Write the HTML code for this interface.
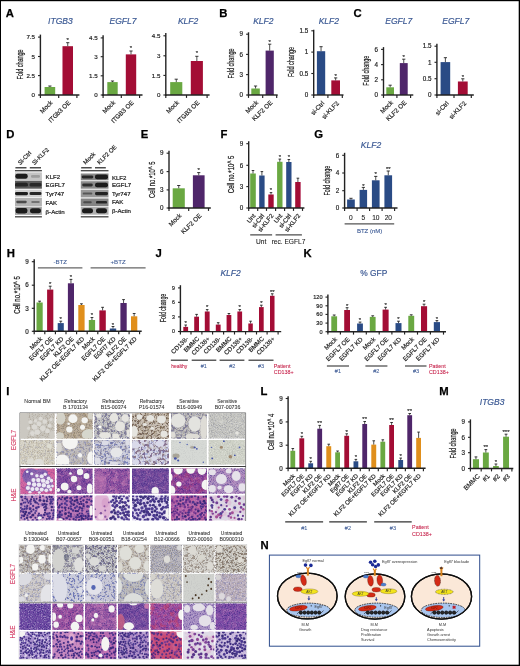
<!DOCTYPE html>
<html lang="en"><head><meta charset="utf-8"><title>Figure</title>
<style>html,body{margin:0;padding:0;background:#fff;}body{width:520px;height:666px;overflow:hidden;}svg{display:block;}svg text{font-family:"Liberation Sans",Arial,Helvetica,sans-serif;}</style>
</head><body>
<svg width="520" height="666" viewBox="0 0 520 666">
<defs>
<filter id="blur1" x="-20%" y="-40%" width="140%" height="180%"><feGaussianBlur stdDeviation="0.55"/></filter>
<filter id="pf" x="0" y="0" width="100%" height="100%" color-interpolation-filters="sRGB"><feTurbulence type="fractalNoise" baseFrequency="0.95" numOctaves="2" seed="3"/><feColorMatrix type="matrix" values="0 0 0 0 0.247  0 0 0 0 0.165  0 0 0 0 0.525  5.0 0 0 0 -2.5"/><feGaussianBlur stdDeviation="0.35"/></filter>
<filter id="pc" x="0" y="0" width="100%" height="100%" color-interpolation-filters="sRGB"><feTurbulence type="fractalNoise" baseFrequency="0.42" numOctaves="2" seed="8"/><feColorMatrix type="matrix" values="0 0 0 0 0.235  0 0 0 0 0.157  0 0 0 0 0.502  10.0 0 0 0 -5.5"/><feGaussianBlur stdDeviation="0.35"/></filter>
<filter id="pd" x="0" y="0" width="100%" height="100%" color-interpolation-filters="sRGB"><feTurbulence type="fractalNoise" baseFrequency="0.42" numOctaves="2" seed="58"/><feColorMatrix type="matrix" values="0 0 0 0 0.235  0 0 0 0 0.157  0 0 0 0 0.502  10.0 0 0 0 -5.5"/><feGaussianBlur stdDeviation="0.35"/></filter>
<filter id="pm" x="0" y="0" width="100%" height="100%" color-interpolation-filters="sRGB"><feTurbulence type="fractalNoise" baseFrequency="0.62" numOctaves="2" seed="5"/><feColorMatrix type="matrix" values="0 0 0 0 0.227  0 0 0 0 0.133  0 0 0 0 0.510  6.0 0 0 0 -3.05"/><feGaussianBlur stdDeviation="0.35"/></filter>
<filter id="kf" x="0" y="0" width="100%" height="100%" color-interpolation-filters="sRGB"><feTurbulence type="fractalNoise" baseFrequency="0.22" numOctaves="2" seed="11"/><feColorMatrix type="matrix" values="0 0 0 0 0.863  0 0 0 0 0.549  0 0 0 0 0.737  5.0 0 0 0 -2.3"/><feGaussianBlur stdDeviation="0.35"/></filter>
<filter id="rf" x="0" y="0" width="100%" height="100%" color-interpolation-filters="sRGB"><feTurbulence type="fractalNoise" baseFrequency="0.2" numOctaves="2" seed="21"/><feColorMatrix type="matrix" values="0 0 0 0 0.831  0 0 0 0 0.251  0 0 0 0 0.369  6.0 0 0 0 -2.9"/><feGaussianBlur stdDeviation="0.35"/></filter>
<filter id="wf" x="0" y="0" width="100%" height="100%" color-interpolation-filters="sRGB"><feTurbulence type="fractalNoise" baseFrequency="0.85" numOctaves="2" seed="14"/><feColorMatrix type="matrix" values="0 0 0 0 1.000  0 0 0 0 1.000  0 0 0 0 1.000  6.0 0 0 0 -3.15"/><feGaussianBlur stdDeviation="0.35"/></filter>
<filter id="wc" x="0" y="0" width="100%" height="100%" color-interpolation-filters="sRGB"><feTurbulence type="fractalNoise" baseFrequency="0.4" numOctaves="2" seed="17"/><feColorMatrix type="matrix" values="0 0 0 0 1.000  0 0 0 0 1.000  0 0 0 0 1.000  8.0 0 0 0 -4.05"/><feGaussianBlur stdDeviation="0.35"/></filter>
<filter id="bf" x="0" y="0" width="100%" height="100%" color-interpolation-filters="sRGB"><feTurbulence type="fractalNoise" baseFrequency="0.95" numOctaves="2" seed="23"/><feColorMatrix type="matrix" values="0 0 0 0 0.502  0 0 0 0 0.455  0 0 0 0 0.400  5.0 0 0 0 -2.5"/><feGaussianBlur stdDeviation="0.35"/></filter>
<filter id="bd" x="0" y="0" width="100%" height="100%" color-interpolation-filters="sRGB"><feTurbulence type="fractalNoise" baseFrequency="0.8" numOctaves="2" seed="29"/><feColorMatrix type="matrix" values="0 0 0 0 0.298  0 0 0 0 0.251  0 0 0 0 0.212  6.0 0 0 0 -3.1"/><feGaussianBlur stdDeviation="0.35"/></filter>
<filter id="bm" x="0" y="0" width="100%" height="100%" color-interpolation-filters="sRGB"><feTurbulence type="fractalNoise" baseFrequency="0.3" numOctaves="2" seed="31"/><feColorMatrix type="matrix" values="0 0 0 0 0.588  0 0 0 0 0.518  0 0 0 0 0.408  5.0 0 0 0 -2.45"/><feGaussianBlur stdDeviation="0.35"/></filter>
<filter id="uf" x="0" y="0" width="100%" height="100%" color-interpolation-filters="sRGB"><feTurbulence type="fractalNoise" baseFrequency="0.9" numOctaves="2" seed="37"/><feColorMatrix type="matrix" values="0 0 0 0 0.373  0 0 0 0 0.412  0 0 0 0 0.667  6.0 0 0 0 -3.2"/><feGaussianBlur stdDeviation="0.35"/></filter>
<filter id="uc" x="0" y="0" width="100%" height="100%" color-interpolation-filters="sRGB"><feTurbulence type="fractalNoise" baseFrequency="0.45" numOctaves="2" seed="41"/><feColorMatrix type="matrix" values="0 0 0 0 0.290  0 0 0 0 0.337  0 0 0 0 0.659  8.0 0 0 0 -4.25"/><feGaussianBlur stdDeviation="0.35"/></filter>
<filter id="gf" x="0" y="0" width="100%" height="100%" color-interpolation-filters="sRGB"><feTurbulence type="fractalNoise" baseFrequency="0.95" numOctaves="2" seed="43"/><feColorMatrix type="matrix" values="0 0 0 0 0.439  0 0 0 0 0.439  0 0 0 0 0.478  5.0 0 0 0 -2.5"/><feGaussianBlur stdDeviation="0.35"/></filter>
<filter id="bc" x="0" y="0" width="100%" height="100%" color-interpolation-filters="sRGB"><feTurbulence type="fractalNoise" baseFrequency="0.45" numOctaves="2" seed="47"/><feColorMatrix type="matrix" values="0 0 0 0 0.361  0 0 0 0 0.275  0 0 0 0 0.212  9.0 0 0 0 -4.7"/><feGaussianBlur stdDeviation="0.35"/></filter>
<filter id="vc" x="0" y="0" width="100%" height="100%" color-interpolation-filters="sRGB"><feTurbulence type="fractalNoise" baseFrequency="0.4" numOctaves="2" seed="53"/><feColorMatrix type="matrix" values="0 0 0 0 0.431  0 0 0 0 0.416  0 0 0 0 0.549  9.0 0 0 0 -4.6"/><feGaussianBlur stdDeviation="0.35"/></filter>
<filter id="mc" x="0" y="0" width="100%" height="100%" color-interpolation-filters="sRGB"><feTurbulence type="fractalNoise" baseFrequency="0.34" numOctaves="2" seed="61"/><feColorMatrix type="matrix" values="0 0 0 0 0.525  0 0 0 0 0.439  0 0 0 0 0.557  10.0 0 0 0 -5.2"/><feGaussianBlur stdDeviation="0.35"/></filter>
<filter id="bb" x="-5%" y="-5%" width="110%" height="110%"><feGaussianBlur stdDeviation="0.45"/></filter>
<filter id="soft" x="0" y="0" width="520" height="666" filterUnits="userSpaceOnUse"><feGaussianBlur stdDeviation="0.3"/></filter>
</defs>
<rect x="0.00" y="0.00" width="520.00" height="666.00" fill="#fff"/>
<g filter="url(#soft)">
<text x="5.80" y="17.20" font-size="11.3" fill="#000" font-weight="bold" stroke="#000" stroke-width="0.25">A</text>
<text x="60.40" y="24.20" font-size="8.5" fill="#3a5893" text-anchor="middle" font-style="italic" stroke="#3a5893" stroke-width="0.18">ITGB3</text>
<text x="19.80" y="64.40" font-size="8.8" fill="#222" text-anchor="middle" transform="rotate(-90 19.80 64.40)" textLength="30.00" lengthAdjust="spacingAndGlyphs" dy="2.8" stroke="#222" stroke-width="0.22">Fold change</text>
<rect x="44.60" y="87.00" width="10.60" height="8.00" fill="#6aa842"/>
<line x1="49.90" y1="87.00" x2="49.90" y2="86.00" stroke="#222" stroke-width="0.8"/>
<line x1="48.30" y1="86.00" x2="51.50" y2="86.00" stroke="#222" stroke-width="0.9"/>
<rect x="62.50" y="46.20" width="10.50" height="48.80" fill="#a30a34"/>
<line x1="67.75" y1="46.20" x2="67.75" y2="42.70" stroke="#222" stroke-width="0.8"/>
<line x1="66.15" y1="42.70" x2="69.35" y2="42.70" stroke="#222" stroke-width="0.9"/>
<text x="67.75" y="42.10" font-size="6.0" fill="#111" text-anchor="middle" stroke="#111" stroke-width="0.1">*</text>
<line x1="40.40" y1="34.60" x2="40.40" y2="95.70" stroke="#222" stroke-width="1.4"/>
<line x1="39.70" y1="95.00" x2="79.40" y2="95.00" stroke="#222" stroke-width="1.4"/>
<line x1="38.00" y1="37.10" x2="40.40" y2="37.10" stroke="#222" stroke-width="1.1"/>
<text x="35.00" y="39.33" font-size="6.2" fill="#222" text-anchor="end" stroke="#222" stroke-width="0.18">7.5</text>
<line x1="38.00" y1="56.50" x2="40.40" y2="56.50" stroke="#222" stroke-width="1.1"/>
<text x="35.00" y="58.73" font-size="6.2" fill="#222" text-anchor="end" stroke="#222" stroke-width="0.18">5</text>
<line x1="38.00" y1="75.60" x2="40.40" y2="75.60" stroke="#222" stroke-width="1.1"/>
<text x="35.00" y="77.83" font-size="6.2" fill="#222" text-anchor="end" stroke="#222" stroke-width="0.18">2.5</text>
<line x1="38.00" y1="95.00" x2="40.40" y2="95.00" stroke="#222" stroke-width="1.1"/>
<text x="35.00" y="97.23" font-size="6.2" fill="#222" text-anchor="end" stroke="#222" stroke-width="0.18">0</text>
<line x1="40.40" y1="95.00" x2="40.40" y2="97.90" stroke="#222" stroke-width="1.15"/>
<line x1="58.70" y1="95.00" x2="58.70" y2="97.90" stroke="#222" stroke-width="1.15"/>
<line x1="76.90" y1="95.00" x2="76.90" y2="97.90" stroke="#222" stroke-width="1.15"/>
<text x="53.10" y="103.00" font-size="6.3" fill="#222" text-anchor="end" transform="rotate(-45 53.10 103.00)" stroke="#222" stroke-width="0.18">Mock</text>
<text x="71.00" y="103.00" font-size="6.3" fill="#222" text-anchor="end" transform="rotate(-45 71.00 103.00)" stroke="#222" stroke-width="0.18">ITGb3 OE</text>
<text x="123.00" y="24.20" font-size="8.5" fill="#3a5893" text-anchor="middle" font-style="italic" stroke="#3a5893" stroke-width="0.18">EGFL7</text>
<rect x="107.30" y="82.10" width="10.40" height="12.90" fill="#6aa842"/>
<line x1="112.50" y1="82.10" x2="112.50" y2="81.00" stroke="#222" stroke-width="0.8"/>
<line x1="110.90" y1="81.00" x2="114.10" y2="81.00" stroke="#222" stroke-width="0.9"/>
<rect x="125.80" y="54.40" width="10.40" height="40.60" fill="#a30a34"/>
<line x1="131.00" y1="54.40" x2="131.00" y2="51.00" stroke="#222" stroke-width="0.8"/>
<line x1="129.40" y1="51.00" x2="132.60" y2="51.00" stroke="#222" stroke-width="0.9"/>
<text x="131.00" y="50.40" font-size="6.0" fill="#111" text-anchor="middle" stroke="#111" stroke-width="0.1">*</text>
<line x1="103.10" y1="35.20" x2="103.10" y2="95.70" stroke="#222" stroke-width="1.4"/>
<line x1="102.40" y1="95.00" x2="142.50" y2="95.00" stroke="#222" stroke-width="1.4"/>
<line x1="100.70" y1="37.90" x2="103.10" y2="37.90" stroke="#222" stroke-width="1.1"/>
<text x="97.70" y="40.13" font-size="6.2" fill="#222" text-anchor="end" stroke="#222" stroke-width="0.18">4.5</text>
<line x1="100.70" y1="56.70" x2="103.10" y2="56.70" stroke="#222" stroke-width="1.1"/>
<text x="97.70" y="58.93" font-size="6.2" fill="#222" text-anchor="end" stroke="#222" stroke-width="0.18">3</text>
<line x1="100.70" y1="75.80" x2="103.10" y2="75.80" stroke="#222" stroke-width="1.1"/>
<text x="97.70" y="78.03" font-size="6.2" fill="#222" text-anchor="end" stroke="#222" stroke-width="0.18">1.5</text>
<line x1="100.70" y1="95.00" x2="103.10" y2="95.00" stroke="#222" stroke-width="1.1"/>
<text x="97.70" y="97.23" font-size="6.2" fill="#222" text-anchor="end" stroke="#222" stroke-width="0.18">0</text>
<line x1="103.10" y1="95.00" x2="103.10" y2="97.90" stroke="#222" stroke-width="1.15"/>
<line x1="121.30" y1="95.00" x2="121.30" y2="97.90" stroke="#222" stroke-width="1.15"/>
<line x1="139.60" y1="95.00" x2="139.60" y2="97.90" stroke="#222" stroke-width="1.15"/>
<text x="115.70" y="103.00" font-size="6.3" fill="#222" text-anchor="end" transform="rotate(-45 115.70 103.00)" stroke="#222" stroke-width="0.18">Mock</text>
<text x="134.20" y="103.00" font-size="6.3" fill="#222" text-anchor="end" transform="rotate(-45 134.20 103.00)" stroke="#222" stroke-width="0.18">ITGB3 OE</text>
<text x="188.10" y="24.20" font-size="8.5" fill="#3a5893" text-anchor="middle" font-style="italic" stroke="#3a5893" stroke-width="0.18">KLF2</text>
<rect x="170.20" y="82.10" width="12.10" height="12.90" fill="#6aa842"/>
<line x1="176.25" y1="82.10" x2="176.25" y2="79.20" stroke="#222" stroke-width="0.8"/>
<line x1="174.65" y1="79.20" x2="177.85" y2="79.20" stroke="#222" stroke-width="0.9"/>
<rect x="190.80" y="61.00" width="12.10" height="34.00" fill="#a30a34"/>
<line x1="196.85" y1="61.00" x2="196.85" y2="56.30" stroke="#222" stroke-width="0.8"/>
<line x1="195.25" y1="56.30" x2="198.45" y2="56.30" stroke="#222" stroke-width="0.9"/>
<text x="196.85" y="55.40" font-size="6.0" fill="#111" text-anchor="middle" stroke="#111" stroke-width="0.1">*</text>
<line x1="165.80" y1="33.00" x2="165.80" y2="95.70" stroke="#222" stroke-width="1.4"/>
<line x1="165.10" y1="95.00" x2="209.60" y2="95.00" stroke="#222" stroke-width="1.4"/>
<line x1="163.40" y1="35.80" x2="165.80" y2="35.80" stroke="#222" stroke-width="1.1"/>
<text x="160.40" y="38.03" font-size="6.2" fill="#222" text-anchor="end" stroke="#222" stroke-width="0.18">4.5</text>
<line x1="163.40" y1="55.80" x2="165.80" y2="55.80" stroke="#222" stroke-width="1.1"/>
<text x="160.40" y="58.03" font-size="6.2" fill="#222" text-anchor="end" stroke="#222" stroke-width="0.18">3</text>
<line x1="163.40" y1="75.40" x2="165.80" y2="75.40" stroke="#222" stroke-width="1.1"/>
<text x="160.40" y="77.63" font-size="6.2" fill="#222" text-anchor="end" stroke="#222" stroke-width="0.18">1.5</text>
<line x1="163.40" y1="95.00" x2="165.80" y2="95.00" stroke="#222" stroke-width="1.1"/>
<text x="160.40" y="97.23" font-size="6.2" fill="#222" text-anchor="end" stroke="#222" stroke-width="0.18">0</text>
<line x1="165.80" y1="95.00" x2="165.80" y2="97.90" stroke="#222" stroke-width="1.15"/>
<line x1="186.50" y1="95.00" x2="186.50" y2="97.90" stroke="#222" stroke-width="1.15"/>
<line x1="207.10" y1="95.00" x2="207.10" y2="97.90" stroke="#222" stroke-width="1.15"/>
<text x="179.40" y="103.00" font-size="6.3" fill="#222" text-anchor="end" transform="rotate(-45 179.40 103.00)" stroke="#222" stroke-width="0.18">Mock</text>
<text x="200.00" y="103.00" font-size="6.3" fill="#222" text-anchor="end" transform="rotate(-45 200.00 103.00)" stroke="#222" stroke-width="0.18">ITGB3 OE</text>
<text x="219.20" y="17.20" font-size="11.3" fill="#000" font-weight="bold" stroke="#000" stroke-width="0.25">B</text>
<text x="263.30" y="24.20" font-size="8.5" fill="#3a5893" text-anchor="middle" font-style="italic" stroke="#3a5893" stroke-width="0.18">KLF2</text>
<text x="231.60" y="63.50" font-size="8.8" fill="#222" text-anchor="middle" transform="rotate(-90 231.60 63.50)" textLength="30.00" lengthAdjust="spacingAndGlyphs" dy="2.8" stroke="#222" stroke-width="0.22">Fold change</text>
<rect x="251.30" y="88.50" width="8.50" height="6.50" fill="#6aa842"/>
<line x1="255.55" y1="88.50" x2="255.55" y2="86.00" stroke="#222" stroke-width="0.8"/>
<line x1="253.95" y1="86.00" x2="257.15" y2="86.00" stroke="#222" stroke-width="0.9"/>
<rect x="265.60" y="50.60" width="8.20" height="44.40" fill="#50256a"/>
<line x1="269.70" y1="50.60" x2="269.70" y2="44.20" stroke="#222" stroke-width="0.8"/>
<line x1="268.10" y1="44.20" x2="271.30" y2="44.20" stroke="#222" stroke-width="0.9"/>
<text x="269.70" y="43.90" font-size="6.0" fill="#111" text-anchor="middle" stroke="#111" stroke-width="0.1">*</text>
<line x1="248.50" y1="32.30" x2="248.50" y2="95.70" stroke="#222" stroke-width="1.4"/>
<line x1="247.80" y1="95.00" x2="277.70" y2="95.00" stroke="#222" stroke-width="1.4"/>
<line x1="246.10" y1="34.20" x2="248.50" y2="34.20" stroke="#222" stroke-width="1.1"/>
<text x="243.10" y="36.47" font-size="6.3" fill="#222" text-anchor="end" stroke="#222" stroke-width="0.18">9</text>
<line x1="246.10" y1="54.40" x2="248.50" y2="54.40" stroke="#222" stroke-width="1.1"/>
<text x="243.10" y="56.67" font-size="6.3" fill="#222" text-anchor="end" stroke="#222" stroke-width="0.18">6</text>
<line x1="246.10" y1="74.60" x2="248.50" y2="74.60" stroke="#222" stroke-width="1.1"/>
<text x="243.10" y="76.87" font-size="6.3" fill="#222" text-anchor="end" stroke="#222" stroke-width="0.18">3</text>
<line x1="246.10" y1="95.00" x2="248.50" y2="95.00" stroke="#222" stroke-width="1.1"/>
<text x="243.10" y="97.27" font-size="6.3" fill="#222" text-anchor="end" stroke="#222" stroke-width="0.18">0</text>
<line x1="248.50" y1="95.00" x2="248.50" y2="97.90" stroke="#222" stroke-width="1.15"/>
<line x1="262.70" y1="95.00" x2="262.70" y2="97.90" stroke="#222" stroke-width="1.15"/>
<line x1="276.70" y1="95.00" x2="276.70" y2="97.90" stroke="#222" stroke-width="1.15"/>
<text x="258.70" y="103.00" font-size="6.3" fill="#222" text-anchor="end" transform="rotate(-45 258.70 103.00)" stroke="#222" stroke-width="0.18">Mock</text>
<text x="272.90" y="103.00" font-size="6.3" fill="#222" text-anchor="end" transform="rotate(-45 272.90 103.00)" stroke="#222" stroke-width="0.18">KLF2 OE</text>
<text x="328.80" y="24.20" font-size="8.5" fill="#3a5893" text-anchor="middle" font-style="italic" stroke="#3a5893" stroke-width="0.18">KLF2</text>
<text x="291.50" y="62.00" font-size="8.8" fill="#222" text-anchor="middle" transform="rotate(-90 291.50 62.00)" textLength="30.00" lengthAdjust="spacingAndGlyphs" dy="2.8" stroke="#222" stroke-width="0.22">Fold change</text>
<rect x="316.90" y="51.20" width="8.30" height="43.80" fill="#2b4b85"/>
<line x1="321.05" y1="51.20" x2="321.05" y2="46.70" stroke="#222" stroke-width="0.8"/>
<line x1="319.45" y1="46.70" x2="322.65" y2="46.70" stroke="#222" stroke-width="0.9"/>
<rect x="331.30" y="80.40" width="8.70" height="14.60" fill="#a30a34"/>
<line x1="335.65" y1="80.40" x2="335.65" y2="77.90" stroke="#222" stroke-width="0.8"/>
<line x1="334.05" y1="77.90" x2="337.25" y2="77.90" stroke="#222" stroke-width="0.9"/>
<text x="335.65" y="77.70" font-size="6.0" fill="#111" text-anchor="middle" stroke="#111" stroke-width="0.1">*</text>
<line x1="313.70" y1="29.80" x2="313.70" y2="95.70" stroke="#222" stroke-width="1.4"/>
<line x1="313.00" y1="95.00" x2="343.50" y2="95.00" stroke="#222" stroke-width="1.4"/>
<line x1="311.30" y1="30.80" x2="313.70" y2="30.80" stroke="#222" stroke-width="1.1"/>
<text x="308.30" y="33.07" font-size="6.3" fill="#222" text-anchor="end" stroke="#222" stroke-width="0.18">1.5</text>
<line x1="311.30" y1="52.10" x2="313.70" y2="52.10" stroke="#222" stroke-width="1.1"/>
<text x="308.30" y="54.37" font-size="6.3" fill="#222" text-anchor="end" stroke="#222" stroke-width="0.18">1</text>
<line x1="311.30" y1="73.50" x2="313.70" y2="73.50" stroke="#222" stroke-width="1.1"/>
<text x="308.30" y="75.77" font-size="6.3" fill="#222" text-anchor="end" stroke="#222" stroke-width="0.18">0.5</text>
<line x1="311.30" y1="95.00" x2="313.70" y2="95.00" stroke="#222" stroke-width="1.1"/>
<text x="308.30" y="97.27" font-size="6.3" fill="#222" text-anchor="end" stroke="#222" stroke-width="0.18">0</text>
<line x1="313.70" y1="95.00" x2="313.70" y2="97.90" stroke="#222" stroke-width="1.15"/>
<line x1="327.90" y1="95.00" x2="327.90" y2="97.90" stroke="#222" stroke-width="1.15"/>
<line x1="342.30" y1="95.00" x2="342.30" y2="97.90" stroke="#222" stroke-width="1.15"/>
<text x="324.80" y="103.60" font-size="6.3" fill="#222" text-anchor="end" transform="rotate(-47 324.80 103.60)" stroke="#222" stroke-width="0.18">si-Ctrl</text>
<text x="339.40" y="103.60" font-size="6.3" fill="#222" text-anchor="end" transform="rotate(-47 339.40 103.60)" stroke="#222" stroke-width="0.18">si-KLF2</text>
<text x="353.50" y="17.20" font-size="11.3" fill="#000" font-weight="bold" stroke="#000" stroke-width="0.25">C</text>
<text x="398.70" y="24.20" font-size="8.5" fill="#3a5893" text-anchor="middle" font-style="italic" stroke="#3a5893" stroke-width="0.18">EGFL7</text>
<text x="366.30" y="70.70" font-size="8.8" fill="#222" text-anchor="middle" transform="rotate(-90 366.30 70.70)" textLength="30.00" lengthAdjust="spacingAndGlyphs" dy="2.8" stroke="#222" stroke-width="0.22">Fold change</text>
<rect x="386.30" y="87.30" width="7.70" height="7.70" fill="#6aa842"/>
<line x1="390.15" y1="87.30" x2="390.15" y2="85.20" stroke="#222" stroke-width="0.8"/>
<line x1="388.55" y1="85.20" x2="391.75" y2="85.20" stroke="#222" stroke-width="0.9"/>
<rect x="399.80" y="63.10" width="7.90" height="31.90" fill="#50256a"/>
<line x1="403.75" y1="63.10" x2="403.75" y2="59.20" stroke="#222" stroke-width="0.8"/>
<line x1="402.15" y1="59.20" x2="405.35" y2="59.20" stroke="#222" stroke-width="0.9"/>
<text x="403.75" y="59.40" font-size="6.0" fill="#111" text-anchor="middle" stroke="#111" stroke-width="0.1">*</text>
<line x1="383.50" y1="47.10" x2="383.50" y2="95.70" stroke="#222" stroke-width="1.4"/>
<line x1="382.80" y1="95.00" x2="413.30" y2="95.00" stroke="#222" stroke-width="1.4"/>
<line x1="381.10" y1="49.40" x2="383.50" y2="49.40" stroke="#222" stroke-width="1.1"/>
<text x="378.10" y="51.67" font-size="6.3" fill="#222" text-anchor="end" stroke="#222" stroke-width="0.18">6</text>
<line x1="381.10" y1="64.60" x2="383.50" y2="64.60" stroke="#222" stroke-width="1.1"/>
<text x="378.10" y="66.87" font-size="6.3" fill="#222" text-anchor="end" stroke="#222" stroke-width="0.18">4</text>
<line x1="381.10" y1="79.80" x2="383.50" y2="79.80" stroke="#222" stroke-width="1.1"/>
<text x="378.10" y="82.07" font-size="6.3" fill="#222" text-anchor="end" stroke="#222" stroke-width="0.18">2</text>
<line x1="381.10" y1="95.00" x2="383.50" y2="95.00" stroke="#222" stroke-width="1.1"/>
<text x="378.10" y="97.27" font-size="6.3" fill="#222" text-anchor="end" stroke="#222" stroke-width="0.18">0</text>
<line x1="383.50" y1="95.00" x2="383.50" y2="97.90" stroke="#222" stroke-width="1.15"/>
<line x1="396.90" y1="95.00" x2="396.90" y2="97.90" stroke="#222" stroke-width="1.15"/>
<line x1="410.60" y1="95.00" x2="410.60" y2="97.90" stroke="#222" stroke-width="1.15"/>
<text x="393.40" y="103.00" font-size="6.3" fill="#222" text-anchor="end" transform="rotate(-45 393.40 103.00)" stroke="#222" stroke-width="0.18">Mock</text>
<text x="406.90" y="103.00" font-size="6.3" fill="#222" text-anchor="end" transform="rotate(-45 406.90 103.00)" stroke="#222" stroke-width="0.18">KLF2 OE</text>
<text x="455.70" y="24.20" font-size="8.5" fill="#3a5893" text-anchor="middle" font-style="italic" stroke="#3a5893" stroke-width="0.18">EGFL7</text>
<rect x="440.60" y="62.10" width="9.60" height="32.90" fill="#2b4b85"/>
<line x1="445.40" y1="62.10" x2="445.40" y2="57.70" stroke="#222" stroke-width="0.8"/>
<line x1="443.80" y1="57.70" x2="447.00" y2="57.70" stroke="#222" stroke-width="0.9"/>
<rect x="457.90" y="81.50" width="9.80" height="13.50" fill="#a30a34"/>
<line x1="462.80" y1="81.50" x2="462.80" y2="78.80" stroke="#222" stroke-width="0.8"/>
<line x1="461.20" y1="78.80" x2="464.40" y2="78.80" stroke="#222" stroke-width="0.9"/>
<text x="462.80" y="78.70" font-size="6.0" fill="#111" text-anchor="middle" stroke="#111" stroke-width="0.1">*</text>
<line x1="436.90" y1="43.80" x2="436.90" y2="95.70" stroke="#222" stroke-width="1.4"/>
<line x1="436.20" y1="95.00" x2="473.80" y2="95.00" stroke="#222" stroke-width="1.4"/>
<line x1="434.50" y1="46.20" x2="436.90" y2="46.20" stroke="#222" stroke-width="1.1"/>
<text x="431.50" y="48.47" font-size="6.3" fill="#222" text-anchor="end" stroke="#222" stroke-width="0.18">1.5</text>
<line x1="434.50" y1="62.30" x2="436.90" y2="62.30" stroke="#222" stroke-width="1.1"/>
<text x="431.50" y="64.57" font-size="6.3" fill="#222" text-anchor="end" stroke="#222" stroke-width="0.18">1</text>
<line x1="434.50" y1="78.70" x2="436.90" y2="78.70" stroke="#222" stroke-width="1.1"/>
<text x="431.50" y="80.97" font-size="6.3" fill="#222" text-anchor="end" stroke="#222" stroke-width="0.18">0.5</text>
<line x1="434.50" y1="95.00" x2="436.90" y2="95.00" stroke="#222" stroke-width="1.1"/>
<text x="431.50" y="97.27" font-size="6.3" fill="#222" text-anchor="end" stroke="#222" stroke-width="0.18">0</text>
<line x1="436.90" y1="95.00" x2="436.90" y2="97.90" stroke="#222" stroke-width="1.15"/>
<line x1="454.00" y1="95.00" x2="454.00" y2="97.90" stroke="#222" stroke-width="1.15"/>
<line x1="471.30" y1="95.00" x2="471.30" y2="97.90" stroke="#222" stroke-width="1.15"/>
<text x="449.20" y="103.60" font-size="6.3" fill="#222" text-anchor="end" transform="rotate(-47 449.20 103.60)" stroke="#222" stroke-width="0.18">si-Ctrl</text>
<text x="466.60" y="103.60" font-size="6.3" fill="#222" text-anchor="end" transform="rotate(-47 466.60 103.60)" stroke="#222" stroke-width="0.18">si-KLF2</text>
<text x="6.30" y="137.50" font-size="11.3" fill="#000" font-weight="bold" stroke="#000" stroke-width="0.25">D</text>
<line x1="15.00" y1="170.70" x2="41.90" y2="170.70" stroke="#444" stroke-width="1.3"/>
<line x1="15.00" y1="216.80" x2="41.90" y2="216.80" stroke="#444" stroke-width="1.3"/>
<rect x="15.00" y="172.40" width="26.90" height="7.90" fill="#c4c4c4"/>
<rect x="15.25" y="173.85" width="12.50" height="5.00" rx="2.25" fill="#141414" opacity="0.95" filter="url(#blur1)"/>
<rect x="31.00" y="175.05" width="9.00" height="2.60" rx="1.17" fill="#141414" opacity="0.22" filter="url(#blur1)"/>
<rect x="15.00" y="180.70" width="26.90" height="8.00" fill="#5c5c5c"/>
<rect x="15.00" y="182.80" width="13.00" height="3.80" rx="1.71" fill="#141414" opacity="0.75" filter="url(#blur1)"/>
<rect x="29.50" y="183.00" width="12.00" height="3.40" rx="1.53" fill="#141414" opacity="0.7" filter="url(#blur1)"/>
<rect x="15.00" y="189.70" width="26.90" height="7.70" fill="#d0d0d0"/>
<rect x="15.00" y="191.95" width="13.00" height="3.20" rx="1.44" fill="#141414" opacity="0.95" filter="url(#blur1)"/>
<rect x="29.50" y="192.05" width="12.00" height="3.00" rx="1.35" fill="#141414" opacity="0.9" filter="url(#blur1)"/>
<rect x="15.00" y="198.00" width="26.90" height="8.00" fill="#b2b2b2"/>
<rect x="16.25" y="200.80" width="10.50" height="2.40" rx="1.08" fill="#141414" opacity="0.65" filter="url(#blur1)"/>
<rect x="31.25" y="200.90" width="8.50" height="2.20" rx="0.99" fill="#141414" opacity="0.4" filter="url(#blur1)"/>
<rect x="15.00" y="206.60" width="26.90" height="8.30" fill="#a6a6a6"/>
<rect x="15.50" y="208.05" width="12.00" height="5.40" rx="2.43" fill="#141414" opacity="0.97" filter="url(#blur1)"/>
<rect x="30.00" y="208.15" width="11.00" height="5.20" rx="2.34" fill="#141414" opacity="0.95" filter="url(#blur1)"/>
<text x="45.60" y="178.50" font-size="6.1" fill="#1a1a1a" stroke="#1a1a1a" stroke-width="0.2">KLF2</text>
<text x="45.60" y="187.00" font-size="6.1" fill="#1a1a1a" stroke="#1a1a1a" stroke-width="0.2">EGFL7</text>
<text x="45.60" y="196.20" font-size="6.1" fill="#1a1a1a" stroke="#1a1a1a" stroke-width="0.2">Tyr747</text>
<text x="45.60" y="204.50" font-size="6.1" fill="#1a1a1a" stroke="#1a1a1a" stroke-width="0.2">FAK</text>
<text x="45.60" y="213.50" font-size="6.1" fill="#1a1a1a" stroke="#1a1a1a" stroke-width="0.2">β-Actin</text>
<line x1="15.40" y1="167.80" x2="26.50" y2="167.80" stroke="#222" stroke-width="1.2"/>
<line x1="29.80" y1="167.80" x2="41.00" y2="167.80" stroke="#222" stroke-width="1.2"/>
<text x="20.20" y="165.20" font-size="5.9" fill="#222" transform="rotate(-45 20.20 165.20)" stroke="#222" stroke-width="0.18">Si-Ctrl</text>
<text x="34.40" y="165.20" font-size="5.9" fill="#222" transform="rotate(-45 34.40 165.20)" stroke="#222" stroke-width="0.18">Si-KLF2</text>
<line x1="80.80" y1="170.70" x2="108.50" y2="170.70" stroke="#444" stroke-width="1.3"/>
<line x1="80.80" y1="216.80" x2="108.50" y2="216.80" stroke="#444" stroke-width="1.3"/>
<rect x="80.80" y="173.50" width="27.70" height="6.80" fill="#888888"/>
<rect x="81.75" y="175.40" width="11.50" height="3.00" rx="1.35" fill="#141414" opacity="0.85" filter="url(#blur1)"/>
<rect x="95.00" y="174.60" width="13.00" height="4.60" rx="2.07" fill="#141414" opacity="0.95" filter="url(#blur1)"/>
<rect x="80.80" y="181.20" width="27.70" height="7.50" fill="#8a8a8a"/>
<rect x="82.25" y="183.45" width="10.50" height="3.00" rx="1.35" fill="#141414" opacity="0.8" filter="url(#blur1)"/>
<rect x="95.00" y="182.65" width="13.00" height="4.60" rx="2.07" fill="#141414" opacity="0.95" filter="url(#blur1)"/>
<rect x="80.80" y="189.70" width="27.70" height="7.70" fill="#989898"/>
<rect x="82.75" y="192.55" width="9.50" height="2.00" rx="0.90" fill="#141414" opacity="0.5" filter="url(#blur1)"/>
<rect x="95.00" y="191.95" width="13.00" height="3.20" rx="1.44" fill="#141414" opacity="0.9" filter="url(#blur1)"/>
<rect x="80.80" y="198.50" width="27.70" height="7.50" fill="#848484"/>
<rect x="83.25" y="201.30" width="8.50" height="1.90" rx="0.85" fill="#141414" opacity="0.5" filter="url(#blur1)"/>
<rect x="96.00" y="200.95" width="11.00" height="2.60" rx="1.17" fill="#141414" opacity="0.85" filter="url(#blur1)"/>
<rect x="80.80" y="206.60" width="27.70" height="8.10" fill="#b0b0b0"/>
<rect x="82.00" y="208.15" width="11.00" height="5.00" rx="2.25" fill="#141414" opacity="0.97" filter="url(#blur1)"/>
<rect x="96.00" y="208.15" width="11.00" height="5.00" rx="2.25" fill="#141414" opacity="0.97" filter="url(#blur1)"/>
<text x="111.90" y="179.90" font-size="6.1" fill="#1a1a1a" stroke="#1a1a1a" stroke-width="0.2">KLF2</text>
<text x="111.90" y="186.60" font-size="6.1" fill="#1a1a1a" stroke="#1a1a1a" stroke-width="0.2">EGFL7</text>
<text x="111.90" y="196.20" font-size="6.1" fill="#1a1a1a" stroke="#1a1a1a" stroke-width="0.2">Tyr747</text>
<text x="111.90" y="203.90" font-size="6.1" fill="#1a1a1a" stroke="#1a1a1a" stroke-width="0.2">FAK</text>
<text x="111.90" y="212.60" font-size="6.1" fill="#1a1a1a" stroke="#1a1a1a" stroke-width="0.2">β-Actin</text>
<line x1="81.20" y1="167.80" x2="91.70" y2="167.80" stroke="#222" stroke-width="1.2"/>
<line x1="95.00" y1="167.80" x2="105.80" y2="167.80" stroke="#222" stroke-width="1.2"/>
<text x="85.60" y="164.80" font-size="6.0" fill="#222" transform="rotate(-45 85.60 164.80)" stroke="#222" stroke-width="0.18">Mock</text>
<text x="99.60" y="164.80" font-size="6.0" fill="#222" transform="rotate(-45 99.60 164.80)" stroke="#222" stroke-width="0.18">KLF2 OE</text>
<text x="140.80" y="137.50" font-size="11.3" fill="#000" font-weight="bold" stroke="#000" stroke-width="0.25">E</text>
<text x="151.80" y="179.70" font-size="8.8" fill="#222" text-anchor="middle" transform="rotate(-90 151.80 179.70)" textLength="36.50" lengthAdjust="spacingAndGlyphs" dy="2.8" stroke="#222" stroke-width="0.22">Cell no.*10^ 5</text>
<rect x="172.70" y="188.30" width="12.10" height="19.70" fill="#6aa842"/>
<line x1="178.75" y1="188.30" x2="178.75" y2="185.50" stroke="#222" stroke-width="0.8"/>
<line x1="177.15" y1="185.50" x2="180.35" y2="185.50" stroke="#222" stroke-width="0.9"/>
<rect x="192.90" y="175.30" width="11.70" height="32.70" fill="#50256a"/>
<line x1="198.75" y1="175.30" x2="198.75" y2="172.60" stroke="#222" stroke-width="0.8"/>
<line x1="197.15" y1="172.60" x2="200.35" y2="172.60" stroke="#222" stroke-width="0.9"/>
<text x="198.75" y="172.20" font-size="6.0" fill="#111" text-anchor="middle" stroke="#111" stroke-width="0.1">*</text>
<line x1="169.00" y1="150.80" x2="169.00" y2="208.70" stroke="#222" stroke-width="1.4"/>
<line x1="168.30" y1="208.00" x2="210.80" y2="208.00" stroke="#222" stroke-width="1.4"/>
<line x1="166.60" y1="153.20" x2="169.00" y2="153.20" stroke="#222" stroke-width="1.1"/>
<text x="163.60" y="155.47" font-size="6.3" fill="#222" text-anchor="end" stroke="#222" stroke-width="0.18">9</text>
<line x1="166.60" y1="171.60" x2="169.00" y2="171.60" stroke="#222" stroke-width="1.1"/>
<text x="163.60" y="173.87" font-size="6.3" fill="#222" text-anchor="end" stroke="#222" stroke-width="0.18">6</text>
<line x1="166.60" y1="189.90" x2="169.00" y2="189.90" stroke="#222" stroke-width="1.1"/>
<text x="163.60" y="192.17" font-size="6.3" fill="#222" text-anchor="end" stroke="#222" stroke-width="0.18">3</text>
<line x1="166.60" y1="208.00" x2="169.00" y2="208.00" stroke="#222" stroke-width="1.1"/>
<text x="163.60" y="210.27" font-size="6.3" fill="#222" text-anchor="end" stroke="#222" stroke-width="0.18">0</text>
<line x1="169.00" y1="208.00" x2="169.00" y2="210.90" stroke="#222" stroke-width="1.15"/>
<line x1="188.70" y1="208.00" x2="188.70" y2="210.90" stroke="#222" stroke-width="1.15"/>
<line x1="208.50" y1="208.00" x2="208.50" y2="210.90" stroke="#222" stroke-width="1.15"/>
<text x="181.90" y="216.00" font-size="6.3" fill="#222" text-anchor="end" transform="rotate(-45 181.90 216.00)" stroke="#222" stroke-width="0.18">Mock</text>
<text x="201.90" y="216.00" font-size="6.3" fill="#222" text-anchor="end" transform="rotate(-45 201.90 216.00)" stroke="#222" stroke-width="0.18">KLF2 OE</text>
<text x="220.60" y="137.50" font-size="11.3" fill="#000" font-weight="bold" stroke="#000" stroke-width="0.25">F</text>
<text x="231.30" y="174.40" font-size="8.8" fill="#222" text-anchor="middle" transform="rotate(-90 231.30 174.40)" textLength="37.50" lengthAdjust="spacingAndGlyphs" dy="2.8" stroke="#222" stroke-width="0.22">Cell no.*10^ 5</text>
<rect x="250.20" y="173.50" width="5.60" height="34.50" fill="#6aa842"/>
<line x1="253.00" y1="173.50" x2="253.00" y2="170.50" stroke="#222" stroke-width="0.8"/>
<line x1="251.70" y1="170.50" x2="254.30" y2="170.50" stroke="#222" stroke-width="0.9"/>
<rect x="259.20" y="175.50" width="5.40" height="32.50" fill="#2b4b85"/>
<line x1="261.90" y1="175.50" x2="261.90" y2="171.60" stroke="#222" stroke-width="0.8"/>
<line x1="260.60" y1="171.60" x2="263.20" y2="171.60" stroke="#222" stroke-width="0.9"/>
<rect x="268.30" y="194.50" width="5.40" height="13.50" fill="#a30a34"/>
<line x1="271.00" y1="194.50" x2="271.00" y2="192.60" stroke="#222" stroke-width="0.8"/>
<line x1="269.70" y1="192.60" x2="272.30" y2="192.60" stroke="#222" stroke-width="0.9"/>
<text x="271.00" y="192.40" font-size="6.0" fill="#111" text-anchor="middle" stroke="#111" stroke-width="0.1">*</text>
<rect x="277.10" y="161.80" width="5.40" height="46.20" fill="#6aa842"/>
<line x1="279.80" y1="161.80" x2="279.80" y2="159.10" stroke="#222" stroke-width="0.8"/>
<line x1="278.50" y1="159.10" x2="281.10" y2="159.10" stroke="#222" stroke-width="0.9"/>
<text x="279.80" y="158.80" font-size="6.0" fill="#111" text-anchor="middle" stroke="#111" stroke-width="0.1">*</text>
<rect x="286.20" y="162.00" width="5.30" height="46.00" fill="#2b4b85"/>
<line x1="288.85" y1="162.00" x2="288.85" y2="159.50" stroke="#222" stroke-width="0.8"/>
<line x1="287.55" y1="159.50" x2="290.15" y2="159.50" stroke="#222" stroke-width="0.9"/>
<text x="288.85" y="159.30" font-size="6.0" fill="#111" text-anchor="middle" stroke="#111" stroke-width="0.1">*</text>
<rect x="295.20" y="182.00" width="5.40" height="26.00" fill="#a30a34"/>
<line x1="297.90" y1="182.00" x2="297.90" y2="178.20" stroke="#222" stroke-width="0.8"/>
<line x1="296.60" y1="178.20" x2="299.20" y2="178.20" stroke="#222" stroke-width="0.9"/>
<line x1="248.70" y1="141.20" x2="248.70" y2="208.70" stroke="#222" stroke-width="1.4"/>
<line x1="248.00" y1="208.00" x2="304.40" y2="208.00" stroke="#222" stroke-width="1.4"/>
<line x1="246.30" y1="143.70" x2="248.70" y2="143.70" stroke="#222" stroke-width="1.1"/>
<text x="243.30" y="145.97" font-size="6.3" fill="#222" text-anchor="end" stroke="#222" stroke-width="0.18">9</text>
<line x1="246.30" y1="165.30" x2="248.70" y2="165.30" stroke="#222" stroke-width="1.1"/>
<text x="243.30" y="167.57" font-size="6.3" fill="#222" text-anchor="end" stroke="#222" stroke-width="0.18">6</text>
<line x1="246.30" y1="186.60" x2="248.70" y2="186.60" stroke="#222" stroke-width="1.1"/>
<text x="243.30" y="188.87" font-size="6.3" fill="#222" text-anchor="end" stroke="#222" stroke-width="0.18">3</text>
<line x1="246.30" y1="208.00" x2="248.70" y2="208.00" stroke="#222" stroke-width="1.1"/>
<text x="243.30" y="210.27" font-size="6.3" fill="#222" text-anchor="end" stroke="#222" stroke-width="0.18">0</text>
<line x1="248.70" y1="208.00" x2="248.70" y2="210.90" stroke="#222" stroke-width="1.15"/>
<line x1="257.70" y1="208.00" x2="257.70" y2="210.90" stroke="#222" stroke-width="1.15"/>
<line x1="266.50" y1="208.00" x2="266.50" y2="210.90" stroke="#222" stroke-width="1.15"/>
<line x1="275.60" y1="208.00" x2="275.60" y2="210.90" stroke="#222" stroke-width="1.15"/>
<line x1="284.60" y1="208.00" x2="284.60" y2="210.90" stroke="#222" stroke-width="1.15"/>
<line x1="293.50" y1="208.00" x2="293.50" y2="210.90" stroke="#222" stroke-width="1.15"/>
<line x1="302.50" y1="208.00" x2="302.50" y2="210.90" stroke="#222" stroke-width="1.15"/>
<text x="255.80" y="215.80" font-size="6.2" fill="#222" text-anchor="end" transform="rotate(-52 255.80 215.80)" stroke="#222" stroke-width="0.18">Unt</text>
<text x="264.70" y="215.80" font-size="6.2" fill="#222" text-anchor="end" transform="rotate(-52 264.70 215.80)" stroke="#222" stroke-width="0.18">si-Ctrl</text>
<text x="273.80" y="215.80" font-size="6.2" fill="#222" text-anchor="end" transform="rotate(-52 273.80 215.80)" stroke="#222" stroke-width="0.18">si-KLF2</text>
<text x="282.60" y="215.80" font-size="6.2" fill="#222" text-anchor="end" transform="rotate(-52 282.60 215.80)" stroke="#222" stroke-width="0.18">Unt</text>
<text x="291.60" y="215.80" font-size="6.2" fill="#222" text-anchor="end" transform="rotate(-52 291.60 215.80)" stroke="#222" stroke-width="0.18">si-Ctrl</text>
<text x="300.70" y="215.80" font-size="6.2" fill="#222" text-anchor="end" transform="rotate(-52 300.70 215.80)" stroke="#222" stroke-width="0.18">si-KLF2</text>
<line x1="250.20" y1="234.90" x2="272.10" y2="234.90" stroke="#333" stroke-width="1.1"/>
<line x1="275.60" y1="234.90" x2="301.90" y2="234.90" stroke="#333" stroke-width="1.1"/>
<text x="261.20" y="243.50" font-size="6.6" fill="#222" text-anchor="middle" stroke="#222" stroke-width="0.1">Unt</text>
<text x="288.50" y="243.50" font-size="6.6" fill="#222" text-anchor="middle" stroke="#222" stroke-width="0.1">rec. EGFL7</text>
<text x="314.20" y="137.50" font-size="11.3" fill="#000" font-weight="bold" stroke="#000" stroke-width="0.25">G</text>
<text x="371.00" y="148.20" font-size="8.5" fill="#3a5893" text-anchor="middle" font-style="italic" stroke="#3a5893" stroke-width="0.18">KLF2</text>
<text x="327.30" y="180.60" font-size="8.8" fill="#222" text-anchor="middle" transform="rotate(-90 327.30 180.60)" textLength="30.00" lengthAdjust="spacingAndGlyphs" dy="2.8" stroke="#222" stroke-width="0.22">Fold change</text>
<rect x="347.10" y="199.50" width="7.70" height="8.50" fill="#2b4b85"/>
<line x1="350.95" y1="199.50" x2="350.95" y2="198.30" stroke="#222" stroke-width="0.8"/>
<line x1="349.35" y1="198.30" x2="352.55" y2="198.30" stroke="#222" stroke-width="0.9"/>
<rect x="359.60" y="189.90" width="7.50" height="18.10" fill="#2b4b85"/>
<line x1="363.35" y1="189.90" x2="363.35" y2="187.40" stroke="#222" stroke-width="0.8"/>
<line x1="361.75" y1="187.40" x2="364.95" y2="187.40" stroke="#222" stroke-width="0.9"/>
<text x="363.35" y="187.60" font-size="6.0" fill="#111" text-anchor="middle" stroke="#111" stroke-width="0.1">*</text>
<rect x="371.90" y="180.30" width="7.70" height="27.70" fill="#2b4b85"/>
<line x1="375.75" y1="180.30" x2="375.75" y2="176.40" stroke="#222" stroke-width="0.8"/>
<line x1="374.15" y1="176.40" x2="377.35" y2="176.40" stroke="#222" stroke-width="0.9"/>
<text x="375.75" y="176.10" font-size="6.0" fill="#111" text-anchor="middle" stroke="#111" stroke-width="0.1">*</text>
<rect x="384.40" y="175.30" width="7.70" height="32.70" fill="#2b4b85"/>
<line x1="388.25" y1="175.30" x2="388.25" y2="171.00" stroke="#222" stroke-width="0.8"/>
<line x1="386.65" y1="171.00" x2="389.85" y2="171.00" stroke="#222" stroke-width="0.9"/>
<text x="388.25" y="170.70" font-size="6.0" fill="#111" text-anchor="middle" stroke="#111" stroke-width="0.1">**</text>
<line x1="344.60" y1="152.80" x2="344.60" y2="208.70" stroke="#222" stroke-width="1.4"/>
<line x1="343.90" y1="208.00" x2="397.50" y2="208.00" stroke="#222" stroke-width="1.4"/>
<line x1="342.20" y1="155.30" x2="344.60" y2="155.30" stroke="#222" stroke-width="1.1"/>
<text x="339.20" y="157.57" font-size="6.3" fill="#222" text-anchor="end" stroke="#222" stroke-width="0.18">6</text>
<line x1="342.20" y1="173.00" x2="344.60" y2="173.00" stroke="#222" stroke-width="1.1"/>
<text x="339.20" y="175.27" font-size="6.3" fill="#222" text-anchor="end" stroke="#222" stroke-width="0.18">4</text>
<line x1="342.20" y1="190.70" x2="344.60" y2="190.70" stroke="#222" stroke-width="1.1"/>
<text x="339.20" y="192.97" font-size="6.3" fill="#222" text-anchor="end" stroke="#222" stroke-width="0.18">2</text>
<line x1="342.20" y1="208.00" x2="344.60" y2="208.00" stroke="#222" stroke-width="1.1"/>
<text x="339.20" y="210.27" font-size="6.3" fill="#222" text-anchor="end" stroke="#222" stroke-width="0.18">0</text>
<line x1="344.60" y1="208.00" x2="344.60" y2="210.90" stroke="#222" stroke-width="1.15"/>
<line x1="357.10" y1="208.00" x2="357.10" y2="210.90" stroke="#222" stroke-width="1.15"/>
<line x1="369.60" y1="208.00" x2="369.60" y2="210.90" stroke="#222" stroke-width="1.15"/>
<line x1="382.10" y1="208.00" x2="382.10" y2="210.90" stroke="#222" stroke-width="1.15"/>
<line x1="394.60" y1="208.00" x2="394.60" y2="210.90" stroke="#222" stroke-width="1.15"/>
<text x="350.80" y="220.00" font-size="6.6" fill="#222" text-anchor="middle" stroke="#222" stroke-width="0.1">0</text>
<text x="363.30" y="220.00" font-size="6.6" fill="#222" text-anchor="middle" stroke="#222" stroke-width="0.1">5</text>
<text x="375.80" y="220.00" font-size="6.6" fill="#222" text-anchor="middle" stroke="#222" stroke-width="0.1">10</text>
<text x="388.30" y="220.00" font-size="6.6" fill="#222" text-anchor="middle" stroke="#222" stroke-width="0.1">20</text>
<line x1="344.60" y1="223.90" x2="394.20" y2="223.90" stroke="#555" stroke-width="1.3"/>
<text x="369.60" y="232.80" font-size="6.0" fill="#3a5893" text-anchor="middle" stroke="#3a5893" stroke-width="0.1">BTZ (nM)</text>
<text x="6.70" y="257.40" font-size="11.3" fill="#000" font-weight="bold" stroke="#000" stroke-width="0.25">H</text>
<text x="17.30" y="295.00" font-size="8.8" fill="#222" text-anchor="middle" transform="rotate(-90 17.30 295.00)" textLength="37.50" lengthAdjust="spacingAndGlyphs" dy="2.8" stroke="#222" stroke-width="0.22">Cell no.*10^ 5</text>
<rect x="36.50" y="302.50" width="6.20" height="28.80" fill="#6aa842"/>
<line x1="39.60" y1="302.50" x2="39.60" y2="301.20" stroke="#222" stroke-width="0.8"/>
<line x1="38.20" y1="301.20" x2="41.00" y2="301.20" stroke="#222" stroke-width="0.9"/>
<rect x="47.10" y="289.60" width="6.20" height="41.70" fill="#a30a34"/>
<line x1="50.20" y1="289.60" x2="50.20" y2="286.20" stroke="#222" stroke-width="0.8"/>
<line x1="48.80" y1="286.20" x2="51.60" y2="286.20" stroke="#222" stroke-width="0.9"/>
<text x="50.20" y="285.80" font-size="6.0" fill="#111" text-anchor="middle" stroke="#111" stroke-width="0.1">*</text>
<rect x="57.70" y="323.10" width="6.10" height="8.20" fill="#2b4b85"/>
<line x1="60.75" y1="323.10" x2="60.75" y2="321.20" stroke="#222" stroke-width="0.8"/>
<line x1="59.35" y1="321.20" x2="62.15" y2="321.20" stroke="#222" stroke-width="0.9"/>
<text x="60.75" y="321.40" font-size="6.0" fill="#111" text-anchor="middle" stroke="#111" stroke-width="0.1">*</text>
<rect x="67.90" y="283.30" width="6.10" height="48.00" fill="#50256a"/>
<line x1="70.95" y1="283.30" x2="70.95" y2="279.40" stroke="#222" stroke-width="0.8"/>
<line x1="69.55" y1="279.40" x2="72.35" y2="279.40" stroke="#222" stroke-width="0.9"/>
<text x="70.95" y="279.10" font-size="6.0" fill="#111" text-anchor="middle" stroke="#111" stroke-width="0.1">*</text>
<rect x="78.30" y="305.00" width="6.30" height="26.30" fill="#e08f1d"/>
<line x1="81.45" y1="305.00" x2="81.45" y2="303.80" stroke="#222" stroke-width="0.8"/>
<line x1="80.05" y1="303.80" x2="82.85" y2="303.80" stroke="#222" stroke-width="0.9"/>
<rect x="88.80" y="320.00" width="6.30" height="11.30" fill="#6aa842"/>
<line x1="91.95" y1="320.00" x2="91.95" y2="317.50" stroke="#222" stroke-width="0.8"/>
<line x1="90.55" y1="317.50" x2="93.35" y2="317.50" stroke="#222" stroke-width="0.9"/>
<text x="91.95" y="317.10" font-size="6.0" fill="#111" text-anchor="middle" stroke="#111" stroke-width="0.1">*</text>
<rect x="99.40" y="310.40" width="6.40" height="20.90" fill="#a30a34"/>
<line x1="102.60" y1="310.40" x2="102.60" y2="307.30" stroke="#222" stroke-width="0.8"/>
<line x1="101.20" y1="307.30" x2="104.00" y2="307.30" stroke="#222" stroke-width="0.9"/>
<rect x="109.80" y="328.50" width="6.40" height="2.80" fill="#2b4b85"/>
<line x1="113.00" y1="328.50" x2="113.00" y2="326.50" stroke="#222" stroke-width="0.8"/>
<line x1="111.60" y1="326.50" x2="114.40" y2="326.50" stroke="#222" stroke-width="0.9"/>
<text x="113.00" y="326.80" font-size="6.0" fill="#111" text-anchor="middle" stroke="#111" stroke-width="0.1">*</text>
<rect x="120.40" y="303.00" width="6.30" height="28.30" fill="#50256a"/>
<line x1="123.55" y1="303.00" x2="123.55" y2="299.60" stroke="#222" stroke-width="0.8"/>
<line x1="122.15" y1="299.60" x2="124.95" y2="299.60" stroke="#222" stroke-width="0.9"/>
<rect x="131.00" y="316.30" width="6.30" height="15.00" fill="#e08f1d"/>
<line x1="134.15" y1="316.30" x2="134.15" y2="313.50" stroke="#222" stroke-width="0.8"/>
<line x1="132.75" y1="313.50" x2="135.55" y2="313.50" stroke="#222" stroke-width="0.9"/>
<line x1="34.20" y1="259.20" x2="34.20" y2="332.00" stroke="#222" stroke-width="1.4"/>
<line x1="33.50" y1="331.30" x2="141.70" y2="331.30" stroke="#222" stroke-width="1.4"/>
<line x1="31.80" y1="261.70" x2="34.20" y2="261.70" stroke="#222" stroke-width="1.1"/>
<text x="28.80" y="263.97" font-size="6.3" fill="#222" text-anchor="end" stroke="#222" stroke-width="0.18">9</text>
<line x1="31.80" y1="285.20" x2="34.20" y2="285.20" stroke="#222" stroke-width="1.1"/>
<text x="28.80" y="287.47" font-size="6.3" fill="#222" text-anchor="end" stroke="#222" stroke-width="0.18">6</text>
<line x1="31.80" y1="308.30" x2="34.20" y2="308.30" stroke="#222" stroke-width="1.1"/>
<text x="28.80" y="310.57" font-size="6.3" fill="#222" text-anchor="end" stroke="#222" stroke-width="0.18">3</text>
<line x1="31.80" y1="331.30" x2="34.20" y2="331.30" stroke="#222" stroke-width="1.1"/>
<text x="28.80" y="333.57" font-size="6.3" fill="#222" text-anchor="end" stroke="#222" stroke-width="0.18">0</text>
<line x1="34.20" y1="331.30" x2="34.20" y2="334.20" stroke="#222" stroke-width="1.15"/>
<line x1="44.80" y1="331.30" x2="44.80" y2="334.20" stroke="#222" stroke-width="1.15"/>
<line x1="55.40" y1="331.30" x2="55.40" y2="334.20" stroke="#222" stroke-width="1.15"/>
<line x1="66.00" y1="331.30" x2="66.00" y2="334.20" stroke="#222" stroke-width="1.15"/>
<line x1="76.60" y1="331.30" x2="76.60" y2="334.20" stroke="#222" stroke-width="1.15"/>
<line x1="87.20" y1="331.30" x2="87.20" y2="334.20" stroke="#222" stroke-width="1.15"/>
<line x1="97.80" y1="331.30" x2="97.80" y2="334.20" stroke="#222" stroke-width="1.15"/>
<line x1="108.20" y1="331.30" x2="108.20" y2="334.20" stroke="#222" stroke-width="1.15"/>
<line x1="118.70" y1="331.30" x2="118.70" y2="334.20" stroke="#222" stroke-width="1.15"/>
<line x1="129.10" y1="331.30" x2="129.10" y2="334.20" stroke="#222" stroke-width="1.15"/>
<line x1="139.60" y1="331.30" x2="139.60" y2="334.20" stroke="#222" stroke-width="1.15"/>
<text x="42.80" y="339.30" font-size="6.3" fill="#222" text-anchor="end" transform="rotate(-45 42.80 339.30)" stroke="#222" stroke-width="0.18">Mock</text>
<text x="53.40" y="339.30" font-size="6.3" fill="#222" text-anchor="end" transform="rotate(-45 53.40 339.30)" stroke="#222" stroke-width="0.18">EGFL7 OE</text>
<text x="63.95" y="339.30" font-size="6.3" fill="#222" text-anchor="end" transform="rotate(-45 63.95 339.30)" stroke="#222" stroke-width="0.18">EGFL7 KD</text>
<text x="74.15" y="339.30" font-size="6.3" fill="#222" text-anchor="end" transform="rotate(-45 74.15 339.30)" stroke="#222" stroke-width="0.18">KLF2 OE</text>
<text x="84.65" y="339.30" font-size="6.3" fill="#222" text-anchor="end" transform="rotate(-45 84.65 339.30)" stroke="#222" stroke-width="0.18">KLF2 OE+EGFL7 KD</text>
<text x="95.15" y="339.30" font-size="6.3" fill="#222" text-anchor="end" transform="rotate(-45 95.15 339.30)" stroke="#222" stroke-width="0.18">Mock</text>
<text x="105.80" y="339.30" font-size="6.3" fill="#222" text-anchor="end" transform="rotate(-45 105.80 339.30)" stroke="#222" stroke-width="0.18">EGFL7 OE</text>
<text x="116.20" y="339.30" font-size="6.3" fill="#222" text-anchor="end" transform="rotate(-45 116.20 339.30)" stroke="#222" stroke-width="0.18">EGFl7 KD</text>
<text x="126.75" y="339.30" font-size="6.3" fill="#222" text-anchor="end" transform="rotate(-45 126.75 339.30)" stroke="#222" stroke-width="0.18">KLF2 OE</text>
<text x="137.35" y="339.30" font-size="6.3" fill="#222" text-anchor="end" transform="rotate(-45 137.35 339.30)" stroke="#222" stroke-width="0.18">KLF2 OE+EGFL7 KD</text>
<text x="60.20" y="263.60" font-size="6.1" fill="#3a5893" text-anchor="middle" stroke="#3a5893" stroke-width="0.06">-BTZ</text>
<text x="118.10" y="263.60" font-size="6.1" fill="#3a5893" text-anchor="middle" stroke="#3a5893" stroke-width="0.06">+BTZ</text>
<line x1="37.90" y1="267.90" x2="82.40" y2="267.90" stroke="#666" stroke-width="1.3"/>
<line x1="90.60" y1="267.90" x2="145.60" y2="267.90" stroke="#666" stroke-width="1.3"/>
<text x="155.40" y="257.40" font-size="11.3" fill="#000" font-weight="bold" stroke="#000" stroke-width="0.25">J</text>
<text x="230.60" y="276.20" font-size="8.5" fill="#3a5893" text-anchor="middle" font-style="italic" stroke="#3a5893" stroke-width="0.18">KLF2</text>
<text x="163.70" y="308.00" font-size="8.2" fill="#222" text-anchor="middle" transform="rotate(-90 163.70 308.00)" textLength="28.50" lengthAdjust="spacingAndGlyphs" dy="2.8" stroke="#222" stroke-width="0.22">Fold change</text>
<rect x="183.30" y="326.90" width="4.80" height="4.70" fill="#a30a34"/>
<line x1="185.70" y1="326.90" x2="185.70" y2="325.00" stroke="#222" stroke-width="0.8"/>
<line x1="184.40" y1="325.00" x2="187.00" y2="325.00" stroke="#222" stroke-width="0.9"/>
<text x="185.70" y="325.20" font-size="6.0" fill="#111" text-anchor="middle" stroke="#111" stroke-width="0.1">*</text>
<rect x="194.20" y="316.70" width="4.80" height="14.90" fill="#a30a34"/>
<line x1="196.60" y1="316.70" x2="196.60" y2="314.40" stroke="#222" stroke-width="0.8"/>
<line x1="195.30" y1="314.40" x2="197.90" y2="314.40" stroke="#222" stroke-width="0.9"/>
<rect x="204.80" y="311.50" width="4.80" height="20.10" fill="#a30a34"/>
<line x1="207.20" y1="311.50" x2="207.20" y2="309.60" stroke="#222" stroke-width="0.8"/>
<line x1="205.90" y1="309.60" x2="208.50" y2="309.60" stroke="#222" stroke-width="0.9"/>
<text x="207.20" y="309.40" font-size="6.0" fill="#111" text-anchor="middle" stroke="#111" stroke-width="0.1">*</text>
<rect x="215.80" y="324.60" width="4.80" height="7.00" fill="#a30a34"/>
<line x1="218.20" y1="324.60" x2="218.20" y2="322.70" stroke="#222" stroke-width="0.8"/>
<line x1="216.90" y1="322.70" x2="219.50" y2="322.70" stroke="#222" stroke-width="0.9"/>
<rect x="226.60" y="315.00" width="4.70" height="16.60" fill="#a30a34"/>
<line x1="228.95" y1="315.00" x2="228.95" y2="313.50" stroke="#222" stroke-width="0.8"/>
<line x1="227.65" y1="313.50" x2="230.25" y2="313.50" stroke="#222" stroke-width="0.9"/>
<rect x="237.40" y="311.50" width="4.70" height="20.10" fill="#a30a34"/>
<line x1="239.75" y1="311.50" x2="239.75" y2="309.60" stroke="#222" stroke-width="0.8"/>
<line x1="238.45" y1="309.60" x2="241.05" y2="309.60" stroke="#222" stroke-width="0.9"/>
<text x="239.75" y="309.40" font-size="6.0" fill="#111" text-anchor="middle" stroke="#111" stroke-width="0.1">*</text>
<rect x="248.30" y="323.50" width="4.50" height="8.10" fill="#a30a34"/>
<line x1="250.55" y1="323.50" x2="250.55" y2="321.20" stroke="#222" stroke-width="0.8"/>
<line x1="249.25" y1="321.20" x2="251.85" y2="321.20" stroke="#222" stroke-width="0.9"/>
<rect x="259.00" y="307.10" width="4.70" height="24.50" fill="#a30a34"/>
<line x1="261.35" y1="307.10" x2="261.35" y2="305.20" stroke="#222" stroke-width="0.8"/>
<line x1="260.05" y1="305.20" x2="262.65" y2="305.20" stroke="#222" stroke-width="0.9"/>
<text x="261.35" y="305.00" font-size="6.0" fill="#111" text-anchor="middle" stroke="#111" stroke-width="0.1">*</text>
<rect x="270.00" y="295.80" width="4.50" height="35.80" fill="#a30a34"/>
<line x1="272.25" y1="295.80" x2="272.25" y2="293.80" stroke="#222" stroke-width="0.8"/>
<line x1="270.95" y1="293.80" x2="273.55" y2="293.80" stroke="#222" stroke-width="0.9"/>
<text x="272.25" y="293.50" font-size="6.0" fill="#111" text-anchor="middle" stroke="#111" stroke-width="0.1">**</text>
<line x1="180.40" y1="285.20" x2="180.40" y2="332.30" stroke="#222" stroke-width="1.4"/>
<line x1="179.70" y1="331.60" x2="281.20" y2="331.60" stroke="#222" stroke-width="1.4"/>
<line x1="178.00" y1="287.90" x2="180.40" y2="287.90" stroke="#222" stroke-width="1.1"/>
<text x="175.00" y="289.77" font-size="5.2" fill="#222" text-anchor="end" stroke="#222" stroke-width="0.18">9</text>
<line x1="178.00" y1="302.30" x2="180.40" y2="302.30" stroke="#222" stroke-width="1.1"/>
<text x="175.00" y="304.17" font-size="5.2" fill="#222" text-anchor="end" stroke="#222" stroke-width="0.18">6</text>
<line x1="178.00" y1="316.90" x2="180.40" y2="316.90" stroke="#222" stroke-width="1.1"/>
<text x="175.00" y="318.77" font-size="5.2" fill="#222" text-anchor="end" stroke="#222" stroke-width="0.18">3</text>
<line x1="178.00" y1="331.50" x2="180.40" y2="331.50" stroke="#222" stroke-width="1.1"/>
<text x="175.00" y="333.37" font-size="5.2" fill="#222" text-anchor="end" stroke="#222" stroke-width="0.18">0</text>
<line x1="180.40" y1="331.60" x2="180.40" y2="334.50" stroke="#222" stroke-width="1.15"/>
<line x1="191.00" y1="331.60" x2="191.00" y2="334.50" stroke="#222" stroke-width="1.15"/>
<line x1="201.90" y1="331.60" x2="201.90" y2="334.50" stroke="#222" stroke-width="1.15"/>
<line x1="212.60" y1="331.60" x2="212.60" y2="334.50" stroke="#222" stroke-width="1.15"/>
<line x1="223.60" y1="331.60" x2="223.60" y2="334.50" stroke="#222" stroke-width="1.15"/>
<line x1="234.50" y1="331.60" x2="234.50" y2="334.50" stroke="#222" stroke-width="1.15"/>
<line x1="245.60" y1="331.60" x2="245.60" y2="334.50" stroke="#222" stroke-width="1.15"/>
<line x1="256.50" y1="331.60" x2="256.50" y2="334.50" stroke="#222" stroke-width="1.15"/>
<line x1="267.10" y1="331.60" x2="267.10" y2="334.50" stroke="#222" stroke-width="1.15"/>
<line x1="278.10" y1="331.60" x2="278.10" y2="334.50" stroke="#222" stroke-width="1.15"/>
<text x="188.70" y="339.20" font-size="6.2" fill="#222" text-anchor="end" transform="rotate(-45 188.70 339.20)" stroke="#222" stroke-width="0.18">CD138-</text>
<text x="199.60" y="339.20" font-size="6.2" fill="#222" text-anchor="end" transform="rotate(-45 199.60 339.20)" stroke="#222" stroke-width="0.18">BMMC</text>
<text x="210.20" y="339.20" font-size="6.2" fill="#222" text-anchor="end" transform="rotate(-45 210.20 339.20)" stroke="#222" stroke-width="0.18">CD138+</text>
<text x="221.20" y="339.20" font-size="6.2" fill="#222" text-anchor="end" transform="rotate(-45 221.20 339.20)" stroke="#222" stroke-width="0.18">CD138-</text>
<text x="231.95" y="339.20" font-size="6.2" fill="#222" text-anchor="end" transform="rotate(-45 231.95 339.20)" stroke="#222" stroke-width="0.18">BMMC</text>
<text x="242.75" y="339.20" font-size="6.2" fill="#222" text-anchor="end" transform="rotate(-45 242.75 339.20)" stroke="#222" stroke-width="0.18">CD138+</text>
<text x="253.55" y="339.20" font-size="6.2" fill="#222" text-anchor="end" transform="rotate(-45 253.55 339.20)" stroke="#222" stroke-width="0.18">CD138-</text>
<text x="264.35" y="339.20" font-size="6.2" fill="#222" text-anchor="end" transform="rotate(-45 264.35 339.20)" stroke="#222" stroke-width="0.18">BMMC</text>
<text x="275.25" y="339.20" font-size="6.2" fill="#222" text-anchor="end" transform="rotate(-45 275.25 339.20)" stroke="#222" stroke-width="0.18">CD138+</text>
<line x1="170.80" y1="360.20" x2="187.90" y2="360.20" stroke="#333" stroke-width="1.2"/>
<line x1="191.70" y1="360.20" x2="216.30" y2="360.20" stroke="#333" stroke-width="1.2"/>
<line x1="219.60" y1="360.20" x2="244.40" y2="360.20" stroke="#333" stroke-width="1.2"/>
<line x1="248.50" y1="360.20" x2="273.50" y2="360.20" stroke="#333" stroke-width="1.2"/>
<text x="179.20" y="367.80" font-size="5.0" fill="#c2143f" text-anchor="middle" stroke="#c2143f" stroke-width="0.06">healthy</text>
<text x="203.80" y="367.80" font-size="5.5" fill="#3a5893" text-anchor="middle" stroke="#3a5893" stroke-width="0.06">#1</text>
<text x="232.20" y="367.80" font-size="5.5" fill="#3a5893" text-anchor="middle" stroke="#3a5893" stroke-width="0.06">#2</text>
<text x="261.00" y="367.80" font-size="5.5" fill="#3a5893" text-anchor="middle" stroke="#3a5893" stroke-width="0.06">#3</text>
<text x="273.80" y="367.80" font-size="5.35" fill="#c2143f" stroke="#c2143f" stroke-width="0.06">Patient</text>
<text x="273.80" y="374.00" font-size="5.35" fill="#c2143f" stroke="#c2143f" stroke-width="0.06">CD138+</text>
<text x="303.60" y="257.40" font-size="11.3" fill="#000" font-weight="bold" stroke="#000" stroke-width="0.25">K</text>
<text x="373.80" y="276.20" font-size="8.4" fill="#3a5893" text-anchor="middle" stroke="#3a5893" stroke-width="0.18">% GFP</text>
<rect x="331.30" y="316.30" width="5.80" height="15.40" fill="#6aa842"/>
<line x1="334.20" y1="316.30" x2="334.20" y2="315.00" stroke="#222" stroke-width="0.8"/>
<line x1="332.80" y1="315.00" x2="335.60" y2="315.00" stroke="#222" stroke-width="0.9"/>
<rect x="344.20" y="310.00" width="5.80" height="21.70" fill="#a30a34"/>
<line x1="347.10" y1="310.00" x2="347.10" y2="307.70" stroke="#222" stroke-width="0.8"/>
<line x1="345.70" y1="307.70" x2="348.50" y2="307.70" stroke="#222" stroke-width="0.9"/>
<text x="347.10" y="307.50" font-size="6.0" fill="#111" text-anchor="middle" stroke="#111" stroke-width="0.1">*</text>
<rect x="357.10" y="323.50" width="5.80" height="8.20" fill="#2b4b85"/>
<line x1="360.00" y1="323.50" x2="360.00" y2="322.10" stroke="#222" stroke-width="0.8"/>
<line x1="358.60" y1="322.10" x2="361.40" y2="322.10" stroke="#222" stroke-width="0.9"/>
<text x="360.00" y="322.30" font-size="6.0" fill="#111" text-anchor="middle" stroke="#111" stroke-width="0.1">*</text>
<rect x="369.80" y="316.90" width="5.80" height="14.80" fill="#6aa842"/>
<line x1="372.70" y1="316.90" x2="372.70" y2="315.80" stroke="#222" stroke-width="0.8"/>
<line x1="371.30" y1="315.80" x2="374.10" y2="315.80" stroke="#222" stroke-width="0.9"/>
<rect x="382.60" y="309.60" width="6.00" height="22.10" fill="#a30a34"/>
<line x1="385.60" y1="309.60" x2="385.60" y2="307.30" stroke="#222" stroke-width="0.8"/>
<line x1="384.20" y1="307.30" x2="387.00" y2="307.30" stroke="#222" stroke-width="0.9"/>
<text x="385.60" y="307.30" font-size="6.0" fill="#111" text-anchor="middle" stroke="#111" stroke-width="0.1">*</text>
<rect x="395.50" y="323.10" width="6.00" height="8.60" fill="#2b4b85"/>
<line x1="398.50" y1="323.10" x2="398.50" y2="321.20" stroke="#222" stroke-width="0.8"/>
<line x1="397.10" y1="321.20" x2="399.90" y2="321.20" stroke="#222" stroke-width="0.9"/>
<text x="398.50" y="321.00" font-size="6.0" fill="#111" text-anchor="middle" stroke="#111" stroke-width="0.1">*</text>
<rect x="408.30" y="315.80" width="5.90" height="15.90" fill="#6aa842"/>
<line x1="411.25" y1="315.80" x2="411.25" y2="314.80" stroke="#222" stroke-width="0.8"/>
<line x1="409.85" y1="314.80" x2="412.65" y2="314.80" stroke="#222" stroke-width="0.9"/>
<rect x="421.00" y="306.20" width="6.10" height="25.50" fill="#a30a34"/>
<line x1="424.05" y1="306.20" x2="424.05" y2="304.20" stroke="#222" stroke-width="0.8"/>
<line x1="422.65" y1="304.20" x2="425.45" y2="304.20" stroke="#222" stroke-width="0.9"/>
<text x="424.05" y="304.10" font-size="6.0" fill="#111" text-anchor="middle" stroke="#111" stroke-width="0.1">*</text>
<rect x="433.80" y="322.10" width="6.20" height="9.60" fill="#2b4b85"/>
<line x1="436.90" y1="322.10" x2="436.90" y2="320.60" stroke="#222" stroke-width="0.8"/>
<line x1="435.50" y1="320.60" x2="438.30" y2="320.60" stroke="#222" stroke-width="0.9"/>
<text x="436.90" y="320.80" font-size="6.0" fill="#111" text-anchor="middle" stroke="#111" stroke-width="0.1">*</text>
<line x1="327.90" y1="294.60" x2="327.90" y2="332.40" stroke="#222" stroke-width="1.4"/>
<line x1="327.20" y1="331.70" x2="446.00" y2="331.70" stroke="#222" stroke-width="1.4"/>
<line x1="325.50" y1="297.10" x2="327.90" y2="297.10" stroke="#222" stroke-width="1.1"/>
<text x="322.50" y="299.12" font-size="5.6" fill="#222" text-anchor="end" stroke="#222" stroke-width="0.18">120</text>
<line x1="325.50" y1="305.80" x2="327.90" y2="305.80" stroke="#222" stroke-width="1.1"/>
<text x="322.50" y="307.82" font-size="5.6" fill="#222" text-anchor="end" stroke="#222" stroke-width="0.18">90</text>
<line x1="325.50" y1="314.40" x2="327.90" y2="314.40" stroke="#222" stroke-width="1.1"/>
<text x="322.50" y="316.42" font-size="5.6" fill="#222" text-anchor="end" stroke="#222" stroke-width="0.18">60</text>
<line x1="325.50" y1="323.10" x2="327.90" y2="323.10" stroke="#222" stroke-width="1.1"/>
<text x="322.50" y="325.12" font-size="5.6" fill="#222" text-anchor="end" stroke="#222" stroke-width="0.18">30</text>
<line x1="325.50" y1="331.70" x2="327.90" y2="331.70" stroke="#222" stroke-width="1.1"/>
<text x="322.50" y="333.72" font-size="5.6" fill="#222" text-anchor="end" stroke="#222" stroke-width="0.18">0</text>
<line x1="327.90" y1="331.70" x2="327.90" y2="334.60" stroke="#222" stroke-width="1.15"/>
<line x1="340.40" y1="331.70" x2="340.40" y2="334.60" stroke="#222" stroke-width="1.15"/>
<line x1="353.50" y1="331.70" x2="353.50" y2="334.60" stroke="#222" stroke-width="1.15"/>
<line x1="366.30" y1="331.70" x2="366.30" y2="334.60" stroke="#222" stroke-width="1.15"/>
<line x1="379.20" y1="331.70" x2="379.20" y2="334.60" stroke="#222" stroke-width="1.15"/>
<line x1="391.90" y1="331.70" x2="391.90" y2="334.60" stroke="#222" stroke-width="1.15"/>
<line x1="404.60" y1="331.70" x2="404.60" y2="334.60" stroke="#222" stroke-width="1.15"/>
<line x1="417.50" y1="331.70" x2="417.50" y2="334.60" stroke="#222" stroke-width="1.15"/>
<line x1="430.40" y1="331.70" x2="430.40" y2="334.60" stroke="#222" stroke-width="1.15"/>
<line x1="443.50" y1="331.70" x2="443.50" y2="334.60" stroke="#222" stroke-width="1.15"/>
<text x="337.40" y="339.70" font-size="6.3" fill="#222" text-anchor="end" transform="rotate(-45 337.40 339.70)" stroke="#222" stroke-width="0.18">Mock</text>
<text x="350.30" y="339.70" font-size="6.3" fill="#222" text-anchor="end" transform="rotate(-45 350.30 339.70)" stroke="#222" stroke-width="0.18">EGFL7 OE</text>
<text x="363.20" y="339.70" font-size="6.3" fill="#222" text-anchor="end" transform="rotate(-45 363.20 339.70)" stroke="#222" stroke-width="0.18">EGFL7 KD</text>
<text x="375.90" y="339.70" font-size="6.3" fill="#222" text-anchor="end" transform="rotate(-45 375.90 339.70)" stroke="#222" stroke-width="0.18">Mock</text>
<text x="388.80" y="339.70" font-size="6.3" fill="#222" text-anchor="end" transform="rotate(-45 388.80 339.70)" stroke="#222" stroke-width="0.18">EGFL7 OE</text>
<text x="401.70" y="339.70" font-size="6.3" fill="#222" text-anchor="end" transform="rotate(-45 401.70 339.70)" stroke="#222" stroke-width="0.18">EGFL7 KD</text>
<text x="414.45" y="339.70" font-size="6.3" fill="#222" text-anchor="end" transform="rotate(-45 414.45 339.70)" stroke="#222" stroke-width="0.18">Mock</text>
<text x="427.25" y="339.70" font-size="6.3" fill="#222" text-anchor="end" transform="rotate(-45 427.25 339.70)" stroke="#222" stroke-width="0.18">EGFL7 OE</text>
<text x="440.10" y="339.70" font-size="6.3" fill="#222" text-anchor="end" transform="rotate(-45 440.10 339.70)" stroke="#222" stroke-width="0.18">EGFL7 KD</text>
<line x1="326.90" y1="366.00" x2="349.00" y2="366.00" stroke="#444" stroke-width="1.2"/>
<line x1="365.40" y1="366.00" x2="387.40" y2="366.00" stroke="#444" stroke-width="1.2"/>
<line x1="405.00" y1="366.00" x2="426.50" y2="366.00" stroke="#444" stroke-width="1.2"/>
<text x="337.90" y="373.40" font-size="5.5" fill="#3a5893" text-anchor="middle" stroke="#3a5893" stroke-width="0.06">#1</text>
<text x="376.30" y="373.40" font-size="5.5" fill="#3a5893" text-anchor="middle" stroke="#3a5893" stroke-width="0.06">#2</text>
<text x="416.00" y="373.40" font-size="5.5" fill="#3a5893" text-anchor="middle" stroke="#3a5893" stroke-width="0.06">#3</text>
<text x="429.00" y="367.80" font-size="5.35" fill="#c2143f" stroke="#c2143f" stroke-width="0.06">Patient</text>
<text x="429.00" y="374.00" font-size="5.35" fill="#c2143f" stroke="#c2143f" stroke-width="0.06">CD138+</text>
<text x="6.30" y="395.20" font-size="11.3" fill="#000" font-weight="bold" stroke="#000" stroke-width="0.25">I</text>
<text x="37.50" y="402.60" font-size="5.25" fill="#2e2e2e" text-anchor="middle" stroke="#2e2e2e" stroke-width="0.06">Normal BM</text>
<text x="75.60" y="402.60" font-size="4.9" fill="#2e2e2e" text-anchor="middle" stroke="#2e2e2e" stroke-width="0.06">Refractory</text>
<text x="75.50" y="408.60" font-size="5.25" fill="#2e2e2e" text-anchor="middle" stroke="#2e2e2e" stroke-width="0.06">B 1701134</text>
<text x="113.50" y="402.60" font-size="4.9" fill="#2e2e2e" text-anchor="middle" stroke="#2e2e2e" stroke-width="0.06">Refractory</text>
<text x="113.60" y="408.60" font-size="5.25" fill="#2e2e2e" text-anchor="middle" stroke="#2e2e2e" stroke-width="0.06">B15-00374</text>
<text x="151.00" y="402.60" font-size="4.9" fill="#2e2e2e" text-anchor="middle" stroke="#2e2e2e" stroke-width="0.06">Refractory</text>
<text x="151.60" y="408.60" font-size="5.25" fill="#2e2e2e" text-anchor="middle" stroke="#2e2e2e" stroke-width="0.06">P16-01574</text>
<text x="189.10" y="402.60" font-size="4.9" fill="#2e2e2e" text-anchor="middle" stroke="#2e2e2e" stroke-width="0.06">Sensitive</text>
<text x="189.30" y="408.60" font-size="5.25" fill="#2e2e2e" text-anchor="middle" stroke="#2e2e2e" stroke-width="0.06">B16-00949</text>
<text x="227.20" y="402.60" font-size="4.9" fill="#2e2e2e" text-anchor="middle" stroke="#2e2e2e" stroke-width="0.06">Sensitive</text>
<text x="227.50" y="408.60" font-size="5.25" fill="#2e2e2e" text-anchor="middle" stroke="#2e2e2e" stroke-width="0.06">B07-00736</text>
<text x="13.80" y="440.00" font-size="6.4" fill="#d2305a" text-anchor="middle" transform="rotate(-90 13.80 440.00)" stroke="#d2305a" stroke-width="0.08" dy="2.1">EGFL7</text>
<text x="13.80" y="495.00" font-size="6.4" fill="#d2305a" text-anchor="middle" transform="rotate(-90 13.80 495.00)" stroke="#d2305a" stroke-width="0.08" dy="2.1">H&amp;E</text>
<path d="M19.9 521 V412.8 H245.6 V521" fill="none" stroke="#5a5a5a" stroke-width="0.7"/>
<rect x="20.10" y="413.10" width="34.30" height="25.40" fill="#cac7c0"/>
<rect x="20.10" y="413.10" width="34.30" height="25.40" fill="#000" filter="url(#bf)" opacity="0.28"/>
<rect x="20.10" y="413.10" width="34.30" height="25.40" fill="#000" filter="url(#bm)" opacity="0.15"/>
<svg x="20.10" y="413.10" width="34.30" height="25.40" viewBox="0 0 34.30 25.40" overflow="hidden"><g filter="url(#bb)">
<ellipse cx="3.43" cy="12.70" rx="5.49" ry="15.24" fill="#cbc8c1"/>
<ellipse cx="14.41" cy="13.97" rx="2.74" ry="2.79" fill="#dbd9d4"/>
<ellipse cx="18.86" cy="10.67" rx="2.40" ry="2.54" fill="#dbd9d4"/>
<ellipse cx="22.64" cy="15.24" rx="2.74" ry="2.79" fill="#dbd9d4"/>
<ellipse cx="17.15" cy="19.05" rx="2.74" ry="2.54" fill="#dbd9d4"/>
<ellipse cx="24.70" cy="8.38" rx="2.40" ry="2.29" fill="#dbd9d4"/>
<ellipse cx="27.44" cy="17.78" rx="2.40" ry="2.29" fill="#dbd9d4"/>
<ellipse cx="12.35" cy="20.32" rx="2.40" ry="2.54" fill="#dbd9d4"/>
<ellipse cx="20.58" cy="5.59" rx="2.06" ry="2.03" fill="#dbd9d4"/>
<ellipse cx="29.50" cy="12.70" rx="2.06" ry="2.03" fill="#dbd9d4"/>
<ellipse cx="10.29" cy="8.89" rx="2.06" ry="2.03" fill="#dbd9d4"/>
<ellipse cx="32.58" cy="22.86" rx="3.43" ry="5.08" fill="#cecbc4"/>
<ellipse cx="15.43" cy="7.62" rx="1.71" ry="1.78" fill="#dbd9d4"/>
<ellipse cx="8.57" cy="15.24" rx="1.71" ry="1.78" fill="#dbd9d4"/>
<ellipse cx="30.87" cy="6.35" rx="1.71" ry="1.78" fill="#dbd9d4"/>
</g></svg>
<rect x="56.90" y="413.10" width="35.60" height="25.40" fill="#bcae9a"/>
<rect x="56.90" y="413.10" width="35.60" height="25.40" fill="#000" filter="url(#bf)" opacity="0.55"/>
<rect x="56.90" y="413.10" width="35.60" height="25.40" fill="#000" filter="url(#bm)" opacity="0.45"/>
<rect x="56.90" y="413.10" width="35.60" height="25.40" fill="#000" filter="url(#uf)" opacity="0.12"/>
<svg x="56.90" y="413.10" width="35.60" height="25.40" viewBox="0 0 35.60 25.40" overflow="hidden"><g filter="url(#bb)">
<ellipse cx="16.02" cy="5.59" rx="4.63" ry="4.32" fill="#f4f4f2"/>
<ellipse cx="27.77" cy="7.11" rx="3.20" ry="3.05" fill="#f4f4f2"/>
<ellipse cx="25.63" cy="14.22" rx="2.49" ry="2.54" fill="#f4f4f2"/>
<ellipse cx="12.46" cy="16.51" rx="3.20" ry="3.05" fill="#f4f4f2"/>
<ellipse cx="11.75" cy="10.67" rx="1.25" ry="1.27" fill="#f4f4f2"/>
<ellipse cx="3.56" cy="5.08" rx="4.98" ry="6.35" fill="#d4d2c8"/>
<ellipse cx="32.04" cy="21.59" rx="7.12" ry="5.59" fill="#d6d7cd"/>
<ellipse cx="2.85" cy="22.86" rx="4.27" ry="3.81" fill="#d2d0c6"/>
<ellipse cx="33.82" cy="2.54" rx="2.85" ry="3.81" fill="#d4d2c8"/>
</g></svg>
<rect x="94.60" y="413.10" width="35.20" height="25.40" fill="#cccbc9"/>
<rect x="94.60" y="413.10" width="35.20" height="25.40" fill="#000" filter="url(#gf)" opacity="0.3"/>
<rect x="94.60" y="413.10" width="35.20" height="25.40" fill="#000" filter="url(#vc)" opacity="0.75"/>
<rect x="94.60" y="413.10" width="35.20" height="25.40" fill="#000" filter="url(#uf)" opacity="0.3"/>
<rect x="94.60" y="413.10" width="35.20" height="25.40" fill="#000" filter="url(#bf)" opacity="0.2"/>
<svg x="94.60" y="413.10" width="35.20" height="25.40" viewBox="0 0 35.20 25.40" overflow="hidden"><g filter="url(#bb)">
<ellipse cx="19.36" cy="4.57" rx="4.22" ry="4.32" fill="#e6e5e0"/>
<ellipse cx="25.34" cy="13.21" rx="4.93" ry="5.08" fill="#e6e5e0"/>
<ellipse cx="30.62" cy="5.08" rx="3.52" ry="3.81" fill="#e6e5e0"/>
<ellipse cx="5.28" cy="13.97" rx="1.58" ry="1.52" fill="#fff"/>
<ellipse cx="10.56" cy="22.35" rx="5.63" ry="3.30" fill="#e6e5e0"/>
<ellipse cx="21.12" cy="22.86" rx="3.52" ry="2.54" fill="#e6e5e0"/>
<ellipse cx="34.14" cy="20.32" rx="2.11" ry="3.81" fill="#e6e5e0"/>
<ellipse cx="4.22" cy="2.54" rx="2.82" ry="2.03" fill="#e6e5e0"/>
</g></svg>
<rect x="132.00" y="413.10" width="36.80" height="25.40" fill="#cdc3b6"/>
<rect x="132.00" y="413.10" width="36.80" height="25.40" fill="#000" filter="url(#bc)" opacity="0.7"/>
<rect x="132.00" y="413.10" width="36.80" height="25.40" fill="#000" filter="url(#bd)" opacity="0.35"/>
<rect x="132.00" y="413.10" width="36.80" height="25.40" fill="#000" filter="url(#bm)" opacity="0.4"/>
<rect x="132.00" y="413.10" width="36.80" height="25.40" fill="#000" filter="url(#uf)" opacity="0.1"/>
<svg x="132.00" y="413.10" width="36.80" height="25.40" viewBox="0 0 36.80 25.40" overflow="hidden"><g filter="url(#bb)">
<ellipse cx="18.40" cy="5.08" rx="3.68" ry="3.30" fill="#e6e5e0"/>
<ellipse cx="29.44" cy="6.35" rx="4.42" ry="4.06" fill="#e6e5e0"/>
<ellipse cx="2.21" cy="18.29" rx="3.68" ry="5.59" fill="#e6e5e0"/>
<ellipse cx="32.02" cy="20.83" rx="3.68" ry="3.30" fill="#e6e5e0"/>
<ellipse cx="20.24" cy="15.24" rx="1.84" ry="1.52" fill="#e6e5e0"/>
<ellipse cx="7.36" cy="3.81" rx="2.94" ry="2.54" fill="#e6e5e0"/>
<ellipse cx="12.88" cy="11.43" rx="1.84" ry="1.52" fill="#e6e5e0"/>
</g></svg>
<rect x="171.00" y="413.10" width="35.90" height="25.40" fill="#c6c4c2"/>
<rect x="171.00" y="413.10" width="35.90" height="25.40" fill="#000" filter="url(#gf)" opacity="0.3"/>
<rect x="171.00" y="413.10" width="35.90" height="25.40" fill="#000" filter="url(#vc)" opacity="0.7"/>
<rect x="171.00" y="413.10" width="35.90" height="25.40" fill="#000" filter="url(#uf)" opacity="0.25"/>
<rect x="171.00" y="413.10" width="35.90" height="25.40" fill="#000" filter="url(#bf)" opacity="0.25"/>
<svg x="171.00" y="413.10" width="35.90" height="25.40" viewBox="0 0 35.90 25.40" overflow="hidden"><g filter="url(#bb)">
<ellipse cx="7.18" cy="7.62" rx="7.18" ry="6.86" fill="#e3e3df"/>
<ellipse cx="23.69" cy="10.67" rx="6.10" ry="7.62" fill="#e3e3df"/>
<ellipse cx="33.03" cy="15.24" rx="3.59" ry="12.70" fill="#dedcd6"/>
<ellipse cx="21.54" cy="23.37" rx="7.18" ry="3.05" fill="#dedcd6"/>
<ellipse cx="1.80" cy="21.59" rx="2.87" ry="3.05" fill="#dedcd6"/>
</g></svg>
<rect x="208.60" y="413.10" width="36.40" height="25.40" fill="#c6c6c1"/>
<rect x="208.60" y="413.10" width="36.40" height="25.40" fill="#000" filter="url(#gf)" opacity="0.3"/>
<rect x="208.60" y="413.10" width="36.40" height="25.40" fill="#000" filter="url(#uf)" opacity="0.1"/>
<rect x="208.60" y="413.10" width="36.40" height="25.40" fill="#000" filter="url(#wf)" opacity="0.25"/>
<svg x="208.60" y="413.10" width="36.40" height="25.40" viewBox="0 0 36.40 25.40" overflow="hidden"><g filter="url(#bb)">
<ellipse cx="28.39" cy="19.81" rx="1.82" ry="1.78" fill="#e6e5e0"/>
<ellipse cx="12.74" cy="8.89" rx="1.82" ry="1.52" fill="#d2d2cd"/>
</g></svg>
<rect x="20.10" y="440.00" width="34.30" height="24.60" fill="#d5d1c3"/>
<rect x="20.10" y="440.00" width="34.30" height="24.60" fill="#000" filter="url(#bf)" opacity="0.3"/>
<rect x="20.10" y="440.00" width="34.30" height="24.60" fill="#000" filter="url(#bm)" opacity="0.2"/>
<rect x="20.10" y="440.00" width="34.30" height="24.60" fill="#000" filter="url(#uc)" opacity="0.1"/>
<rect x="20.10" y="440.00" width="34.30" height="24.60" fill="#000" filter="url(#wf)" opacity="0.3"/>
<svg x="20.10" y="440.00" width="34.30" height="24.60" viewBox="0 0 34.30 24.60" overflow="hidden"><g filter="url(#bb)">
<ellipse cx="18.86" cy="22.63" rx="4.80" ry="3.94" fill="#dddcd8"/>
<ellipse cx="10.29" cy="21.40" rx="3.43" ry="3.20" fill="#dcdad2"/>
<ellipse cx="29.15" cy="6.15" rx="2.40" ry="2.46" fill="#deddd2"/>
</g></svg>
<rect x="56.90" y="440.00" width="35.60" height="24.60" fill="#c3c0c2"/>
<rect x="56.90" y="440.00" width="35.60" height="24.60" fill="#000" filter="url(#uc)" opacity="0.35"/>
<rect x="56.90" y="440.00" width="35.60" height="24.60" fill="#000" filter="url(#bf)" opacity="0.25"/>
<rect x="56.90" y="440.00" width="35.60" height="24.60" fill="#000" filter="url(#bm)" opacity="0.25"/>
<svg x="56.90" y="440.00" width="35.60" height="24.60" viewBox="0 0 35.60 24.60" overflow="hidden"><g filter="url(#bb)">
<ellipse cx="13.17" cy="1.97" rx="7.83" ry="7.38" fill="#f4f4f2"/>
<ellipse cx="5.34" cy="21.40" rx="7.12" ry="6.89" fill="#f4f4f2"/>
<ellipse cx="34.53" cy="17.71" rx="4.27" ry="6.40" fill="#f4f4f2"/>
<ellipse cx="23.14" cy="15.25" rx="2.14" ry="2.21" fill="#f4f4f2"/>
<ellipse cx="2.14" cy="7.38" rx="2.85" ry="4.92" fill="#d8d6d0"/>
</g></svg>
<rect x="94.60" y="440.00" width="35.20" height="24.60" fill="#cdcedc"/>
<rect x="94.60" y="440.00" width="35.20" height="24.60" fill="#000" filter="url(#uc)" opacity="0.6"/>
<rect x="94.60" y="440.00" width="35.20" height="24.60" fill="#000" filter="url(#vc)" opacity="0.45"/>
<rect x="94.60" y="440.00" width="35.20" height="24.60" fill="#000" filter="url(#bm)" opacity="0.2"/>
<svg x="94.60" y="440.00" width="35.20" height="24.60" viewBox="0 0 35.20 24.60" overflow="hidden"><g filter="url(#bb)">
<ellipse cx="21.82" cy="12.30" rx="5.98" ry="5.17" fill="#e6e6e8"/>
<ellipse cx="2.82" cy="20.91" rx="3.52" ry="3.44" fill="#dedee6"/>
<ellipse cx="10.56" cy="2.95" rx="3.52" ry="2.46" fill="#dcdce6"/>
<ellipse cx="33.44" cy="2.46" rx="2.82" ry="2.95" fill="#dedee6"/>
<ellipse cx="19.36" cy="23.37" rx="4.22" ry="1.97" fill="#dedee6"/>
</g></svg>
<rect x="132.00" y="440.00" width="36.80" height="24.60" fill="#d8d8e8"/>
<rect x="132.00" y="440.00" width="36.80" height="24.60" fill="#000" filter="url(#mc)" opacity="0.95"/>
<rect x="132.00" y="440.00" width="36.80" height="24.60" fill="#000" filter="url(#uc)" opacity="0.3"/>
<rect x="132.00" y="440.00" width="36.80" height="24.60" fill="#000" filter="url(#bm)" opacity="0.35"/>
<svg x="132.00" y="440.00" width="36.80" height="24.60" viewBox="0 0 36.80 24.60" overflow="hidden"><g filter="url(#bb)">
<ellipse cx="3.68" cy="4.92" rx="3.68" ry="3.69" fill="#dadaea"/>
<ellipse cx="27.60" cy="3.69" rx="4.42" ry="2.95" fill="#dadaea"/>
<ellipse cx="22.08" cy="18.45" rx="2.94" ry="2.46" fill="#dadaea"/>
<ellipse cx="3.68" cy="22.14" rx="3.68" ry="2.46" fill="#dadaea"/>
</g></svg>
<rect x="171.00" y="440.00" width="35.90" height="24.60" fill="#d6d9d5"/>
<rect x="171.00" y="440.00" width="35.90" height="24.60" fill="#000" filter="url(#gf)" opacity="0.08"/>
<svg x="171.00" y="440.00" width="35.90" height="24.60" viewBox="0 0 35.90 24.60" overflow="hidden"><g filter="url(#bb)">
<ellipse cx="5.03" cy="15.99" rx="3.59" ry="2.46" fill="#8c8472" opacity="0.6"/>
<ellipse cx="4.31" cy="18.45" rx="1.44" ry="1.23" fill="#4452a8"/>
<ellipse cx="7.18" cy="20.42" rx="1.08" ry="0.98" fill="#4452a8"/>
<ellipse cx="21.54" cy="7.38" rx="2.51" ry="1.48" fill="#8c8472" opacity="0.55"/>
<ellipse cx="23.69" cy="7.38" rx="1.08" ry="0.98" fill="#4452a8"/>
<ellipse cx="25.85" cy="8.86" rx="0.90" ry="0.86" fill="#4452a8"/>
<ellipse cx="8.98" cy="2.46" rx="0.72" ry="0.74" fill="#5462b0"/>
<ellipse cx="16.16" cy="4.43" rx="0.72" ry="0.74" fill="#5462b0"/>
<ellipse cx="32.31" cy="22.14" rx="0.72" ry="0.74" fill="#5462b0"/>
</g></svg>
<rect x="208.60" y="440.00" width="36.40" height="24.60" fill="#cfd2c7"/>
<rect x="208.60" y="440.00" width="36.40" height="24.60" fill="#000" filter="url(#gf)" opacity="0.15"/>
<rect x="208.60" y="440.00" width="36.40" height="24.60" fill="#000" filter="url(#wf)" opacity="0.25"/>
<svg x="208.60" y="440.00" width="36.40" height="24.60" viewBox="0 0 36.40 24.60" overflow="hidden"><g filter="url(#bb)">
<ellipse cx="12.74" cy="7.38" rx="1.64" ry="1.48" fill="#8a6a48" opacity="0.7"/>
<ellipse cx="21.84" cy="16.73" rx="1.82" ry="1.72" fill="#8a6a48" opacity="0.7"/>
<ellipse cx="26.21" cy="15.25" rx="0.91" ry="0.86" fill="#4452a8"/>
<ellipse cx="15.29" cy="1.23" rx="0.91" ry="0.86" fill="#4452a8"/>
<ellipse cx="3.64" cy="18.45" rx="0.91" ry="0.86" fill="#4452a8"/>
<ellipse cx="30.94" cy="7.38" rx="0.91" ry="0.86" fill="#5462b0"/>
<ellipse cx="2.91" cy="7.38" rx="0.73" ry="0.74" fill="#5462b0"/>
</g></svg>
<line x1="19.60" y1="466.50" x2="245.80" y2="466.50" stroke="#3a3a3a" stroke-width="1.1"/>
<rect x="20.30" y="468.60" width="34.60" height="25.60" fill="#d2629e"/>
<svg x="20.30" y="468.60" width="34.60" height="25.60" viewBox="0 0 34.60 25.60" overflow="hidden"><g filter="url(#bb)">
<ellipse cx="10.38" cy="7.68" rx="8.30" ry="8.19" fill="#7c5cac"/>
<ellipse cx="19.03" cy="12.80" rx="12.46" ry="10.24" fill="#8c68b2"/>
<ellipse cx="20.76" cy="3.84" rx="6.92" ry="3.07" fill="#8460ae"/>
<ellipse cx="10.38" cy="19.20" rx="5.54" ry="4.10" fill="#8e6ab4"/>
<ellipse cx="27.68" cy="15.36" rx="4.84" ry="7.68" fill="#9470b6"/>
</g></svg>
<rect x="20.30" y="468.60" width="34.60" height="25.60" fill="#000" filter="url(#pf)" opacity="0.28"/>
<rect x="20.30" y="468.60" width="34.60" height="25.60" fill="#000" filter="url(#kf)" opacity="0.2"/>
<svg x="20.30" y="468.60" width="34.60" height="25.60" viewBox="0 0 34.60 25.60" overflow="hidden"><g filter="url(#bb)">
<ellipse cx="11.42" cy="5.12" rx="1.56" ry="1.54" fill="#ece9f3"/>
<ellipse cx="6.92" cy="3.07" rx="1.38" ry="1.28" fill="#ece9f3"/>
<ellipse cx="16.61" cy="7.17" rx="1.73" ry="1.79" fill="#ece9f3"/>
<ellipse cx="21.45" cy="7.68" rx="2.08" ry="2.05" fill="#ece9f3"/>
<ellipse cx="24.91" cy="5.63" rx="1.73" ry="1.66" fill="#ece9f3"/>
<ellipse cx="28.37" cy="9.73" rx="1.90" ry="1.92" fill="#ece9f3"/>
<ellipse cx="13.15" cy="11.52" rx="2.08" ry="2.05" fill="#ece9f3"/>
<ellipse cx="17.99" cy="11.52" rx="2.25" ry="2.18" fill="#ece9f3"/>
<ellipse cx="22.84" cy="12.03" rx="2.25" ry="2.18" fill="#ece9f3"/>
<ellipse cx="26.99" cy="13.57" rx="2.08" ry="2.05" fill="#ece9f3"/>
<ellipse cx="31.14" cy="12.03" rx="1.73" ry="1.79" fill="#ece9f3"/>
<ellipse cx="8.65" cy="14.85" rx="2.08" ry="2.05" fill="#ece9f3"/>
<ellipse cx="13.84" cy="15.87" rx="2.25" ry="2.18" fill="#ece9f3"/>
<ellipse cx="18.68" cy="16.13" rx="2.25" ry="2.18" fill="#ece9f3"/>
<ellipse cx="23.53" cy="16.64" rx="2.25" ry="2.18" fill="#ece9f3"/>
<ellipse cx="28.37" cy="17.92" rx="2.08" ry="2.05" fill="#ece9f3"/>
<ellipse cx="32.18" cy="17.41" rx="1.38" ry="1.54" fill="#ece9f3"/>
<ellipse cx="7.61" cy="19.46" rx="2.08" ry="2.05" fill="#ece9f3"/>
<ellipse cx="12.11" cy="20.48" rx="2.08" ry="2.05" fill="#ece9f3"/>
<ellipse cx="16.61" cy="20.48" rx="2.08" ry="2.05" fill="#ece9f3"/>
<ellipse cx="21.45" cy="20.99" rx="2.08" ry="2.05" fill="#ece9f3"/>
<ellipse cx="25.95" cy="21.76" rx="1.90" ry="1.79" fill="#ece9f3"/>
<ellipse cx="30.45" cy="20.99" rx="1.56" ry="1.54" fill="#ece9f3"/>
<ellipse cx="9.69" cy="23.55" rx="1.56" ry="1.28" fill="#ece9f3"/>
<ellipse cx="19.03" cy="23.81" rx="1.56" ry="1.28" fill="#ece9f3"/>
</g></svg>
<rect x="56.90" y="468.50" width="35.60" height="25.20" fill="#7c449a"/>
<rect x="56.90" y="468.50" width="35.60" height="25.20" fill="#000" filter="url(#pf)" opacity="0.6"/>
<rect x="56.90" y="468.50" width="35.60" height="25.20" fill="#000" filter="url(#kf)" opacity="0.3"/>
<rect x="56.90" y="468.50" width="35.60" height="25.20" fill="#000" filter="url(#wf)" opacity="0.14"/>
<svg x="56.90" y="468.50" width="35.60" height="25.20" viewBox="0 0 35.60 25.20" overflow="hidden"><g filter="url(#bb)">
<ellipse cx="23.14" cy="3.53" rx="3.20" ry="3.28" fill="#f4f4f2"/>
<ellipse cx="29.55" cy="7.56" rx="2.85" ry="3.02" fill="#f4f4f2"/>
<ellipse cx="17.09" cy="10.58" rx="3.20" ry="3.28" fill="#f4f4f2"/>
<ellipse cx="7.83" cy="18.14" rx="3.92" ry="3.78" fill="#f4f4f2"/>
<ellipse cx="22.07" cy="19.15" rx="2.49" ry="2.52" fill="#f4f4f2"/>
<ellipse cx="32.75" cy="20.16" rx="2.85" ry="5.04" fill="#f4f4f2"/>
<ellipse cx="12.46" cy="23.18" rx="2.14" ry="2.02" fill="#f4f4f2"/>
<ellipse cx="1.42" cy="21.42" rx="1.78" ry="2.02" fill="#f4f4f2"/>
<ellipse cx="13.53" cy="5.04" rx="1.42" ry="1.26" fill="#f4f4f2"/>
</g></svg>
<rect x="94.60" y="468.50" width="35.20" height="25.20" fill="#8a4c9c"/>
<rect x="94.60" y="468.50" width="35.20" height="25.20" fill="#000" filter="url(#pf)" opacity="0.55"/>
<rect x="94.60" y="468.50" width="35.20" height="25.20" fill="#000" filter="url(#kf)" opacity="0.4"/>
<rect x="94.60" y="468.50" width="35.20" height="25.20" fill="#000" filter="url(#wf)" opacity="0.14"/>
<svg x="94.60" y="468.50" width="35.20" height="25.20" viewBox="0 0 35.20 25.20" overflow="hidden"><g filter="url(#bb)">
<ellipse cx="4.22" cy="15.12" rx="7.74" ry="12.60" fill="#c47ab4" opacity="0.5"/>
</g></svg>
<rect x="132.00" y="468.50" width="36.80" height="25.20" fill="#6c4498"/>
<rect x="132.00" y="468.50" width="36.80" height="25.20" fill="#000" filter="url(#pf)" opacity="0.6"/>
<rect x="132.00" y="468.50" width="36.80" height="25.20" fill="#000" filter="url(#kf)" opacity="0.2"/>
<rect x="132.00" y="468.50" width="36.80" height="25.20" fill="#000" filter="url(#wf)" opacity="0.14"/>
<svg x="132.00" y="468.50" width="36.80" height="25.20" viewBox="0 0 36.80 25.20" overflow="hidden"><g filter="url(#bb)">
<ellipse cx="23.18" cy="22.68" rx="3.68" ry="4.28" fill="#f4f4f2"/>
</g></svg>
<rect x="171.00" y="468.50" width="35.90" height="25.20" fill="#863c94"/>
<rect x="171.00" y="468.50" width="35.90" height="25.20" fill="#000" filter="url(#pf)" opacity="0.55"/>
<rect x="171.00" y="468.50" width="35.90" height="25.20" fill="#000" filter="url(#kf)" opacity="0.3"/>
<rect x="171.00" y="468.50" width="35.90" height="25.20" fill="#000" filter="url(#rf)" opacity="0.25"/>
<rect x="171.00" y="468.50" width="35.90" height="25.20" fill="#000" filter="url(#wf)" opacity="0.14"/>
<svg x="171.00" y="468.50" width="35.90" height="25.20" viewBox="0 0 35.90 25.20" overflow="hidden"><g filter="url(#bb)">
<ellipse cx="7.18" cy="1.01" rx="4.67" ry="5.04" fill="#f4f4f2"/>
<ellipse cx="19.75" cy="0.76" rx="4.31" ry="4.54" fill="#f4f4f2"/>
<ellipse cx="30.87" cy="1.51" rx="4.31" ry="5.04" fill="#f4f4f2"/>
<ellipse cx="34.82" cy="16.38" rx="4.31" ry="5.04" fill="#f4f4f2"/>
<ellipse cx="7.90" cy="15.62" rx="2.69" ry="2.52" fill="#f4f4f2"/>
<ellipse cx="0.00" cy="21.92" rx="4.31" ry="5.04" fill="#f4f4f2"/>
<ellipse cx="0.00" cy="8.82" rx="1.44" ry="3.53" fill="#f4f4f2"/>
</g></svg>
<rect x="208.60" y="468.50" width="36.40" height="25.20" fill="#a88abc"/>
<rect x="208.60" y="468.50" width="36.40" height="25.20" fill="#000" filter="url(#pf)" opacity="0.5"/>
<rect x="208.60" y="468.50" width="36.40" height="25.20" fill="#000" filter="url(#kf)" opacity="0.2"/>
<rect x="208.60" y="468.50" width="36.40" height="25.20" fill="#000" filter="url(#wf)" opacity="0.14"/>
<svg x="208.60" y="468.50" width="36.40" height="25.20" viewBox="0 0 36.40 25.20" overflow="hidden"><g filter="url(#bb)">
<ellipse cx="12.74" cy="10.58" rx="5.46" ry="5.04" fill="#e6e2ea"/>
<ellipse cx="27.66" cy="7.56" rx="4.37" ry="5.04" fill="#e6e2ea"/>
<ellipse cx="20.02" cy="20.66" rx="4.73" ry="4.03" fill="#e6e2ea"/>
<ellipse cx="33.49" cy="18.90" rx="3.64" ry="4.03" fill="#e6e2ea"/>
<ellipse cx="3.64" cy="20.16" rx="3.64" ry="3.78" fill="#e6e2ea"/>
<ellipse cx="3.64" cy="3.78" rx="3.64" ry="3.02" fill="#e6e2ea"/>
<ellipse cx="20.02" cy="2.52" rx="2.91" ry="2.52" fill="#e6e2ea"/>
<ellipse cx="10.92" cy="18.90" rx="2.18" ry="2.02" fill="#e6e2ea"/>
</g></svg>
<rect x="20.10" y="495.50" width="34.30" height="24.90" fill="#c496c8"/>
<rect x="20.10" y="495.50" width="34.30" height="24.90" fill="#000" filter="url(#kf)" opacity="0.35"/>
<rect x="20.10" y="495.50" width="34.30" height="24.90" fill="#000" filter="url(#pc)" opacity="0.2"/>
<svg x="20.10" y="495.50" width="34.30" height="24.90" viewBox="0 0 34.30 24.90" overflow="hidden"><g filter="url(#bb)">
<ellipse cx="21.27" cy="14.94" rx="3.43" ry="3.73" fill="#dcaed4"/>
<ellipse cx="8.57" cy="23.16" rx="4.12" ry="1.49" fill="#e0b0d4"/>
</g></svg>
<svg x="20.10" y="495.50" width="34.30" height="24.90" viewBox="0 0 34.30 24.90" overflow="hidden"><g filter="url(#bb)" opacity="0.92">
<circle cx="19.9" cy="4.8" r="1.42" fill="#2f2072"/>
<circle cx="31.7" cy="11.6" r="1.26" fill="#2f2072"/>
<circle cx="7.4" cy="5.5" r="1.07" fill="#44308c"/>
<circle cx="23.8" cy="5.3" r="1.42" fill="#2f2072"/>
<circle cx="2.4" cy="4.8" r="0.97" fill="#2f2072"/>
<circle cx="26.4" cy="9.1" r="1.16" fill="#35247c"/>
<circle cx="11.2" cy="15.9" r="1.13" fill="#35247c"/>
<circle cx="7.1" cy="10.7" r="1.08" fill="#35247c"/>
<circle cx="3.8" cy="20.5" r="1.27" fill="#35247c"/>
<circle cx="22.8" cy="22.0" r="1.12" fill="#35247c"/>
<circle cx="13.0" cy="10.5" r="1.13" fill="#3c2a86"/>
<circle cx="22.9" cy="0.2" r="1.16" fill="#2f2072"/>
<circle cx="18.4" cy="8.6" r="0.93" fill="#3c2a86"/>
<circle cx="5.3" cy="0.9" r="1.01" fill="#44308c"/>
<circle cx="16.3" cy="12.4" r="1.37" fill="#3c2a86"/>
<circle cx="10.7" cy="21.7" r="1.28" fill="#35247c"/>
<circle cx="1.1" cy="8.6" r="1.41" fill="#35247c"/>
<circle cx="30.0" cy="20.9" r="0.98" fill="#3c2a86"/>
<circle cx="24.2" cy="19.3" r="1.34" fill="#35247c"/>
<circle cx="27.2" cy="3.5" r="1.01" fill="#3c2a86"/>
<circle cx="27.2" cy="18.4" r="1.38" fill="#44308c"/>
<circle cx="15.3" cy="22.2" r="0.99" fill="#2f2072"/>
<circle cx="32.8" cy="22.0" r="1.09" fill="#44308c"/>
<circle cx="2.3" cy="13.7" r="1.28" fill="#44308c"/>
<circle cx="12.0" cy="1.4" r="1.06" fill="#2f2072"/>
<circle cx="3.3" cy="16.3" r="1.38" fill="#35247c"/>
<circle cx="0.4" cy="15.8" r="1.36" fill="#44308c"/>
<circle cx="5.1" cy="3.0" r="1.10" fill="#35247c"/>
<circle cx="4.4" cy="13.6" r="1.08" fill="#3c2a86"/>
<circle cx="1.4" cy="1.2" r="1.43" fill="#35247c"/>
<circle cx="25.4" cy="10.9" r="1.26" fill="#2f2072"/>
<circle cx="9.2" cy="17.7" r="1.41" fill="#3c2a86"/>
<circle cx="31.6" cy="1.5" r="1.13" fill="#35247c"/>
<circle cx="15.5" cy="6.8" r="1.24" fill="#2f2072"/>
<circle cx="4.9" cy="18.6" r="1.36" fill="#2f2072"/>
<circle cx="33.5" cy="19.9" r="1.10" fill="#2f2072"/>
<circle cx="7.4" cy="19.8" r="0.97" fill="#3c2a86"/>
<circle cx="25.0" cy="14.6" r="1.26" fill="#35247c"/>
<circle cx="6.5" cy="12.9" r="1.29" fill="#3c2a86"/>
<circle cx="20.3" cy="23.3" r="1.09" fill="#3c2a86"/>
<circle cx="16.5" cy="3.2" r="0.98" fill="#35247c"/>
<circle cx="34.1" cy="15.0" r="1.43" fill="#3c2a86"/>
<circle cx="13.8" cy="3.3" r="0.95" fill="#44308c"/>
<circle cx="9.9" cy="13.2" r="1.43" fill="#3c2a86"/>
<circle cx="10.2" cy="5.9" r="1.29" fill="#44308c"/>
<circle cx="13.3" cy="13.9" r="1.00" fill="#2f2072"/>
<circle cx="29.3" cy="22.9" r="1.31" fill="#3c2a86"/>
<circle cx="32.1" cy="8.3" r="0.94" fill="#3c2a86"/>
<circle cx="6.9" cy="3.8" r="1.00" fill="#35247c"/>
<circle cx="26.7" cy="5.6" r="1.19" fill="#2f2072"/>
<circle cx="1.1" cy="22.2" r="0.99" fill="#3c2a86"/>
<circle cx="12.7" cy="19.7" r="1.41" fill="#2f2072"/>
<circle cx="22.7" cy="9.2" r="1.36" fill="#3c2a86"/>
<circle cx="25.0" cy="17.0" r="1.07" fill="#2f2072"/>
<circle cx="29.5" cy="1.2" r="1.19" fill="#2f2072"/>
<circle cx="4.7" cy="23.5" r="1.05" fill="#44308c"/>
<circle cx="4.7" cy="11.0" r="0.95" fill="#44308c"/>
<circle cx="18.6" cy="22.0" r="1.15" fill="#44308c"/>
<circle cx="27.9" cy="20.7" r="1.01" fill="#3c2a86"/>
<circle cx="29.3" cy="17.8" r="1.18" fill="#44308c"/>
<circle cx="20.0" cy="0.3" r="1.05" fill="#44308c"/>
<circle cx="17.1" cy="7.6" r="0.99" fill="#44308c"/>
<circle cx="11.0" cy="3.8" r="1.04" fill="#2f2072"/>
<circle cx="30.4" cy="4.0" r="1.29" fill="#44308c"/>
<circle cx="31.2" cy="6.1" r="1.37" fill="#3c2a86"/>
<circle cx="7.0" cy="22.3" r="1.37" fill="#2f2072"/>
<circle cx="23.9" cy="12.1" r="1.00" fill="#3c2a86"/>
<circle cx="30.2" cy="8.0" r="1.14" fill="#2f2072"/>
<circle cx="15.0" cy="17.5" r="0.94" fill="#35247c"/>
<circle cx="7.8" cy="24.8" r="0.93" fill="#2f2072"/>
<circle cx="19.9" cy="2.1" r="1.10" fill="#35247c"/>
<circle cx="24.5" cy="8.4" r="1.13" fill="#2f2072"/>
<circle cx="26.5" cy="1.8" r="1.02" fill="#35247c"/>
<circle cx="0.7" cy="12.2" r="0.98" fill="#35247c"/>
<circle cx="32.9" cy="3.9" r="1.31" fill="#44308c"/>
<circle cx="5.8" cy="16.5" r="1.29" fill="#2f2072"/>
<circle cx="21.0" cy="20.0" r="1.37" fill="#44308c"/>
<circle cx="26.2" cy="12.8" r="1.13" fill="#2f2072"/>
<circle cx="18.4" cy="11.5" r="1.27" fill="#3c2a86"/>
<circle cx="10.6" cy="8.3" r="1.17" fill="#44308c"/>
<circle cx="8.3" cy="7.3" r="0.95" fill="#35247c"/>
<circle cx="33.3" cy="17.8" r="1.24" fill="#44308c"/>
<circle cx="1.9" cy="20.0" r="0.95" fill="#3c2a86"/>
<circle cx="14.2" cy="5.1" r="1.27" fill="#35247c"/>
<circle cx="31.9" cy="23.6" r="1.01" fill="#44308c"/>
<circle cx="16.9" cy="24.9" r="1.42" fill="#3c2a86"/>
<circle cx="18.4" cy="20.1" r="1.27" fill="#3c2a86"/>
<circle cx="26.8" cy="23.5" r="0.95" fill="#2f2072"/>
<circle cx="3.6" cy="7.2" r="0.99" fill="#3c2a86"/>
<circle cx="18.9" cy="17.9" r="1.01" fill="#35247c"/>
<circle cx="15.9" cy="15.6" r="1.00" fill="#44308c"/>
<circle cx="12.7" cy="24.7" r="1.22" fill="#44308c"/>
<circle cx="31.5" cy="14.8" r="0.98" fill="#2f2072"/>
<circle cx="34.2" cy="11.6" r="0.95" fill="#3c2a86"/>
<circle cx="5.3" cy="7.1" r="1.01" fill="#3c2a86"/>
</g></svg>
<svg x="20.10" y="495.50" width="34.30" height="24.90" viewBox="0 0 34.30 24.90" overflow="hidden"><g filter="url(#bb)">
<ellipse cx="19.55" cy="22.41" rx="2.06" ry="1.74" fill="#f4f4f2"/>
</g></svg>
<rect x="56.90" y="495.50" width="35.60" height="24.90" fill="#b674b4"/>
<rect x="56.90" y="495.50" width="35.60" height="24.90" fill="#000" filter="url(#kf)" opacity="0.4"/>
<rect x="56.90" y="495.50" width="35.60" height="24.90" fill="#000" filter="url(#pc)" opacity="0.2"/>
<svg x="56.90" y="495.50" width="35.60" height="24.90" viewBox="0 0 35.60 24.90" overflow="hidden"><g filter="url(#bb)" opacity="0.92">
<circle cx="5.3" cy="15.3" r="1.01" fill="#44308c"/>
<circle cx="25.4" cy="15.1" r="1.12" fill="#44308c"/>
<circle cx="22.0" cy="14.1" r="0.94" fill="#44308c"/>
<circle cx="18.9" cy="15.4" r="1.19" fill="#2f2072"/>
<circle cx="31.3" cy="18.3" r="1.12" fill="#44308c"/>
<circle cx="8.1" cy="3.2" r="1.34" fill="#2f2072"/>
<circle cx="17.8" cy="5.5" r="1.19" fill="#2f2072"/>
<circle cx="23.9" cy="6.1" r="0.97" fill="#2f2072"/>
<circle cx="11.9" cy="17.1" r="1.18" fill="#35247c"/>
<circle cx="26.6" cy="10.7" r="1.13" fill="#2f2072"/>
<circle cx="32.3" cy="4.2" r="1.03" fill="#3c2a86"/>
<circle cx="21.0" cy="15.7" r="1.14" fill="#2f2072"/>
<circle cx="19.9" cy="11.0" r="1.27" fill="#44308c"/>
<circle cx="31.6" cy="20.5" r="1.25" fill="#35247c"/>
<circle cx="16.7" cy="23.6" r="1.15" fill="#35247c"/>
<circle cx="22.3" cy="21.6" r="1.27" fill="#44308c"/>
<circle cx="13.9" cy="18.5" r="1.23" fill="#35247c"/>
<circle cx="32.6" cy="15.5" r="1.20" fill="#35247c"/>
<circle cx="34.7" cy="13.1" r="1.13" fill="#44308c"/>
<circle cx="33.4" cy="23.5" r="1.01" fill="#35247c"/>
<circle cx="2.6" cy="21.4" r="1.38" fill="#35247c"/>
<circle cx="13.7" cy="6.3" r="1.27" fill="#3c2a86"/>
<circle cx="5.1" cy="11.9" r="1.04" fill="#3c2a86"/>
<circle cx="2.9" cy="9.7" r="1.00" fill="#35247c"/>
<circle cx="4.2" cy="3.8" r="1.14" fill="#35247c"/>
<circle cx="26.5" cy="5.0" r="1.16" fill="#35247c"/>
<circle cx="28.7" cy="20.7" r="1.16" fill="#2f2072"/>
<circle cx="30.0" cy="16.0" r="1.04" fill="#35247c"/>
<circle cx="13.9" cy="20.9" r="1.42" fill="#3c2a86"/>
<circle cx="32.7" cy="11.7" r="0.92" fill="#35247c"/>
<circle cx="9.8" cy="5.5" r="1.26" fill="#44308c"/>
<circle cx="25.0" cy="22.9" r="1.28" fill="#2f2072"/>
<circle cx="29.8" cy="6.8" r="1.32" fill="#35247c"/>
<circle cx="6.7" cy="23.6" r="0.99" fill="#2f2072"/>
<circle cx="16.1" cy="15.0" r="1.17" fill="#3c2a86"/>
<circle cx="31.3" cy="23.8" r="1.10" fill="#35247c"/>
<circle cx="4.8" cy="22.8" r="1.15" fill="#3c2a86"/>
<circle cx="20.7" cy="7.0" r="1.21" fill="#3c2a86"/>
<circle cx="2.4" cy="18.9" r="1.31" fill="#44308c"/>
<circle cx="34.1" cy="0.8" r="1.18" fill="#35247c"/>
<circle cx="9.7" cy="22.5" r="1.37" fill="#3c2a86"/>
<circle cx="5.4" cy="1.7" r="1.01" fill="#2f2072"/>
<circle cx="34.8" cy="5.7" r="1.38" fill="#3c2a86"/>
<circle cx="4.8" cy="8.4" r="1.16" fill="#3c2a86"/>
<circle cx="12.8" cy="24.0" r="1.04" fill="#3c2a86"/>
<circle cx="24.6" cy="8.4" r="1.17" fill="#35247c"/>
<circle cx="24.7" cy="2.2" r="0.95" fill="#44308c"/>
<circle cx="24.5" cy="24.7" r="0.93" fill="#2f2072"/>
<circle cx="2.0" cy="11.8" r="1.36" fill="#3c2a86"/>
<circle cx="13.9" cy="11.0" r="1.15" fill="#3c2a86"/>
<circle cx="8.2" cy="8.0" r="1.34" fill="#44308c"/>
<circle cx="26.5" cy="20.3" r="1.27" fill="#44308c"/>
<circle cx="10.1" cy="2.1" r="1.37" fill="#35247c"/>
<circle cx="30.5" cy="22.2" r="1.06" fill="#3c2a86"/>
<circle cx="0.8" cy="4.3" r="1.03" fill="#44308c"/>
<circle cx="24.2" cy="20.5" r="1.34" fill="#35247c"/>
<circle cx="8.7" cy="14.6" r="1.01" fill="#2f2072"/>
<circle cx="16.8" cy="9.1" r="1.36" fill="#2f2072"/>
<circle cx="11.6" cy="20.5" r="1.18" fill="#2f2072"/>
<circle cx="22.6" cy="18.0" r="1.02" fill="#35247c"/>
<circle cx="30.2" cy="3.9" r="0.93" fill="#3c2a86"/>
<circle cx="27.4" cy="1.0" r="1.18" fill="#35247c"/>
<circle cx="8.6" cy="18.3" r="1.43" fill="#2f2072"/>
<circle cx="14.4" cy="8.2" r="1.00" fill="#35247c"/>
<circle cx="19.9" cy="4.5" r="1.43" fill="#2f2072"/>
<circle cx="26.8" cy="23.6" r="1.02" fill="#2f2072"/>
<circle cx="35.1" cy="20.8" r="1.19" fill="#2f2072"/>
<circle cx="20.7" cy="19.4" r="1.17" fill="#2f2072"/>
<circle cx="26.7" cy="8.4" r="0.99" fill="#44308c"/>
<circle cx="19.6" cy="21.8" r="1.42" fill="#44308c"/>
<circle cx="34.6" cy="9.7" r="0.97" fill="#35247c"/>
<circle cx="11.8" cy="12.8" r="1.01" fill="#2f2072"/>
<circle cx="8.3" cy="12.2" r="1.26" fill="#35247c"/>
<circle cx="13.8" cy="2.7" r="1.40" fill="#3c2a86"/>
<circle cx="28.9" cy="22.7" r="0.97" fill="#3c2a86"/>
<circle cx="0.5" cy="19.9" r="1.21" fill="#3c2a86"/>
<circle cx="23.4" cy="3.4" r="0.93" fill="#3c2a86"/>
<circle cx="25.2" cy="17.9" r="1.01" fill="#3c2a86"/>
<circle cx="23.0" cy="12.1" r="1.34" fill="#35247c"/>
<circle cx="0.2" cy="21.7" r="1.03" fill="#44308c"/>
<circle cx="15.3" cy="4.6" r="1.12" fill="#35247c"/>
<circle cx="33.5" cy="17.4" r="1.15" fill="#35247c"/>
<circle cx="14.3" cy="13.5" r="1.15" fill="#3c2a86"/>
<circle cx="25.2" cy="13.0" r="1.15" fill="#35247c"/>
<circle cx="3.0" cy="16.4" r="1.42" fill="#35247c"/>
<circle cx="18.1" cy="12.4" r="1.15" fill="#44308c"/>
<circle cx="22.2" cy="24.7" r="1.30" fill="#2f2072"/>
<circle cx="22.5" cy="8.6" r="1.10" fill="#2f2072"/>
<circle cx="4.6" cy="19.5" r="1.40" fill="#44308c"/>
<circle cx="30.7" cy="10.9" r="1.40" fill="#3c2a86"/>
<circle cx="0.3" cy="9.3" r="0.98" fill="#3c2a86"/>
<circle cx="0.1" cy="7.4" r="1.29" fill="#2f2072"/>
<circle cx="30.3" cy="0.1" r="1.32" fill="#35247c"/>
<circle cx="0.5" cy="15.0" r="1.00" fill="#44308c"/>
<circle cx="17.9" cy="1.9" r="0.94" fill="#44308c"/>
<circle cx="2.3" cy="2.7" r="1.10" fill="#35247c"/>
<circle cx="19.9" cy="1.3" r="1.28" fill="#3c2a86"/>
<circle cx="10.0" cy="9.5" r="1.00" fill="#44308c"/>
<circle cx="35.2" cy="23.3" r="1.20" fill="#44308c"/>
<circle cx="18.8" cy="24.7" r="1.20" fill="#35247c"/>
</g></svg>
<svg x="56.90" y="495.50" width="35.60" height="24.90" viewBox="0 0 35.60 24.90" overflow="hidden"><g filter="url(#bb)">
<ellipse cx="34.18" cy="14.94" rx="1.78" ry="4.98" fill="#f4f4f2"/>
<ellipse cx="3.56" cy="23.90" rx="2.14" ry="1.24" fill="#f4f4f2"/>
</g></svg>
<rect x="94.60" y="495.50" width="35.20" height="24.90" fill="#ece8f2"/>
<rect x="94.60" y="495.50" width="35.20" height="24.90" fill="#000" filter="url(#kf)" opacity="0.15"/>
<svg x="94.60" y="495.50" width="35.20" height="24.90" viewBox="0 0 35.20 24.90" overflow="hidden"><g filter="url(#bb)">
<ellipse cx="7.04" cy="12.45" rx="9.15" ry="15.44" fill="#deb0d4" opacity="0.95"/>
<ellipse cx="6.34" cy="21.16" rx="2.82" ry="2.99" fill="#eed6e6"/>
<ellipse cx="10.56" cy="7.47" rx="3.52" ry="4.98" fill="#d49cc8" opacity="0.7"/>
</g></svg>
<svg x="94.60" y="495.50" width="35.20" height="24.90" viewBox="0 0 35.20 24.90" overflow="hidden"><g filter="url(#bb)" opacity="0.92">
<circle cx="34.5" cy="11.4" r="1.63" fill="#3c2a86"/>
<circle cx="25.9" cy="5.4" r="1.21" fill="#35247c"/>
<circle cx="21.2" cy="3.0" r="1.41" fill="#44308c"/>
<circle cx="31.3" cy="21.7" r="1.24" fill="#44308c"/>
<circle cx="29.1" cy="0.6" r="1.31" fill="#44308c"/>
<circle cx="18.4" cy="4.6" r="1.43" fill="#3c2a86"/>
<circle cx="25.8" cy="18.0" r="1.43" fill="#3c2a86"/>
<circle cx="27.7" cy="14.3" r="1.70" fill="#44308c"/>
<circle cx="20.4" cy="23.6" r="1.56" fill="#35247c"/>
<circle cx="16.7" cy="6.2" r="1.34" fill="#44308c"/>
<circle cx="24.9" cy="7.4" r="1.47" fill="#44308c"/>
<circle cx="32.4" cy="2.4" r="1.69" fill="#44308c"/>
<circle cx="24.6" cy="2.2" r="1.48" fill="#2f2072"/>
<circle cx="35.1" cy="24.6" r="1.53" fill="#3c2a86"/>
<circle cx="19.4" cy="14.9" r="1.42" fill="#2f2072"/>
<circle cx="28.8" cy="11.1" r="1.65" fill="#2f2072"/>
<circle cx="30.7" cy="13.5" r="1.53" fill="#44308c"/>
<circle cx="21.9" cy="5.7" r="1.41" fill="#3c2a86"/>
<circle cx="30.6" cy="7.1" r="1.63" fill="#3c2a86"/>
<circle cx="18.3" cy="10.0" r="1.55" fill="#44308c"/>
<circle cx="27.3" cy="22.3" r="1.60" fill="#3c2a86"/>
<circle cx="23.8" cy="21.4" r="1.33" fill="#3c2a86"/>
<circle cx="18.6" cy="21.4" r="1.67" fill="#2f2072"/>
<circle cx="20.4" cy="11.9" r="1.29" fill="#3c2a86"/>
<circle cx="23.5" cy="16.3" r="1.50" fill="#44308c"/>
<circle cx="17.0" cy="16.5" r="1.50" fill="#35247c"/>
<circle cx="28.9" cy="17.4" r="1.58" fill="#35247c"/>
<circle cx="33.9" cy="16.4" r="1.77" fill="#35247c"/>
<circle cx="31.5" cy="16.4" r="1.19" fill="#44308c"/>
<circle cx="33.7" cy="5.3" r="1.35" fill="#35247c"/>
<circle cx="16.3" cy="22.8" r="1.67" fill="#2f2072"/>
<circle cx="25.6" cy="11.8" r="1.51" fill="#35247c"/>
<circle cx="26.0" cy="0.3" r="1.32" fill="#35247c"/>
<circle cx="22.2" cy="10.0" r="1.68" fill="#3c2a86"/>
<circle cx="19.9" cy="7.5" r="1.49" fill="#35247c"/>
<circle cx="23.1" cy="19.1" r="1.20" fill="#35247c"/>
<circle cx="19.2" cy="0.4" r="1.73" fill="#35247c"/>
<circle cx="29.5" cy="24.1" r="1.46" fill="#44308c"/>
<circle cx="22.0" cy="0.6" r="1.22" fill="#44308c"/>
<circle cx="27.9" cy="6.7" r="1.30" fill="#2f2072"/>
<circle cx="27.2" cy="3.6" r="1.40" fill="#3c2a86"/>
<circle cx="31.9" cy="9.8" r="1.29" fill="#35247c"/>
<circle cx="32.7" cy="23.7" r="1.40" fill="#44308c"/>
<circle cx="30.1" cy="19.8" r="1.36" fill="#2f2072"/>
<circle cx="34.8" cy="20.0" r="1.55" fill="#35247c"/>
<circle cx="32.6" cy="19.2" r="1.39" fill="#35247c"/>
<circle cx="20.6" cy="17.4" r="1.70" fill="#2f2072"/>
<circle cx="34.8" cy="0.1" r="1.26" fill="#35247c"/>
</g></svg>
<svg x="94.60" y="495.50" width="35.20" height="24.90" viewBox="0 0 35.20 24.90" overflow="hidden"><g filter="url(#bb)" opacity="0.7">
<circle cx="1.1" cy="21.6" r="1.12" fill="#6a3090"/>
<circle cx="0.6" cy="13.7" r="0.91" fill="#5a2a86"/>
<circle cx="10.6" cy="14.9" r="1.02" fill="#6a3090"/>
<circle cx="9.9" cy="10.8" r="0.98" fill="#7a3a94"/>
<circle cx="12.4" cy="24.1" r="1.14" fill="#5a2a86"/>
<circle cx="14.3" cy="6.9" r="0.89" fill="#5a2a86"/>
<circle cx="6.3" cy="17.7" r="1.20" fill="#5a2a86"/>
<circle cx="10.7" cy="21.2" r="1.17" fill="#6a3090"/>
</g></svg>
<rect x="132.00" y="495.50" width="36.80" height="24.90" fill="#e2daf0"/>
<rect x="132.00" y="495.50" width="36.80" height="24.90" fill="#000" filter="url(#pm)" opacity="0.15"/>
<svg x="132.00" y="495.50" width="36.80" height="24.90" viewBox="0 0 36.80 24.90" overflow="hidden"><g filter="url(#bb)" opacity="0.92">
<circle cx="35.3" cy="21.7" r="1.69" fill="#35247c"/>
<circle cx="8.4" cy="8.2" r="1.68" fill="#2f2072"/>
<circle cx="29.7" cy="0.4" r="1.31" fill="#44308c"/>
<circle cx="33.0" cy="2.9" r="1.64" fill="#44308c"/>
<circle cx="12.1" cy="16.1" r="1.78" fill="#2f2072"/>
<circle cx="21.4" cy="9.7" r="1.42" fill="#2f2072"/>
<circle cx="22.9" cy="15.6" r="1.48" fill="#2f2072"/>
<circle cx="17.2" cy="13.4" r="1.37" fill="#3c2a86"/>
<circle cx="6.6" cy="14.2" r="1.27" fill="#35247c"/>
<circle cx="22.0" cy="20.0" r="1.76" fill="#3c2a86"/>
<circle cx="12.9" cy="24.7" r="1.33" fill="#3c2a86"/>
<circle cx="29.6" cy="13.6" r="1.63" fill="#35247c"/>
<circle cx="33.6" cy="24.8" r="1.32" fill="#35247c"/>
<circle cx="19.2" cy="1.0" r="1.46" fill="#35247c"/>
<circle cx="5.3" cy="4.0" r="1.62" fill="#3c2a86"/>
<circle cx="29.9" cy="6.1" r="1.25" fill="#2f2072"/>
<circle cx="20.1" cy="13.3" r="1.69" fill="#44308c"/>
<circle cx="11.4" cy="21.0" r="1.67" fill="#44308c"/>
<circle cx="31.6" cy="22.2" r="1.77" fill="#35247c"/>
<circle cx="3.4" cy="14.4" r="1.60" fill="#3c2a86"/>
<circle cx="20.8" cy="23.9" r="1.63" fill="#35247c"/>
<circle cx="3.1" cy="5.0" r="1.24" fill="#2f2072"/>
<circle cx="18.6" cy="5.7" r="1.56" fill="#3c2a86"/>
<circle cx="8.7" cy="4.9" r="1.53" fill="#44308c"/>
<circle cx="2.6" cy="22.0" r="1.58" fill="#3c2a86"/>
<circle cx="14.5" cy="13.7" r="1.84" fill="#44308c"/>
<circle cx="18.2" cy="9.8" r="1.35" fill="#3c2a86"/>
<circle cx="14.0" cy="19.3" r="1.61" fill="#44308c"/>
<circle cx="16.9" cy="0.3" r="1.58" fill="#3c2a86"/>
<circle cx="6.1" cy="19.9" r="1.41" fill="#35247c"/>
<circle cx="25.2" cy="16.8" r="1.21" fill="#44308c"/>
<circle cx="16.1" cy="3.0" r="1.74" fill="#2f2072"/>
<circle cx="11.9" cy="7.8" r="1.50" fill="#3c2a86"/>
<circle cx="15.7" cy="24.2" r="1.65" fill="#35247c"/>
<circle cx="35.4" cy="15.4" r="1.36" fill="#35247c"/>
<circle cx="20.9" cy="4.0" r="1.59" fill="#35247c"/>
<circle cx="5.3" cy="23.2" r="1.40" fill="#35247c"/>
<circle cx="32.9" cy="5.5" r="1.34" fill="#44308c"/>
<circle cx="8.8" cy="0.8" r="1.83" fill="#2f2072"/>
<circle cx="4.7" cy="17.8" r="1.20" fill="#44308c"/>
<circle cx="0.2" cy="17.5" r="1.87" fill="#44308c"/>
<circle cx="22.4" cy="6.1" r="1.48" fill="#35247c"/>
<circle cx="34.2" cy="11.7" r="1.49" fill="#44308c"/>
<circle cx="4.9" cy="0.9" r="1.21" fill="#44308c"/>
<circle cx="34.8" cy="6.9" r="1.54" fill="#2f2072"/>
<circle cx="13.2" cy="0.7" r="1.80" fill="#2f2072"/>
<circle cx="3.3" cy="9.9" r="1.87" fill="#2f2072"/>
<circle cx="1.5" cy="7.1" r="1.32" fill="#44308c"/>
<circle cx="26.7" cy="5.8" r="1.60" fill="#2f2072"/>
<circle cx="8.3" cy="17.4" r="1.37" fill="#44308c"/>
<circle cx="17.4" cy="19.0" r="1.70" fill="#35247c"/>
<circle cx="27.6" cy="17.6" r="1.46" fill="#44308c"/>
<circle cx="10.0" cy="12.4" r="1.68" fill="#44308c"/>
<circle cx="35.8" cy="9.9" r="1.28" fill="#3c2a86"/>
<circle cx="33.6" cy="0.3" r="1.33" fill="#2f2072"/>
<circle cx="32.8" cy="16.7" r="1.84" fill="#35247c"/>
<circle cx="30.1" cy="18.5" r="1.48" fill="#35247c"/>
<circle cx="24.9" cy="19.5" r="1.38" fill="#2f2072"/>
<circle cx="1.6" cy="12.4" r="1.27" fill="#3c2a86"/>
<circle cx="23.5" cy="22.3" r="1.43" fill="#44308c"/>
<circle cx="24.6" cy="13.3" r="1.37" fill="#44308c"/>
<circle cx="0.7" cy="4.1" r="1.50" fill="#2f2072"/>
<circle cx="35.7" cy="18.1" r="1.79" fill="#2f2072"/>
<circle cx="15.4" cy="16.8" r="1.77" fill="#35247c"/>
<circle cx="20.1" cy="16.4" r="1.37" fill="#35247c"/>
<circle cx="25.5" cy="23.7" r="1.61" fill="#3c2a86"/>
<circle cx="24.2" cy="3.2" r="1.48" fill="#3c2a86"/>
<circle cx="27.7" cy="9.5" r="1.64" fill="#35247c"/>
<circle cx="13.2" cy="10.4" r="1.75" fill="#35247c"/>
<circle cx="5.9" cy="7.0" r="1.58" fill="#3c2a86"/>
<circle cx="15.5" cy="7.3" r="1.44" fill="#2f2072"/>
<circle cx="36.2" cy="4.2" r="1.33" fill="#2f2072"/>
<circle cx="0.9" cy="0.5" r="1.45" fill="#3c2a86"/>
<circle cx="29.2" cy="3.5" r="1.86" fill="#35247c"/>
<circle cx="21.5" cy="1.1" r="1.23" fill="#2f2072"/>
<circle cx="27.9" cy="21.2" r="1.79" fill="#35247c"/>
<circle cx="36.7" cy="13.1" r="1.75" fill="#2f2072"/>
<circle cx="0.5" cy="20.3" r="1.36" fill="#3c2a86"/>
<circle cx="8.0" cy="24.2" r="1.48" fill="#3c2a86"/>
<circle cx="31.3" cy="11.7" r="1.54" fill="#3c2a86"/>
<circle cx="9.7" cy="15.5" r="1.28" fill="#44308c"/>
<circle cx="11.3" cy="2.7" r="1.36" fill="#2f2072"/>
<circle cx="23.3" cy="11.4" r="1.26" fill="#2f2072"/>
<circle cx="36.3" cy="2.1" r="1.26" fill="#3c2a86"/>
<circle cx="36.5" cy="24.4" r="1.65" fill="#3c2a86"/>
</g></svg>
<svg x="132.00" y="495.50" width="36.80" height="24.90" viewBox="0 0 36.80 24.90" overflow="hidden"><g filter="url(#bb)">
<ellipse cx="36.06" cy="17.93" rx="2.58" ry="5.48" fill="#f4f4f2"/>
</g></svg>
<rect x="171.00" y="495.50" width="35.90" height="24.90" fill="#b668ac"/>
<rect x="171.00" y="495.50" width="35.90" height="24.90" fill="#000" filter="url(#kf)" opacity="0.35"/>
<rect x="171.00" y="495.50" width="35.90" height="24.90" fill="#000" filter="url(#rf)" opacity="0.15"/>
<rect x="171.00" y="495.50" width="35.90" height="24.90" fill="#000" filter="url(#pc)" opacity="0.2"/>
<svg x="171.00" y="495.50" width="35.90" height="24.90" viewBox="0 0 35.90 24.90" overflow="hidden"><g filter="url(#bb)" opacity="0.92">
<circle cx="31.5" cy="8.7" r="1.33" fill="#3c2a86"/>
<circle cx="34.2" cy="7.8" r="1.32" fill="#35247c"/>
<circle cx="12.0" cy="4.1" r="1.10" fill="#44308c"/>
<circle cx="27.0" cy="3.7" r="1.26" fill="#6a3090"/>
<circle cx="13.9" cy="11.5" r="1.38" fill="#6a3090"/>
<circle cx="33.0" cy="5.7" r="1.43" fill="#2f2072"/>
<circle cx="22.0" cy="23.9" r="1.34" fill="#35247c"/>
<circle cx="18.9" cy="6.2" r="1.40" fill="#5a2a86"/>
<circle cx="35.9" cy="15.6" r="0.98" fill="#3c2a86"/>
<circle cx="29.6" cy="19.1" r="1.38" fill="#3c2a86"/>
<circle cx="35.0" cy="24.3" r="1.30" fill="#2f2072"/>
<circle cx="27.3" cy="15.6" r="1.35" fill="#2f2072"/>
<circle cx="18.5" cy="14.7" r="1.42" fill="#5a2a86"/>
<circle cx="28.4" cy="23.2" r="1.28" fill="#2f2072"/>
<circle cx="4.5" cy="10.4" r="1.07" fill="#44308c"/>
<circle cx="9.4" cy="3.2" r="0.98" fill="#7a3a94"/>
<circle cx="17.3" cy="19.5" r="1.37" fill="#5a2a86"/>
<circle cx="34.7" cy="14.5" r="0.93" fill="#4a2680"/>
<circle cx="6.9" cy="1.4" r="1.37" fill="#5a2a86"/>
<circle cx="11.5" cy="18.0" r="1.15" fill="#4a2680"/>
<circle cx="21.0" cy="21.2" r="1.26" fill="#4a2680"/>
<circle cx="2.7" cy="15.8" r="1.10" fill="#4a2680"/>
<circle cx="33.1" cy="10.3" r="0.96" fill="#7a3a94"/>
<circle cx="6.0" cy="21.6" r="1.10" fill="#2f2072"/>
<circle cx="25.1" cy="24.8" r="1.03" fill="#6a3090"/>
<circle cx="22.2" cy="6.7" r="1.37" fill="#44308c"/>
<circle cx="17.5" cy="17.0" r="1.35" fill="#3c2a86"/>
<circle cx="19.2" cy="11.7" r="0.92" fill="#7a3a94"/>
<circle cx="6.0" cy="17.2" r="1.31" fill="#6a3090"/>
<circle cx="20.7" cy="1.2" r="1.31" fill="#4a2680"/>
<circle cx="30.5" cy="21.3" r="1.31" fill="#6a3090"/>
<circle cx="23.8" cy="8.7" r="1.11" fill="#35247c"/>
<circle cx="29.1" cy="5.8" r="1.06" fill="#44308c"/>
<circle cx="3.1" cy="7.0" r="1.32" fill="#7a3a94"/>
<circle cx="24.6" cy="14.0" r="1.10" fill="#4a2680"/>
<circle cx="33.8" cy="17.0" r="1.08" fill="#44308c"/>
<circle cx="29.8" cy="11.0" r="1.16" fill="#3c2a86"/>
<circle cx="17.1" cy="11.8" r="0.93" fill="#6a3090"/>
<circle cx="29.4" cy="7.5" r="1.15" fill="#35247c"/>
<circle cx="6.3" cy="14.2" r="0.96" fill="#2f2072"/>
<circle cx="1.1" cy="5.2" r="1.37" fill="#6a3090"/>
<circle cx="24.5" cy="18.0" r="0.97" fill="#5a2a86"/>
<circle cx="16.1" cy="1.9" r="1.12" fill="#3c2a86"/>
<circle cx="34.0" cy="22.2" r="1.24" fill="#5a2a86"/>
<circle cx="12.7" cy="15.0" r="1.22" fill="#7a3a94"/>
<circle cx="3.5" cy="18.2" r="1.28" fill="#6a3090"/>
<circle cx="3.6" cy="13.1" r="1.43" fill="#7a3a94"/>
<circle cx="23.2" cy="16.8" r="1.17" fill="#7a3a94"/>
<circle cx="15.3" cy="24.6" r="1.07" fill="#44308c"/>
<circle cx="9.4" cy="5.2" r="1.11" fill="#35247c"/>
<circle cx="12.0" cy="22.7" r="1.03" fill="#7a3a94"/>
<circle cx="11.5" cy="20.8" r="0.93" fill="#3c2a86"/>
<circle cx="2.4" cy="20.1" r="1.29" fill="#7a3a94"/>
<circle cx="9.2" cy="10.8" r="1.10" fill="#5a2a86"/>
<circle cx="1.5" cy="24.6" r="0.93" fill="#5a2a86"/>
<circle cx="16.9" cy="9.4" r="0.99" fill="#4a2680"/>
<circle cx="34.9" cy="11.2" r="1.02" fill="#4a2680"/>
<circle cx="32.6" cy="1.3" r="0.94" fill="#2f2072"/>
<circle cx="7.6" cy="8.2" r="1.20" fill="#2f2072"/>
<circle cx="20.5" cy="13.3" r="1.11" fill="#5a2a86"/>
<circle cx="31.8" cy="11.4" r="1.12" fill="#3c2a86"/>
<circle cx="26.7" cy="20.6" r="1.10" fill="#44308c"/>
<circle cx="6.5" cy="9.7" r="1.07" fill="#7a3a94"/>
<circle cx="18.5" cy="2.0" r="1.07" fill="#6a3090"/>
<circle cx="27.1" cy="13.7" r="1.01" fill="#7a3a94"/>
<circle cx="10.4" cy="0.5" r="1.02" fill="#7a3a94"/>
<circle cx="20.5" cy="15.3" r="1.06" fill="#7a3a94"/>
<circle cx="0.2" cy="13.5" r="1.25" fill="#7a3a94"/>
<circle cx="0.9" cy="17.0" r="0.97" fill="#35247c"/>
<circle cx="30.4" cy="13.2" r="0.92" fill="#35247c"/>
<circle cx="14.3" cy="20.9" r="1.38" fill="#2f2072"/>
<circle cx="5.9" cy="5.7" r="1.24" fill="#6a3090"/>
<circle cx="26.7" cy="24.4" r="0.95" fill="#35247c"/>
<circle cx="14.9" cy="6.7" r="1.34" fill="#6a3090"/>
<circle cx="5.8" cy="23.9" r="1.33" fill="#44308c"/>
<circle cx="31.0" cy="17.6" r="1.21" fill="#4a2680"/>
<circle cx="9.3" cy="16.5" r="1.13" fill="#7a3a94"/>
<circle cx="8.0" cy="19.1" r="1.28" fill="#5a2a86"/>
<circle cx="25.6" cy="9.7" r="1.02" fill="#3c2a86"/>
<circle cx="21.5" cy="11.3" r="1.27" fill="#4a2680"/>
<circle cx="9.4" cy="8.7" r="0.99" fill="#4a2680"/>
<circle cx="20.0" cy="24.9" r="1.36" fill="#3c2a86"/>
<circle cx="32.9" cy="19.4" r="0.98" fill="#4a2680"/>
<circle cx="3.9" cy="24.2" r="1.02" fill="#2f2072"/>
<circle cx="35.3" cy="0.9" r="1.32" fill="#3c2a86"/>
<circle cx="26.5" cy="7.4" r="1.22" fill="#4a2680"/>
<circle cx="8.0" cy="23.6" r="1.01" fill="#2f2072"/>
<circle cx="14.7" cy="17.4" r="1.13" fill="#5a2a86"/>
<circle cx="18.5" cy="22.2" r="1.01" fill="#5a2a86"/>
<circle cx="12.5" cy="1.9" r="0.99" fill="#3c2a86"/>
<circle cx="15.2" cy="4.7" r="1.08" fill="#4a2680"/>
<circle cx="4.5" cy="15.8" r="1.06" fill="#5a2a86"/>
<circle cx="13.3" cy="9.3" r="1.02" fill="#5a2a86"/>
<circle cx="27.3" cy="1.8" r="1.00" fill="#2f2072"/>
<circle cx="24.3" cy="23.3" r="1.11" fill="#44308c"/>
<circle cx="12.0" cy="7.9" r="1.20" fill="#3c2a86"/>
<circle cx="17.3" cy="3.9" r="1.38" fill="#6a3090"/>
<circle cx="24.2" cy="0.5" r="1.32" fill="#44308c"/>
<circle cx="17.7" cy="23.5" r="0.99" fill="#3c2a86"/>
<circle cx="6.0" cy="12.4" r="0.97" fill="#7a3a94"/>
</g></svg>
<rect x="208.60" y="495.50" width="36.40" height="24.90" fill="#dcd8e4"/>
<rect x="208.60" y="495.50" width="36.40" height="24.90" fill="#000" filter="url(#kf)" opacity="0.25"/>
<svg x="208.60" y="495.50" width="36.40" height="24.90" viewBox="0 0 36.40 24.90" overflow="hidden"><g filter="url(#bb)">
<ellipse cx="3.64" cy="12.45" rx="3.64" ry="4.98" fill="#e6e2ea"/>
<ellipse cx="20.02" cy="13.69" rx="3.64" ry="2.99" fill="#e6e2ea"/>
<ellipse cx="32.76" cy="21.16" rx="3.64" ry="3.49" fill="#e6e2ea"/>
</g></svg>
<svg x="208.60" y="495.50" width="36.40" height="24.90" viewBox="0 0 36.40 24.90" overflow="hidden"><g filter="url(#bb)" opacity="0.92">
<circle cx="25.9" cy="22.4" r="1.05" fill="#a04490"/>
<circle cx="34.3" cy="20.4" r="1.07" fill="#5a2a86"/>
<circle cx="29.4" cy="20.0" r="1.15" fill="#44308c"/>
<circle cx="35.4" cy="9.1" r="1.30" fill="#5a2a86"/>
<circle cx="23.8" cy="17.2" r="1.48" fill="#a04490"/>
<circle cx="10.1" cy="12.1" r="1.12" fill="#a04490"/>
<circle cx="12.7" cy="20.3" r="1.14" fill="#a04490"/>
<circle cx="15.8" cy="0.9" r="1.47" fill="#7a3a94"/>
<circle cx="3.6" cy="4.5" r="1.48" fill="#4a2680"/>
<circle cx="16.1" cy="13.8" r="1.40" fill="#44308c"/>
<circle cx="18.1" cy="10.6" r="1.13" fill="#7a3a94"/>
<circle cx="11.7" cy="22.2" r="1.16" fill="#6a3090"/>
<circle cx="4.8" cy="6.7" r="1.12" fill="#5a2a86"/>
<circle cx="30.2" cy="23.7" r="1.49" fill="#4a2680"/>
<circle cx="34.7" cy="13.7" r="1.30" fill="#a04490"/>
<circle cx="14.0" cy="16.2" r="1.18" fill="#6a3090"/>
<circle cx="31.7" cy="16.4" r="1.12" fill="#6a3090"/>
<circle cx="21.6" cy="18.2" r="1.35" fill="#7a3a94"/>
<circle cx="2.4" cy="2.3" r="1.36" fill="#5a2a86"/>
<circle cx="26.1" cy="12.3" r="1.47" fill="#44308c"/>
<circle cx="20.0" cy="20.5" r="1.17" fill="#7a3a94"/>
<circle cx="8.2" cy="7.3" r="1.50" fill="#6a3090"/>
<circle cx="23.2" cy="1.7" r="1.47" fill="#5a2a86"/>
<circle cx="10.0" cy="1.0" r="1.62" fill="#7a3a94"/>
<circle cx="17.7" cy="7.1" r="1.14" fill="#6a3090"/>
<circle cx="30.9" cy="8.1" r="1.49" fill="#a04490"/>
<circle cx="27.8" cy="0.8" r="1.15" fill="#6a3090"/>
<circle cx="21.0" cy="13.8" r="1.40" fill="#a04490"/>
<circle cx="7.3" cy="16.6" r="1.18" fill="#7a3a94"/>
<circle cx="22.4" cy="22.1" r="1.23" fill="#a04490"/>
<circle cx="2.1" cy="21.4" r="1.21" fill="#4a2680"/>
<circle cx="32.5" cy="11.9" r="1.28" fill="#6a3090"/>
<circle cx="30.7" cy="2.8" r="1.55" fill="#5a2a86"/>
<circle cx="10.1" cy="19.3" r="1.60" fill="#a04490"/>
<circle cx="3.1" cy="15.7" r="1.30" fill="#a04490"/>
<circle cx="1.0" cy="14.9" r="1.09" fill="#5a2a86"/>
<circle cx="8.0" cy="21.3" r="1.61" fill="#a04490"/>
<circle cx="12.3" cy="18.0" r="1.57" fill="#44308c"/>
<circle cx="1.9" cy="24.7" r="1.61" fill="#5a2a86"/>
<circle cx="3.3" cy="10.0" r="1.57" fill="#44308c"/>
<circle cx="12.5" cy="4.1" r="1.38" fill="#44308c"/>
<circle cx="18.3" cy="4.8" r="1.59" fill="#a04490"/>
<circle cx="33.1" cy="23.7" r="1.12" fill="#6a3090"/>
<circle cx="4.2" cy="18.1" r="1.20" fill="#7a3a94"/>
<circle cx="3.6" cy="12.2" r="1.05" fill="#4a2680"/>
<circle cx="12.6" cy="9.7" r="1.10" fill="#44308c"/>
<circle cx="18.3" cy="1.0" r="1.43" fill="#5a2a86"/>
<circle cx="27.0" cy="5.5" r="1.22" fill="#5a2a86"/>
</g></svg>
<text x="36.00" y="535.30" font-size="4.9" fill="#2e2e2e" text-anchor="middle" stroke="#2e2e2e" stroke-width="0.06">Untreated</text>
<text x="36.10" y="541.20" font-size="5.25" fill="#2e2e2e" text-anchor="middle" stroke="#2e2e2e" stroke-width="0.06">B 1300404</text>
<text x="68.60" y="535.30" font-size="4.9" fill="#2e2e2e" text-anchor="middle" stroke="#2e2e2e" stroke-width="0.06">Untreated</text>
<text x="68.90" y="541.20" font-size="5.25" fill="#2e2e2e" text-anchor="middle" stroke="#2e2e2e" stroke-width="0.06">B07-00657</text>
<text x="101.40" y="535.30" font-size="4.9" fill="#2e2e2e" text-anchor="middle" stroke="#2e2e2e" stroke-width="0.06">Untreated</text>
<text x="101.60" y="541.20" font-size="5.25" fill="#2e2e2e" text-anchor="middle" stroke="#2e2e2e" stroke-width="0.06">B08-00351</text>
<text x="133.60" y="535.30" font-size="4.9" fill="#2e2e2e" text-anchor="middle" stroke="#2e2e2e" stroke-width="0.06">Untreated</text>
<text x="134.00" y="541.20" font-size="5.25" fill="#2e2e2e" text-anchor="middle" stroke="#2e2e2e" stroke-width="0.06">B18-00254</text>
<text x="166.20" y="535.30" font-size="4.9" fill="#2e2e2e" text-anchor="middle" stroke="#2e2e2e" stroke-width="0.06">Untreated</text>
<text x="166.90" y="541.20" font-size="5.25" fill="#2e2e2e" text-anchor="middle" stroke="#2e2e2e" stroke-width="0.06">B12-00666</text>
<text x="199.20" y="535.30" font-size="4.9" fill="#2e2e2e" text-anchor="middle" stroke="#2e2e2e" stroke-width="0.06">Untreated</text>
<text x="199.50" y="541.20" font-size="5.25" fill="#2e2e2e" text-anchor="middle" stroke="#2e2e2e" stroke-width="0.06">B03-00060</text>
<text x="231.60" y="535.30" font-size="4.9" fill="#2e2e2e" text-anchor="middle" stroke="#2e2e2e" stroke-width="0.06">Untreated</text>
<text x="231.60" y="541.20" font-size="5.25" fill="#2e2e2e" text-anchor="middle" stroke="#2e2e2e" stroke-width="0.06">B0900310</text>
<text x="12.50" y="574.00" font-size="6.4" fill="#d2305a" text-anchor="middle" transform="rotate(-90 12.50 574.00)" stroke="#d2305a" stroke-width="0.08" dy="2.1">EGFL7</text>
<text x="12.50" y="632.00" font-size="6.4" fill="#d2305a" text-anchor="middle" transform="rotate(-90 12.50 632.00)" stroke="#d2305a" stroke-width="0.08" dy="2.1">H&amp;E</text>
<rect x="19.00" y="544.60" width="227.80" height="114.60" fill="#fff" stroke="#d0d0d0" stroke-width="0.6"/>
<rect x="19.50" y="545.00" width="31.30" height="27.40" fill="#cbc8c3"/>
<rect x="19.50" y="545.00" width="31.30" height="27.40" fill="#000" filter="url(#gf)" opacity="0.3"/>
<rect x="19.50" y="545.00" width="31.30" height="27.40" fill="#000" filter="url(#bc)" opacity="0.4"/>
<rect x="19.50" y="545.00" width="31.30" height="27.40" fill="#000" filter="url(#vc)" opacity="0.35"/>
<rect x="19.50" y="545.00" width="31.30" height="27.40" fill="#000" filter="url(#bf)" opacity="0.2"/>
<svg x="19.50" y="545.00" width="31.30" height="27.40" viewBox="0 0 31.30 27.40" overflow="hidden"><g filter="url(#bb)">
<ellipse cx="10.95" cy="4.11" rx="4.38" ry="4.93" fill="#f4f4f2"/>
<ellipse cx="22.85" cy="2.74" rx="2.50" ry="2.74" fill="#f4f4f2"/>
<ellipse cx="22.54" cy="14.25" rx="3.76" ry="4.38" fill="#f4f4f2"/>
<ellipse cx="1.25" cy="15.07" rx="2.50" ry="3.29" fill="#f4f4f2"/>
<ellipse cx="15.65" cy="21.92" rx="3.13" ry="3.56" fill="#f4f4f2"/>
<ellipse cx="30.67" cy="13.70" rx="1.88" ry="4.38" fill="#f4f4f2"/>
</g></svg>
<rect x="52.40" y="545.00" width="30.90" height="27.40" fill="#cfcfcd"/>
<rect x="52.40" y="545.00" width="30.90" height="27.40" fill="#000" filter="url(#gf)" opacity="0.25"/>
<rect x="52.40" y="545.00" width="30.90" height="27.40" fill="#000" filter="url(#vc)" opacity="0.6"/>
<rect x="52.40" y="545.00" width="30.90" height="27.40" fill="#000" filter="url(#bd)" opacity="0.25"/>
<rect x="52.40" y="545.00" width="30.90" height="27.40" fill="#000" filter="url(#uf)" opacity="0.15"/>
<svg x="52.40" y="545.00" width="30.90" height="27.40" viewBox="0 0 30.90 27.40" overflow="hidden"><g filter="url(#bb)">
<ellipse cx="6.18" cy="15.07" rx="6.18" ry="10.96" fill="#d2d2cf"/>
<ellipse cx="26.26" cy="19.73" rx="4.63" ry="7.12" fill="#e0e0de"/>
<ellipse cx="23.17" cy="5.48" rx="3.71" ry="3.29" fill="#d4d4d2"/>
<ellipse cx="13.90" cy="12.33" rx="2.47" ry="3.29" fill="#4e5470" opacity="0.55"/>
<ellipse cx="3.09" cy="2.74" rx="2.16" ry="2.19" fill="#5a5a66" opacity="0.5"/>
</g></svg>
<rect x="85.00" y="545.00" width="31.30" height="27.40" fill="#cdcdce"/>
<rect x="85.00" y="545.00" width="31.30" height="27.40" fill="#000" filter="url(#gf)" opacity="0.4"/>
<rect x="85.00" y="545.00" width="31.30" height="27.40" fill="#000" filter="url(#vc)" opacity="0.9"/>
<rect x="85.00" y="545.00" width="31.30" height="27.40" fill="#000" filter="url(#uf)" opacity="0.25"/>
<rect x="85.00" y="545.00" width="31.30" height="27.40" fill="#000" filter="url(#bd)" opacity="0.3"/>
<svg x="85.00" y="545.00" width="31.30" height="27.40" viewBox="0 0 31.30 27.40" overflow="hidden"><g filter="url(#bb)">
<ellipse cx="9.39" cy="16.44" rx="5.01" ry="4.38" fill="#dcdcda"/>
<ellipse cx="3.13" cy="10.96" rx="2.50" ry="2.74" fill="#d6d6d4"/>
<ellipse cx="17.21" cy="23.29" rx="3.76" ry="2.74" fill="#d6d6d4"/>
</g></svg>
<rect x="118.00" y="545.00" width="30.80" height="27.40" fill="#d0ccc5"/>
<rect x="118.00" y="545.00" width="30.80" height="27.40" fill="#000" filter="url(#bf)" opacity="0.35"/>
<rect x="118.00" y="545.00" width="30.80" height="27.40" fill="#000" filter="url(#bc)" opacity="0.3"/>
<rect x="118.00" y="545.00" width="30.80" height="27.40" fill="#000" filter="url(#uf)" opacity="0.2"/>
<rect x="118.00" y="545.00" width="30.80" height="27.40" fill="#000" filter="url(#bm)" opacity="0.15"/>
<svg x="118.00" y="545.00" width="30.80" height="27.40" viewBox="0 0 30.80 27.40" overflow="hidden"><g filter="url(#bb)">
<ellipse cx="7.70" cy="8.22" rx="6.16" ry="7.12" fill="#dfdfd9"/>
<ellipse cx="21.56" cy="3.56" rx="4.93" ry="4.38" fill="#dfdfd9"/>
<ellipse cx="17.25" cy="18.08" rx="6.16" ry="6.30" fill="#dfdfd9"/>
<ellipse cx="28.95" cy="20.82" rx="3.08" ry="5.48" fill="#dfdfd9"/>
<ellipse cx="1.54" cy="21.92" rx="3.08" ry="4.93" fill="#dad8d0"/>
<ellipse cx="29.26" cy="8.22" rx="1.85" ry="2.74" fill="#dad8d0"/>
</g></svg>
<rect x="150.70" y="545.00" width="31.30" height="27.40" fill="#bcb9bf"/>
<rect x="150.70" y="545.00" width="31.30" height="27.40" fill="#000" filter="url(#gf)" opacity="0.45"/>
<rect x="150.70" y="545.00" width="31.30" height="27.40" fill="#000" filter="url(#uf)" opacity="0.35"/>
<rect x="150.70" y="545.00" width="31.30" height="27.40" fill="#000" filter="url(#bf)" opacity="0.3"/>
<svg x="150.70" y="545.00" width="31.30" height="27.40" viewBox="0 0 31.30 27.40" overflow="hidden"><g filter="url(#bb)">
<ellipse cx="16.28" cy="14.25" rx="3.13" ry="3.84" fill="#dddcd8"/>
<ellipse cx="28.80" cy="2.74" rx="2.50" ry="2.74" fill="#d8d8d8"/>
</g></svg>
<rect x="183.30" y="545.00" width="31.00" height="27.40" fill="#d9d7d1"/>
<rect x="183.30" y="545.00" width="31.00" height="27.40" fill="#000" filter="url(#bc)" opacity="0.4"/>
<rect x="183.30" y="545.00" width="31.00" height="27.40" fill="#000" filter="url(#bd)" opacity="0.2"/>
<rect x="183.30" y="545.00" width="31.00" height="27.40" fill="#000" filter="url(#gf)" opacity="0.2"/>
<svg x="183.30" y="545.00" width="31.00" height="27.40" viewBox="0 0 31.00 27.40" overflow="hidden"><g filter="url(#bb)">
<ellipse cx="9.30" cy="5.48" rx="4.03" ry="4.38" fill="#dcdad4"/>
<ellipse cx="26.66" cy="20.82" rx="3.10" ry="4.11" fill="#dcdad4"/>
<ellipse cx="18.60" cy="12.33" rx="3.10" ry="2.74" fill="#d8d6ce"/>
</g></svg>
<rect x="215.70" y="545.00" width="30.60" height="27.40" fill="#d4d1c9"/>
<rect x="215.70" y="545.00" width="30.60" height="27.40" fill="#000" filter="url(#bc)" opacity="0.55"/>
<rect x="215.70" y="545.00" width="30.60" height="27.40" fill="#000" filter="url(#bd)" opacity="0.3"/>
<rect x="215.70" y="545.00" width="30.60" height="27.40" fill="#000" filter="url(#gf)" opacity="0.3"/>
<svg x="215.70" y="545.00" width="30.60" height="27.40" viewBox="0 0 30.60 27.40" overflow="hidden"><g filter="url(#bb)">
<ellipse cx="3.67" cy="4.11" rx="3.06" ry="3.29" fill="#dedbd4"/>
<ellipse cx="24.48" cy="15.07" rx="2.45" ry="2.74" fill="#dedbd4"/>
</g></svg>
<rect x="19.50" y="573.90" width="31.30" height="27.30" fill="#d0cdce"/>
<rect x="19.50" y="573.90" width="31.30" height="27.30" fill="#000" filter="url(#bf)" opacity="0.28"/>
<rect x="19.50" y="573.90" width="31.30" height="27.30" fill="#000" filter="url(#uc)" opacity="0.3"/>
<rect x="19.50" y="573.90" width="31.30" height="27.30" fill="#000" filter="url(#bm)" opacity="0.12"/>
<svg x="19.50" y="573.90" width="31.30" height="27.30" viewBox="0 0 31.30 27.30" overflow="hidden"><g filter="url(#bb)">
<ellipse cx="3.13" cy="3.28" rx="9.39" ry="8.19" fill="#dcdce2"/>
<ellipse cx="28.80" cy="21.84" rx="7.82" ry="11.47" fill="#e4e4e8"/>
<ellipse cx="28.80" cy="2.18" rx="4.69" ry="3.82" fill="#dcdce2"/>
<ellipse cx="1.56" cy="25.94" rx="3.76" ry="3.28" fill="#dcdce2"/>
<ellipse cx="6.89" cy="21.29" rx="1.56" ry="1.91" fill="#eee"/>
</g></svg>
<rect x="52.40" y="573.90" width="30.90" height="27.30" fill="#cccede"/>
<rect x="52.40" y="573.90" width="30.90" height="27.30" fill="#000" filter="url(#uc)" opacity="0.7"/>
<rect x="52.40" y="573.90" width="30.90" height="27.30" fill="#000" filter="url(#bf)" opacity="0.2"/>
<svg x="52.40" y="573.90" width="30.90" height="27.30" viewBox="0 0 30.90 27.30" overflow="hidden"><g filter="url(#bb)">
<ellipse cx="7.72" cy="15.02" rx="7.11" ry="13.65" fill="#dddee8"/>
<ellipse cx="3.09" cy="2.73" rx="6.18" ry="5.46" fill="#dddee8"/>
<ellipse cx="27.81" cy="16.38" rx="2.47" ry="3.28" fill="#dddee8"/>
</g></svg>
<rect x="85.00" y="573.90" width="31.30" height="27.30" fill="#cacada"/>
<rect x="85.00" y="573.90" width="31.30" height="27.30" fill="#000" filter="url(#uc)" opacity="0.6"/>
<rect x="85.00" y="573.90" width="31.30" height="27.30" fill="#000" filter="url(#bf)" opacity="0.2"/>
<svg x="85.00" y="573.90" width="31.30" height="27.30" viewBox="0 0 31.30 27.30" overflow="hidden"><g filter="url(#bb)">
<ellipse cx="9.39" cy="12.29" rx="8.14" ry="8.74" fill="#e2e2ea"/>
<ellipse cx="8.45" cy="13.65" rx="2.19" ry="2.46" fill="#5666b4"/>
<ellipse cx="3.13" cy="24.57" rx="3.13" ry="2.73" fill="#dcdce6"/>
</g></svg>
<rect x="118.00" y="573.90" width="30.80" height="27.30" fill="#bdbdc2"/>
<rect x="118.00" y="573.90" width="30.80" height="27.30" fill="#000" filter="url(#uc)" opacity="0.45"/>
<rect x="118.00" y="573.90" width="30.80" height="27.30" fill="#000" filter="url(#bm)" opacity="0.2"/>
<rect x="118.00" y="573.90" width="30.80" height="27.30" fill="#000" filter="url(#bf)" opacity="0.2"/>
<svg x="118.00" y="573.90" width="30.80" height="27.30" viewBox="0 0 30.80 27.30" overflow="hidden"><g filter="url(#bb)">
<ellipse cx="15.40" cy="0.55" rx="9.86" ry="7.37" fill="#dcdedc"/>
<ellipse cx="15.40" cy="27.85" rx="9.86" ry="8.74" fill="#dcdedc"/>
<ellipse cx="0.00" cy="12.29" rx="4.00" ry="8.19" fill="#dcdedc"/>
<ellipse cx="30.80" cy="13.65" rx="4.00" ry="8.19" fill="#dcdedc"/>
</g></svg>
<rect x="150.70" y="573.90" width="31.30" height="27.30" fill="#cfccca"/>
<rect x="150.70" y="573.90" width="31.30" height="27.30" fill="#000" filter="url(#uc)" opacity="0.3"/>
<rect x="150.70" y="573.90" width="31.30" height="27.30" fill="#000" filter="url(#bf)" opacity="0.3"/>
<rect x="150.70" y="573.90" width="31.30" height="27.30" fill="#000" filter="url(#bm)" opacity="0.1"/>
<svg x="150.70" y="573.90" width="31.30" height="27.30" viewBox="0 0 31.30 27.30" overflow="hidden"><g filter="url(#bb)">
<ellipse cx="6.26" cy="15.02" rx="6.26" ry="9.83" fill="#deddd8"/>
<ellipse cx="1.57" cy="2.73" rx="3.13" ry="3.28" fill="#d4d2cc"/>
</g></svg>
<rect x="183.30" y="573.90" width="31.00" height="27.30" fill="#d0d2ce"/>
<rect x="183.30" y="573.90" width="31.00" height="27.30" fill="#000" filter="url(#gf)" opacity="0.08"/>
<svg x="183.30" y="573.90" width="31.00" height="27.30" viewBox="0 0 31.00 27.30" overflow="hidden"><g filter="url(#bb)">
<ellipse cx="25.42" cy="4.91" rx="0.93" ry="1.09" fill="#4a3826"/>
<ellipse cx="27.90" cy="8.19" rx="0.93" ry="1.09" fill="#4a3826"/>
<ellipse cx="24.80" cy="11.47" rx="0.93" ry="1.09" fill="#4a3826"/>
<ellipse cx="27.90" cy="15.02" rx="0.93" ry="1.09" fill="#4a3826"/>
<ellipse cx="23.25" cy="16.93" rx="0.93" ry="1.09" fill="#4a3826"/>
<ellipse cx="12.40" cy="21.29" rx="0.93" ry="1.09" fill="#4a3826"/>
<ellipse cx="15.50" cy="24.02" rx="0.93" ry="1.09" fill="#4a3826"/>
<ellipse cx="9.30" cy="24.57" rx="0.93" ry="1.09" fill="#4a3826"/>
<ellipse cx="3.72" cy="8.19" rx="0.78" ry="0.96" fill="#4a3826"/>
<ellipse cx="18.60" cy="20.48" rx="0.78" ry="0.96" fill="#4a3826"/>
<ellipse cx="2.48" cy="2.18" rx="0.93" ry="1.09" fill="#5a4836"/>
</g></svg>
<rect x="215.70" y="573.90" width="30.60" height="27.30" fill="#bcb0be"/>
<rect x="215.70" y="573.90" width="30.60" height="27.30" fill="#000" filter="url(#uc)" opacity="0.25"/>
<rect x="215.70" y="573.90" width="30.60" height="27.30" fill="#000" filter="url(#bf)" opacity="0.3"/>
<rect x="215.70" y="573.90" width="30.60" height="27.30" fill="#000" filter="url(#wf)" opacity="0.3"/>
<svg x="215.70" y="573.90" width="30.60" height="27.30" viewBox="0 0 30.60 27.30" overflow="hidden"><g filter="url(#bb)">
<ellipse cx="6.12" cy="22.39" rx="3.06" ry="3.28" fill="#dcd8dc"/>
<ellipse cx="12.85" cy="25.12" rx="2.45" ry="2.73" fill="#dcd8dc"/>
<ellipse cx="2.45" cy="3.28" rx="3.06" ry="2.73" fill="#d6d4d4"/>
</g></svg>
<line x1="19.00" y1="602.50" x2="246.80" y2="602.50" stroke="#9a9a9a" stroke-width="1.3"/>
<rect x="19.50" y="603.60" width="31.30" height="26.30" fill="#6e48a2"/>
<rect x="19.50" y="603.60" width="31.30" height="26.30" fill="#000" filter="url(#pf)" opacity="0.75"/>
<rect x="19.50" y="603.60" width="31.30" height="26.30" fill="#000" filter="url(#wf)" opacity="0.3"/>
<rect x="52.40" y="603.60" width="30.90" height="26.30" fill="#964c9c"/>
<rect x="52.40" y="603.60" width="30.90" height="26.30" fill="#000" filter="url(#pf)" opacity="0.55"/>
<rect x="52.40" y="603.60" width="30.90" height="26.30" fill="#000" filter="url(#kf)" opacity="0.35"/>
<rect x="52.40" y="603.60" width="30.90" height="26.30" fill="#000" filter="url(#wf)" opacity="0.14"/>
<svg x="52.40" y="603.60" width="30.90" height="26.30" viewBox="0 0 30.90 26.30" overflow="hidden"><g filter="url(#bb)">
<ellipse cx="7.72" cy="1.05" rx="3.09" ry="2.89" fill="#f4f4f2"/>
<ellipse cx="17.92" cy="1.84" rx="3.09" ry="2.89" fill="#f4f4f2"/>
<ellipse cx="1.24" cy="13.15" rx="2.47" ry="4.21" fill="#f4f4f2"/>
<ellipse cx="7.72" cy="13.15" rx="1.85" ry="2.10" fill="#f4f4f2"/>
<ellipse cx="3.71" cy="21.04" rx="2.78" ry="3.16" fill="#f4f4f2"/>
<ellipse cx="26.57" cy="14.73" rx="3.71" ry="3.94" fill="#f4f4f2"/>
<ellipse cx="22.56" cy="22.88" rx="4.33" ry="4.73" fill="#f4f4f2"/>
</g></svg>
<rect x="85.00" y="603.60" width="31.30" height="26.30" fill="#9452a0"/>
<rect x="85.00" y="603.60" width="31.30" height="26.30" fill="#000" filter="url(#pf)" opacity="0.55"/>
<rect x="85.00" y="603.60" width="31.30" height="26.30" fill="#000" filter="url(#kf)" opacity="0.4"/>
<rect x="85.00" y="603.60" width="31.30" height="26.30" fill="#000" filter="url(#wf)" opacity="0.14"/>
<svg x="85.00" y="603.60" width="31.30" height="26.30" viewBox="0 0 31.30 26.30" overflow="hidden"><g filter="url(#bb)">
<ellipse cx="26.60" cy="5.26" rx="3.13" ry="3.68" fill="#f4f4f2"/>
<ellipse cx="10.95" cy="11.83" rx="2.19" ry="2.63" fill="#f4f4f2"/>
<ellipse cx="7.82" cy="16.31" rx="1.56" ry="1.58" fill="#f4f4f2"/>
</g></svg>
<rect x="118.00" y="603.60" width="30.80" height="26.30" fill="#70469c"/>
<rect x="118.00" y="603.60" width="30.80" height="26.30" fill="#000" filter="url(#pf)" opacity="0.6"/>
<rect x="118.00" y="603.60" width="30.80" height="26.30" fill="#000" filter="url(#kf)" opacity="0.2"/>
<rect x="118.00" y="603.60" width="30.80" height="26.30" fill="#000" filter="url(#wf)" opacity="0.14"/>
<svg x="118.00" y="603.60" width="30.80" height="26.30" viewBox="0 0 30.80 26.30" overflow="hidden"><g filter="url(#bb)">
<ellipse cx="2.46" cy="18.41" rx="4.31" ry="7.89" fill="#d06480" opacity="0.75"/>
<ellipse cx="10.78" cy="22.62" rx="5.24" ry="3.94" fill="#f4f4f2"/>
<ellipse cx="15.40" cy="0.00" rx="4.00" ry="1.84" fill="#f4f4f2"/>
<ellipse cx="29.26" cy="2.63" rx="3.08" ry="2.63" fill="#c478ac"/>
</g></svg>
<rect x="150.70" y="603.60" width="31.30" height="26.30" fill="#94449a"/>
<rect x="150.70" y="603.60" width="31.30" height="26.30" fill="#000" filter="url(#pf)" opacity="0.55"/>
<rect x="150.70" y="603.60" width="31.30" height="26.30" fill="#000" filter="url(#rf)" opacity="0.45"/>
<rect x="150.70" y="603.60" width="31.30" height="26.30" fill="#000" filter="url(#kf)" opacity="0.2"/>
<rect x="150.70" y="603.60" width="31.30" height="26.30" fill="#000" filter="url(#wf)" opacity="0.14"/>
<svg x="150.70" y="603.60" width="31.30" height="26.30" viewBox="0 0 31.30 26.30" overflow="hidden"><g filter="url(#bb)">
<ellipse cx="30.67" cy="11.05" rx="3.13" ry="5.26" fill="#f4f4f2"/>
</g></svg>
<rect x="183.30" y="603.60" width="31.00" height="26.30" fill="#a890c2"/>
<rect x="183.30" y="603.60" width="31.00" height="26.30" fill="#000" filter="url(#pf)" opacity="0.5"/>
<rect x="183.30" y="603.60" width="31.00" height="26.30" fill="#000" filter="url(#wf)" opacity="0.14"/>
<svg x="183.30" y="603.60" width="31.00" height="26.30" viewBox="0 0 31.00 26.30" overflow="hidden"><g filter="url(#bb)">
<ellipse cx="15.50" cy="3.94" rx="6.20" ry="3.94" fill="#e4e0e8"/>
<ellipse cx="26.35" cy="6.57" rx="3.72" ry="5.26" fill="#e4e0e8"/>
<ellipse cx="21.70" cy="17.09" rx="6.20" ry="5.79" fill="#e4e0e8"/>
<ellipse cx="3.72" cy="5.26" rx="3.10" ry="3.94" fill="#e4e0e8"/>
<ellipse cx="10.85" cy="23.67" rx="3.72" ry="2.63" fill="#e4e0e8"/>
<ellipse cx="29.45" cy="22.35" rx="3.10" ry="3.94" fill="#e4e0e8"/>
</g></svg>
<rect x="215.70" y="603.60" width="30.60" height="26.30" fill="#7c4aa4"/>
<rect x="215.70" y="603.60" width="30.60" height="26.30" fill="#000" filter="url(#pf)" opacity="0.65"/>
<rect x="215.70" y="603.60" width="30.60" height="26.30" fill="#000" filter="url(#kf)" opacity="0.2"/>
<rect x="215.70" y="603.60" width="30.60" height="26.30" fill="#000" filter="url(#wf)" opacity="0.14"/>
<rect x="19.50" y="631.70" width="31.30" height="27.10" fill="#a890cc"/>
<rect x="19.50" y="631.70" width="31.30" height="27.10" fill="#000" filter="url(#wc)" opacity="0.55"/>
<svg x="19.50" y="631.70" width="31.30" height="27.10" viewBox="0 0 31.30 27.10" overflow="hidden"><g filter="url(#bb)">
<ellipse cx="1.56" cy="2.17" rx="4.07" ry="3.25" fill="#f4f4f2"/>
</g></svg>
<svg x="19.50" y="631.70" width="31.30" height="27.10" viewBox="0 0 31.30 27.10" overflow="hidden"><g filter="url(#bb)" opacity="0.92">
<circle cx="2.1" cy="8.8" r="0.80" fill="#44308c"/>
<circle cx="8.9" cy="20.4" r="1.11" fill="#35247c"/>
<circle cx="14.7" cy="20.4" r="1.00" fill="#44308c"/>
<circle cx="27.1" cy="16.5" r="0.86" fill="#2f2072"/>
<circle cx="17.7" cy="12.9" r="1.04" fill="#44308c"/>
<circle cx="6.7" cy="18.8" r="0.88" fill="#35247c"/>
<circle cx="9.4" cy="6.5" r="0.92" fill="#2f2072"/>
<circle cx="5.7" cy="20.4" r="1.10" fill="#35247c"/>
<circle cx="1.0" cy="15.6" r="0.84" fill="#3c2a86"/>
<circle cx="20.1" cy="11.0" r="1.04" fill="#3c2a86"/>
<circle cx="23.8" cy="21.1" r="1.11" fill="#35247c"/>
<circle cx="9.2" cy="2.6" r="1.06" fill="#35247c"/>
<circle cx="16.7" cy="24.2" r="1.20" fill="#44308c"/>
<circle cx="5.9" cy="11.1" r="1.12" fill="#44308c"/>
<circle cx="13.1" cy="26.2" r="0.81" fill="#35247c"/>
<circle cx="12.9" cy="22.8" r="1.23" fill="#35247c"/>
<circle cx="15.8" cy="6.8" r="1.07" fill="#2f2072"/>
<circle cx="10.0" cy="18.9" r="0.95" fill="#2f2072"/>
<circle cx="6.0" cy="15.9" r="1.15" fill="#2f2072"/>
<circle cx="15.3" cy="16.1" r="1.06" fill="#3c2a86"/>
<circle cx="16.4" cy="0.2" r="0.97" fill="#3c2a86"/>
<circle cx="27.3" cy="13.9" r="1.15" fill="#3c2a86"/>
<circle cx="29.9" cy="1.0" r="1.13" fill="#2f2072"/>
<circle cx="15.4" cy="12.5" r="1.19" fill="#3c2a86"/>
<circle cx="11.1" cy="21.3" r="0.99" fill="#44308c"/>
<circle cx="29.5" cy="26.5" r="0.87" fill="#44308c"/>
<circle cx="25.6" cy="3.1" r="0.95" fill="#35247c"/>
<circle cx="27.7" cy="11.8" r="0.81" fill="#35247c"/>
<circle cx="0.1" cy="26.7" r="1.19" fill="#44308c"/>
<circle cx="30.2" cy="9.2" r="0.94" fill="#3c2a86"/>
<circle cx="21.5" cy="1.3" r="1.07" fill="#2f2072"/>
<circle cx="4.8" cy="5.1" r="1.14" fill="#3c2a86"/>
<circle cx="7.4" cy="26.8" r="1.10" fill="#35247c"/>
<circle cx="18.8" cy="17.4" r="0.91" fill="#3c2a86"/>
<circle cx="12.1" cy="4.5" r="0.96" fill="#44308c"/>
<circle cx="20.0" cy="8.4" r="1.16" fill="#3c2a86"/>
<circle cx="14.9" cy="25.2" r="0.81" fill="#35247c"/>
<circle cx="27.8" cy="19.2" r="0.97" fill="#3c2a86"/>
<circle cx="22.0" cy="18.0" r="1.04" fill="#35247c"/>
<circle cx="15.2" cy="2.9" r="0.93" fill="#44308c"/>
<circle cx="0.8" cy="6.1" r="1.05" fill="#2f2072"/>
<circle cx="25.2" cy="0.4" r="0.93" fill="#2f2072"/>
<circle cx="26.8" cy="8.1" r="1.11" fill="#35247c"/>
<circle cx="23.9" cy="18.8" r="1.00" fill="#2f2072"/>
<circle cx="9.8" cy="14.2" r="0.96" fill="#3c2a86"/>
<circle cx="9.6" cy="10.1" r="0.83" fill="#2f2072"/>
<circle cx="17.2" cy="26.3" r="0.87" fill="#2f2072"/>
<circle cx="17.9" cy="21.4" r="0.91" fill="#3c2a86"/>
<circle cx="23.1" cy="8.5" r="0.91" fill="#3c2a86"/>
<circle cx="9.9" cy="23.5" r="1.11" fill="#2f2072"/>
<circle cx="12.1" cy="19.4" r="1.21" fill="#35247c"/>
<circle cx="22.7" cy="3.7" r="0.87" fill="#44308c"/>
<circle cx="11.7" cy="16.7" r="1.06" fill="#3c2a86"/>
<circle cx="16.9" cy="4.0" r="1.09" fill="#44308c"/>
<circle cx="26.6" cy="20.3" r="0.88" fill="#3c2a86"/>
<circle cx="1.5" cy="12.6" r="0.91" fill="#2f2072"/>
<circle cx="30.8" cy="11.5" r="0.92" fill="#3c2a86"/>
<circle cx="26.7" cy="25.9" r="0.96" fill="#3c2a86"/>
<circle cx="9.1" cy="8.7" r="0.82" fill="#35247c"/>
<circle cx="25.6" cy="10.5" r="1.06" fill="#2f2072"/>
<circle cx="7.8" cy="0.1" r="0.90" fill="#2f2072"/>
<circle cx="2.2" cy="10.6" r="0.91" fill="#3c2a86"/>
<circle cx="6.7" cy="8.0" r="0.90" fill="#35247c"/>
<circle cx="19.4" cy="1.1" r="1.06" fill="#2f2072"/>
<circle cx="12.8" cy="20.9" r="0.84" fill="#44308c"/>
<circle cx="7.7" cy="13.4" r="1.01" fill="#3c2a86"/>
<circle cx="3.4" cy="17.0" r="1.05" fill="#3c2a86"/>
<circle cx="8.5" cy="17.4" r="1.01" fill="#44308c"/>
<circle cx="29.2" cy="24.5" r="0.88" fill="#2f2072"/>
<circle cx="30.6" cy="4.9" r="1.08" fill="#2f2072"/>
<circle cx="22.4" cy="15.0" r="1.15" fill="#2f2072"/>
<circle cx="25.4" cy="24.1" r="1.11" fill="#35247c"/>
<circle cx="1.5" cy="19.2" r="1.02" fill="#2f2072"/>
<circle cx="29.4" cy="20.6" r="1.00" fill="#3c2a86"/>
<circle cx="23.8" cy="4.9" r="0.86" fill="#2f2072"/>
<circle cx="4.8" cy="14.0" r="0.83" fill="#44308c"/>
<circle cx="29.7" cy="12.4" r="0.84" fill="#2f2072"/>
<circle cx="3.4" cy="15.0" r="0.99" fill="#2f2072"/>
<circle cx="21.2" cy="20.5" r="1.07" fill="#35247c"/>
<circle cx="17.3" cy="10.0" r="0.93" fill="#2f2072"/>
<circle cx="1.5" cy="21.6" r="0.95" fill="#44308c"/>
<circle cx="11.3" cy="11.2" r="1.14" fill="#3c2a86"/>
<circle cx="13.0" cy="0.7" r="1.01" fill="#2f2072"/>
<circle cx="3.8" cy="9.3" r="0.82" fill="#44308c"/>
<circle cx="14.1" cy="10.6" r="0.99" fill="#2f2072"/>
<circle cx="18.2" cy="6.5" r="0.82" fill="#35247c"/>
<circle cx="19.9" cy="13.8" r="1.18" fill="#2f2072"/>
<circle cx="21.2" cy="24.3" r="1.02" fill="#2f2072"/>
<circle cx="3.8" cy="25.8" r="0.95" fill="#2f2072"/>
<circle cx="10.8" cy="7.1" r="0.94" fill="#35247c"/>
<circle cx="20.0" cy="18.8" r="0.93" fill="#3c2a86"/>
<circle cx="24.6" cy="15.2" r="1.08" fill="#3c2a86"/>
<circle cx="31.1" cy="20.9" r="0.89" fill="#44308c"/>
<circle cx="31.0" cy="7.1" r="1.05" fill="#3c2a86"/>
<circle cx="17.2" cy="17.4" r="1.03" fill="#2f2072"/>
<circle cx="16.8" cy="15.5" r="0.82" fill="#2f2072"/>
<circle cx="1.0" cy="24.3" r="0.84" fill="#35247c"/>
<circle cx="11.4" cy="0.8" r="0.86" fill="#3c2a86"/>
<circle cx="10.8" cy="3.9" r="0.84" fill="#44308c"/>
<circle cx="0.4" cy="8.4" r="1.12" fill="#44308c"/>
<circle cx="3.9" cy="21.5" r="0.89" fill="#2f2072"/>
<circle cx="18.2" cy="15.0" r="0.81" fill="#2f2072"/>
<circle cx="2.1" cy="26.5" r="1.16" fill="#44308c"/>
<circle cx="3.8" cy="11.6" r="0.97" fill="#44308c"/>
<circle cx="7.3" cy="21.3" r="1.14" fill="#3c2a86"/>
<circle cx="30.2" cy="18.9" r="1.08" fill="#2f2072"/>
<circle cx="18.2" cy="8.4" r="0.96" fill="#35247c"/>
<circle cx="14.2" cy="17.4" r="0.98" fill="#44308c"/>
<circle cx="2.7" cy="7.1" r="1.04" fill="#2f2072"/>
<circle cx="13.1" cy="2.5" r="0.85" fill="#35247c"/>
<circle cx="23.8" cy="13.6" r="1.03" fill="#35247c"/>
<circle cx="19.6" cy="3.8" r="1.17" fill="#3c2a86"/>
<circle cx="31.0" cy="14.2" r="0.95" fill="#44308c"/>
<circle cx="26.9" cy="22.9" r="0.94" fill="#3c2a86"/>
<circle cx="22.4" cy="12.0" r="1.01" fill="#35247c"/>
<circle cx="16.3" cy="19.2" r="1.14" fill="#44308c"/>
<circle cx="27.7" cy="1.7" r="0.91" fill="#2f2072"/>
<circle cx="20.3" cy="21.8" r="0.92" fill="#44308c"/>
<circle cx="24.7" cy="25.7" r="0.95" fill="#35247c"/>
<circle cx="22.8" cy="10.0" r="0.95" fill="#35247c"/>
</g></svg>
<rect x="52.40" y="631.70" width="30.90" height="27.10" fill="#c88cc2"/>
<rect x="52.40" y="631.70" width="30.90" height="27.10" fill="#000" filter="url(#kf)" opacity="0.3"/>
<rect x="52.40" y="631.70" width="30.90" height="27.10" fill="#000" filter="url(#pc)" opacity="0.15"/>
<svg x="52.40" y="631.70" width="30.90" height="27.10" viewBox="0 0 30.90 27.10" overflow="hidden"><g filter="url(#bb)">
<ellipse cx="19.16" cy="6.77" rx="3.09" ry="5.42" fill="#dfaace"/>
</g></svg>
<svg x="52.40" y="631.70" width="30.90" height="27.10" viewBox="0 0 30.90 27.10" overflow="hidden"><g filter="url(#bb)" opacity="0.92">
<circle cx="23.6" cy="17.5" r="1.03" fill="#44308c"/>
<circle cx="6.1" cy="18.3" r="1.30" fill="#44308c"/>
<circle cx="13.2" cy="23.1" r="0.86" fill="#44308c"/>
<circle cx="15.3" cy="16.6" r="1.24" fill="#3c2a86"/>
<circle cx="16.2" cy="23.5" r="0.99" fill="#3c2a86"/>
<circle cx="4.0" cy="12.6" r="1.18" fill="#3c2a86"/>
<circle cx="21.9" cy="1.0" r="0.96" fill="#44308c"/>
<circle cx="7.9" cy="12.8" r="1.25" fill="#3c2a86"/>
<circle cx="8.4" cy="1.2" r="1.26" fill="#44308c"/>
<circle cx="26.9" cy="20.9" r="0.86" fill="#35247c"/>
<circle cx="8.1" cy="4.8" r="1.27" fill="#44308c"/>
<circle cx="3.9" cy="3.5" r="0.94" fill="#3c2a86"/>
<circle cx="24.4" cy="5.4" r="1.30" fill="#35247c"/>
<circle cx="9.5" cy="17.6" r="0.93" fill="#3c2a86"/>
<circle cx="9.0" cy="23.5" r="1.31" fill="#2f2072"/>
<circle cx="7.5" cy="9.5" r="0.87" fill="#35247c"/>
<circle cx="6.0" cy="10.4" r="1.09" fill="#44308c"/>
<circle cx="4.9" cy="15.1" r="1.00" fill="#2f2072"/>
<circle cx="10.7" cy="26.4" r="1.12" fill="#35247c"/>
<circle cx="0.5" cy="25.9" r="1.30" fill="#2f2072"/>
<circle cx="28.4" cy="4.6" r="1.25" fill="#2f2072"/>
<circle cx="20.9" cy="26.0" r="0.98" fill="#35247c"/>
<circle cx="1.7" cy="0.4" r="1.00" fill="#35247c"/>
<circle cx="20.1" cy="12.6" r="1.13" fill="#2f2072"/>
<circle cx="0.8" cy="2.7" r="1.11" fill="#44308c"/>
<circle cx="4.8" cy="0.3" r="0.87" fill="#3c2a86"/>
<circle cx="0.2" cy="5.3" r="1.16" fill="#2f2072"/>
<circle cx="1.1" cy="14.6" r="1.20" fill="#44308c"/>
<circle cx="15.4" cy="21.3" r="0.95" fill="#44308c"/>
<circle cx="7.2" cy="15.0" r="0.85" fill="#35247c"/>
<circle cx="12.9" cy="25.5" r="1.15" fill="#44308c"/>
<circle cx="15.7" cy="10.2" r="1.25" fill="#44308c"/>
<circle cx="17.4" cy="13.2" r="1.02" fill="#3c2a86"/>
<circle cx="4.7" cy="5.2" r="1.12" fill="#2f2072"/>
<circle cx="11.9" cy="15.0" r="0.96" fill="#44308c"/>
<circle cx="29.7" cy="17.2" r="0.98" fill="#3c2a86"/>
<circle cx="21.6" cy="23.8" r="1.22" fill="#35247c"/>
<circle cx="11.4" cy="11.3" r="1.06" fill="#35247c"/>
<circle cx="24.3" cy="9.2" r="1.30" fill="#35247c"/>
<circle cx="22.8" cy="15.7" r="0.95" fill="#35247c"/>
<circle cx="28.4" cy="12.0" r="1.17" fill="#35247c"/>
<circle cx="21.4" cy="22.0" r="0.98" fill="#35247c"/>
<circle cx="6.2" cy="26.1" r="0.91" fill="#2f2072"/>
<circle cx="30.9" cy="10.7" r="0.85" fill="#44308c"/>
<circle cx="9.3" cy="20.8" r="1.03" fill="#3c2a86"/>
<circle cx="8.8" cy="15.0" r="0.99" fill="#44308c"/>
<circle cx="28.4" cy="20.1" r="0.97" fill="#3c2a86"/>
<circle cx="26.3" cy="17.0" r="1.25" fill="#2f2072"/>
<circle cx="16.2" cy="19.4" r="1.13" fill="#35247c"/>
<circle cx="10.3" cy="5.4" r="1.13" fill="#35247c"/>
<circle cx="18.2" cy="14.7" r="0.93" fill="#3c2a86"/>
<circle cx="29.5" cy="22.5" r="0.94" fill="#3c2a86"/>
<circle cx="1.3" cy="6.7" r="1.12" fill="#3c2a86"/>
<circle cx="15.0" cy="0.1" r="1.29" fill="#2f2072"/>
<circle cx="2.1" cy="22.7" r="1.07" fill="#3c2a86"/>
<circle cx="24.7" cy="21.9" r="1.17" fill="#2f2072"/>
<circle cx="19.8" cy="17.6" r="0.85" fill="#3c2a86"/>
<circle cx="26.5" cy="23.9" r="1.24" fill="#35247c"/>
<circle cx="16.2" cy="26.8" r="1.06" fill="#44308c"/>
<circle cx="19.3" cy="23.7" r="0.90" fill="#35247c"/>
<circle cx="2.0" cy="24.7" r="0.92" fill="#3c2a86"/>
<circle cx="26.6" cy="9.5" r="1.09" fill="#3c2a86"/>
<circle cx="25.8" cy="2.0" r="0.96" fill="#2f2072"/>
<circle cx="11.8" cy="19.2" r="0.98" fill="#3c2a86"/>
<circle cx="13.0" cy="5.6" r="1.12" fill="#3c2a86"/>
<circle cx="12.9" cy="17.6" r="0.84" fill="#44308c"/>
<circle cx="7.3" cy="20.9" r="0.91" fill="#35247c"/>
<circle cx="4.9" cy="19.8" r="0.90" fill="#35247c"/>
<circle cx="20.3" cy="19.3" r="1.12" fill="#35247c"/>
<circle cx="22.8" cy="21.0" r="0.86" fill="#44308c"/>
<circle cx="12.0" cy="4.0" r="1.06" fill="#35247c"/>
<circle cx="28.2" cy="25.4" r="0.97" fill="#2f2072"/>
<circle cx="12.9" cy="0.4" r="1.17" fill="#2f2072"/>
<circle cx="5.0" cy="8.2" r="1.08" fill="#2f2072"/>
<circle cx="18.4" cy="19.2" r="1.11" fill="#3c2a86"/>
<circle cx="15.0" cy="5.9" r="1.19" fill="#3c2a86"/>
<circle cx="15.2" cy="14.0" r="1.11" fill="#2f2072"/>
<circle cx="30.7" cy="4.3" r="1.03" fill="#44308c"/>
<circle cx="29.3" cy="9.9" r="1.20" fill="#35247c"/>
<circle cx="24.0" cy="26.5" r="0.89" fill="#2f2072"/>
</g></svg>
<svg x="52.40" y="631.70" width="30.90" height="27.10" viewBox="0 0 30.90 27.10" overflow="hidden"><g filter="url(#bb)">
<ellipse cx="19.16" cy="6.77" rx="1.39" ry="2.17" fill="#46309a"/>
</g></svg>
<rect x="85.00" y="631.70" width="31.30" height="27.10" fill="#b66cb0"/>
<rect x="85.00" y="631.70" width="31.30" height="27.10" fill="#000" filter="url(#kf)" opacity="0.4"/>
<rect x="85.00" y="631.70" width="31.30" height="27.10" fill="#000" filter="url(#pc)" opacity="0.15"/>
<svg x="85.00" y="631.70" width="31.30" height="27.10" viewBox="0 0 31.30 27.10" overflow="hidden"><g filter="url(#bb)" opacity="0.92">
<circle cx="2.8" cy="22.8" r="1.18" fill="#2f2072"/>
<circle cx="6.7" cy="21.1" r="1.17" fill="#3c2a86"/>
<circle cx="25.9" cy="16.6" r="1.24" fill="#2f2072"/>
<circle cx="24.3" cy="9.3" r="0.93" fill="#3c2a86"/>
<circle cx="28.1" cy="3.2" r="1.16" fill="#44308c"/>
<circle cx="31.0" cy="9.5" r="1.01" fill="#2f2072"/>
<circle cx="12.0" cy="5.5" r="1.25" fill="#44308c"/>
<circle cx="9.3" cy="2.0" r="1.17" fill="#3c2a86"/>
<circle cx="8.1" cy="4.9" r="0.89" fill="#35247c"/>
<circle cx="26.3" cy="10.2" r="1.18" fill="#44308c"/>
<circle cx="15.0" cy="23.6" r="0.91" fill="#3c2a86"/>
<circle cx="19.8" cy="22.5" r="1.02" fill="#44308c"/>
<circle cx="13.6" cy="9.1" r="1.04" fill="#35247c"/>
<circle cx="29.6" cy="6.2" r="1.25" fill="#3c2a86"/>
<circle cx="1.4" cy="21.2" r="0.92" fill="#3c2a86"/>
<circle cx="24.7" cy="1.8" r="0.99" fill="#2f2072"/>
<circle cx="8.3" cy="7.6" r="1.26" fill="#2f2072"/>
<circle cx="15.8" cy="1.2" r="0.97" fill="#2f2072"/>
<circle cx="13.1" cy="19.3" r="1.20" fill="#44308c"/>
<circle cx="29.7" cy="26.9" r="1.34" fill="#3c2a86"/>
<circle cx="30.9" cy="19.4" r="1.22" fill="#2f2072"/>
<circle cx="18.3" cy="10.6" r="1.29" fill="#2f2072"/>
<circle cx="12.0" cy="24.5" r="1.10" fill="#3c2a86"/>
<circle cx="0.7" cy="23.0" r="1.12" fill="#44308c"/>
<circle cx="27.4" cy="12.6" r="0.96" fill="#44308c"/>
<circle cx="6.8" cy="14.6" r="1.21" fill="#3c2a86"/>
<circle cx="17.4" cy="6.5" r="0.95" fill="#2f2072"/>
<circle cx="17.3" cy="23.6" r="1.22" fill="#44308c"/>
<circle cx="3.4" cy="24.8" r="1.20" fill="#44308c"/>
<circle cx="29.1" cy="11.4" r="1.27" fill="#2f2072"/>
<circle cx="11.6" cy="10.6" r="0.93" fill="#35247c"/>
<circle cx="5.6" cy="8.2" r="0.92" fill="#35247c"/>
<circle cx="21.8" cy="24.9" r="1.19" fill="#3c2a86"/>
<circle cx="20.2" cy="6.7" r="1.35" fill="#44308c"/>
<circle cx="3.5" cy="6.8" r="1.16" fill="#44308c"/>
<circle cx="3.6" cy="1.3" r="1.09" fill="#3c2a86"/>
<circle cx="29.3" cy="20.8" r="1.36" fill="#35247c"/>
<circle cx="22.2" cy="11.5" r="1.19" fill="#44308c"/>
<circle cx="10.1" cy="14.7" r="0.91" fill="#35247c"/>
<circle cx="14.2" cy="15.4" r="0.95" fill="#35247c"/>
<circle cx="14.1" cy="26.1" r="1.29" fill="#44308c"/>
<circle cx="28.5" cy="8.2" r="1.01" fill="#44308c"/>
<circle cx="20.1" cy="13.7" r="1.10" fill="#2f2072"/>
<circle cx="8.7" cy="10.5" r="0.88" fill="#2f2072"/>
<circle cx="15.8" cy="12.9" r="1.01" fill="#3c2a86"/>
<circle cx="4.2" cy="4.7" r="1.09" fill="#2f2072"/>
<circle cx="23.8" cy="13.8" r="0.95" fill="#2f2072"/>
<circle cx="27.9" cy="15.8" r="1.21" fill="#35247c"/>
<circle cx="3.5" cy="16.6" r="0.90" fill="#3c2a86"/>
<circle cx="6.4" cy="27.0" r="1.01" fill="#44308c"/>
<circle cx="16.9" cy="17.9" r="1.09" fill="#44308c"/>
<circle cx="6.9" cy="0.9" r="1.10" fill="#3c2a86"/>
<circle cx="29.9" cy="23.2" r="0.92" fill="#44308c"/>
<circle cx="0.9" cy="0.3" r="1.10" fill="#35247c"/>
<circle cx="5.7" cy="3.6" r="1.05" fill="#44308c"/>
<circle cx="2.6" cy="13.7" r="1.18" fill="#3c2a86"/>
<circle cx="30.5" cy="2.1" r="0.93" fill="#35247c"/>
<circle cx="19.0" cy="4.2" r="0.96" fill="#35247c"/>
<circle cx="11.5" cy="3.7" r="0.89" fill="#3c2a86"/>
<circle cx="24.8" cy="19.7" r="0.92" fill="#44308c"/>
<circle cx="18.0" cy="1.4" r="1.11" fill="#35247c"/>
<circle cx="26.1" cy="26.2" r="1.17" fill="#35247c"/>
<circle cx="31.0" cy="17.3" r="1.22" fill="#3c2a86"/>
<circle cx="9.9" cy="4.8" r="0.88" fill="#35247c"/>
<circle cx="0.7" cy="6.9" r="1.29" fill="#35247c"/>
<circle cx="23.3" cy="16.3" r="1.24" fill="#3c2a86"/>
<circle cx="27.0" cy="1.4" r="1.01" fill="#3c2a86"/>
<circle cx="3.4" cy="18.4" r="0.93" fill="#44308c"/>
<circle cx="24.4" cy="18.0" r="0.91" fill="#3c2a86"/>
<circle cx="9.6" cy="23.3" r="1.10" fill="#44308c"/>
<circle cx="15.7" cy="4.1" r="1.17" fill="#44308c"/>
<circle cx="14.4" cy="7.2" r="1.13" fill="#44308c"/>
<circle cx="12.0" cy="15.8" r="1.05" fill="#35247c"/>
<circle cx="14.9" cy="20.5" r="1.10" fill="#35247c"/>
<circle cx="24.7" cy="23.4" r="0.93" fill="#2f2072"/>
<circle cx="1.7" cy="3.2" r="0.95" fill="#2f2072"/>
<circle cx="24.7" cy="6.7" r="1.05" fill="#35247c"/>
<circle cx="21.0" cy="15.9" r="0.88" fill="#44308c"/>
<circle cx="10.9" cy="20.0" r="0.94" fill="#35247c"/>
<circle cx="22.3" cy="22.2" r="1.23" fill="#3c2a86"/>
<circle cx="9.1" cy="21.0" r="0.99" fill="#2f2072"/>
<circle cx="18.1" cy="25.6" r="1.11" fill="#35247c"/>
<circle cx="26.6" cy="22.0" r="0.89" fill="#35247c"/>
<circle cx="7.2" cy="24.0" r="1.18" fill="#2f2072"/>
<circle cx="5.2" cy="1.8" r="0.89" fill="#3c2a86"/>
</g></svg>
<svg x="85.00" y="631.70" width="31.30" height="27.10" viewBox="0 0 31.30 27.10" overflow="hidden"><g filter="url(#bb)">
<ellipse cx="20.34" cy="12.19" rx="4.07" ry="7.05" fill="#f4f4f2"/>
<ellipse cx="15.65" cy="23.58" rx="1.88" ry="1.90" fill="#f4f4f2"/>
</g></svg>
<rect x="118.00" y="631.70" width="30.80" height="27.10" fill="#a688c4"/>
<rect x="118.00" y="631.70" width="30.80" height="27.10" fill="#000" filter="url(#kf)" opacity="0.2"/>
<rect x="118.00" y="631.70" width="30.80" height="27.10" fill="#000" filter="url(#wc)" opacity="0.25"/>
<svg x="118.00" y="631.70" width="30.80" height="27.10" viewBox="0 0 30.80 27.10" overflow="hidden"><g filter="url(#bb)" opacity="0.92">
<circle cx="12.2" cy="2.3" r="1.06" fill="#3c2a86"/>
<circle cx="4.1" cy="13.1" r="0.95" fill="#3c2a86"/>
<circle cx="21.4" cy="4.3" r="1.24" fill="#3c2a86"/>
<circle cx="2.2" cy="1.8" r="1.10" fill="#3c2a86"/>
<circle cx="30.3" cy="23.3" r="1.17" fill="#44308c"/>
<circle cx="4.7" cy="5.4" r="0.93" fill="#2f2072"/>
<circle cx="7.3" cy="4.6" r="0.94" fill="#35247c"/>
<circle cx="11.6" cy="8.8" r="1.16" fill="#44308c"/>
<circle cx="25.7" cy="3.6" r="1.03" fill="#44308c"/>
<circle cx="22.5" cy="1.0" r="1.22" fill="#2f2072"/>
<circle cx="17.5" cy="12.1" r="0.98" fill="#3c2a86"/>
<circle cx="27.8" cy="14.3" r="1.00" fill="#35247c"/>
<circle cx="29.4" cy="5.0" r="1.01" fill="#35247c"/>
<circle cx="28.5" cy="22.7" r="1.15" fill="#44308c"/>
<circle cx="15.6" cy="27.1" r="1.24" fill="#44308c"/>
<circle cx="12.2" cy="21.9" r="0.96" fill="#3c2a86"/>
<circle cx="12.5" cy="19.5" r="1.20" fill="#35247c"/>
<circle cx="24.1" cy="5.2" r="0.83" fill="#44308c"/>
<circle cx="21.6" cy="25.6" r="1.13" fill="#2f2072"/>
<circle cx="22.6" cy="15.3" r="1.23" fill="#3c2a86"/>
<circle cx="11.3" cy="24.3" r="1.25" fill="#35247c"/>
<circle cx="22.7" cy="10.9" r="1.04" fill="#3c2a86"/>
<circle cx="5.5" cy="10.2" r="1.14" fill="#2f2072"/>
<circle cx="5.0" cy="20.3" r="1.05" fill="#3c2a86"/>
<circle cx="8.9" cy="21.4" r="0.98" fill="#44308c"/>
<circle cx="28.7" cy="25.4" r="1.14" fill="#2f2072"/>
<circle cx="6.3" cy="25.3" r="0.95" fill="#3c2a86"/>
<circle cx="24.8" cy="18.0" r="1.08" fill="#35247c"/>
<circle cx="26.8" cy="22.5" r="0.92" fill="#2f2072"/>
<circle cx="7.6" cy="20.2" r="1.01" fill="#35247c"/>
<circle cx="0.4" cy="25.2" r="0.93" fill="#44308c"/>
<circle cx="20.6" cy="14.0" r="1.11" fill="#3c2a86"/>
<circle cx="14.8" cy="7.0" r="1.13" fill="#44308c"/>
<circle cx="14.0" cy="1.8" r="1.04" fill="#35247c"/>
<circle cx="15.6" cy="3.2" r="0.84" fill="#3c2a86"/>
<circle cx="18.8" cy="5.3" r="1.14" fill="#3c2a86"/>
<circle cx="2.4" cy="26.4" r="1.07" fill="#3c2a86"/>
<circle cx="9.2" cy="5.0" r="1.11" fill="#2f2072"/>
<circle cx="14.2" cy="24.3" r="1.24" fill="#35247c"/>
<circle cx="30.7" cy="17.7" r="1.24" fill="#3c2a86"/>
<circle cx="22.6" cy="6.5" r="1.23" fill="#35247c"/>
<circle cx="1.6" cy="15.0" r="0.91" fill="#3c2a86"/>
<circle cx="24.9" cy="10.5" r="1.02" fill="#2f2072"/>
<circle cx="27.9" cy="10.2" r="0.89" fill="#44308c"/>
<circle cx="15.5" cy="12.3" r="1.04" fill="#44308c"/>
<circle cx="17.0" cy="9.6" r="0.99" fill="#2f2072"/>
<circle cx="28.1" cy="16.9" r="1.17" fill="#2f2072"/>
<circle cx="3.2" cy="16.1" r="0.86" fill="#44308c"/>
<circle cx="6.1" cy="18.1" r="1.13" fill="#2f2072"/>
<circle cx="19.4" cy="10.8" r="0.88" fill="#3c2a86"/>
<circle cx="28.4" cy="2.0" r="0.82" fill="#35247c"/>
<circle cx="30.0" cy="13.1" r="0.99" fill="#44308c"/>
<circle cx="17.5" cy="2.0" r="0.92" fill="#44308c"/>
<circle cx="10.8" cy="5.4" r="0.93" fill="#35247c"/>
<circle cx="7.6" cy="11.8" r="1.12" fill="#3c2a86"/>
<circle cx="30.2" cy="11.2" r="1.00" fill="#35247c"/>
<circle cx="23.4" cy="8.7" r="0.93" fill="#44308c"/>
<circle cx="4.6" cy="7.4" r="1.04" fill="#3c2a86"/>
<circle cx="6.3" cy="3.2" r="1.23" fill="#35247c"/>
<circle cx="15.2" cy="16.4" r="1.24" fill="#2f2072"/>
<circle cx="22.5" cy="19.5" r="1.14" fill="#35247c"/>
<circle cx="0.4" cy="21.2" r="1.18" fill="#3c2a86"/>
<circle cx="16.2" cy="22.4" r="1.08" fill="#44308c"/>
<circle cx="27.8" cy="18.8" r="0.89" fill="#3c2a86"/>
<circle cx="4.3" cy="22.7" r="1.11" fill="#2f2072"/>
<circle cx="5.5" cy="16.3" r="0.81" fill="#2f2072"/>
<circle cx="22.0" cy="13.0" r="1.04" fill="#35247c"/>
<circle cx="6.3" cy="21.7" r="1.20" fill="#2f2072"/>
<circle cx="11.6" cy="13.7" r="0.96" fill="#35247c"/>
<circle cx="0.8" cy="18.6" r="1.11" fill="#35247c"/>
<circle cx="10.4" cy="10.3" r="0.86" fill="#35247c"/>
<circle cx="25.3" cy="25.0" r="1.04" fill="#35247c"/>
<circle cx="24.2" cy="21.9" r="0.80" fill="#2f2072"/>
<circle cx="8.8" cy="19.0" r="0.90" fill="#44308c"/>
<circle cx="0.8" cy="16.9" r="0.99" fill="#3c2a86"/>
<circle cx="20.2" cy="23.4" r="1.15" fill="#35247c"/>
<circle cx="17.0" cy="6.7" r="0.90" fill="#3c2a86"/>
<circle cx="12.6" cy="16.1" r="1.22" fill="#35247c"/>
<circle cx="8.3" cy="17.0" r="1.06" fill="#2f2072"/>
<circle cx="18.9" cy="19.6" r="0.85" fill="#44308c"/>
<circle cx="18.8" cy="1.0" r="0.96" fill="#44308c"/>
<circle cx="16.9" cy="20.4" r="0.90" fill="#35247c"/>
<circle cx="4.4" cy="1.3" r="1.17" fill="#35247c"/>
<circle cx="6.3" cy="7.7" r="0.95" fill="#44308c"/>
<circle cx="26.2" cy="27.1" r="1.01" fill="#3c2a86"/>
<circle cx="0.5" cy="0.1" r="0.92" fill="#3c2a86"/>
<circle cx="10.8" cy="3.7" r="1.17" fill="#44308c"/>
<circle cx="7.5" cy="10.0" r="1.00" fill="#3c2a86"/>
<circle cx="8.3" cy="25.8" r="1.05" fill="#2f2072"/>
<circle cx="6.5" cy="13.8" r="1.19" fill="#35247c"/>
<circle cx="26.1" cy="16.8" r="1.11" fill="#3c2a86"/>
<circle cx="10.5" cy="12.1" r="1.07" fill="#2f2072"/>
<circle cx="27.3" cy="5.5" r="1.00" fill="#3c2a86"/>
<circle cx="15.1" cy="20.5" r="0.86" fill="#2f2072"/>
<circle cx="0.3" cy="10.5" r="0.87" fill="#3c2a86"/>
<circle cx="12.9" cy="11.2" r="0.84" fill="#44308c"/>
<circle cx="1.8" cy="12.1" r="1.18" fill="#2f2072"/>
<circle cx="18.8" cy="7.3" r="1.15" fill="#44308c"/>
<circle cx="3.2" cy="4.4" r="0.99" fill="#3c2a86"/>
<circle cx="14.1" cy="13.1" r="0.80" fill="#35247c"/>
<circle cx="2.8" cy="10.3" r="1.15" fill="#35247c"/>
<circle cx="24.7" cy="14.3" r="0.88" fill="#2f2072"/>
<circle cx="12.1" cy="0.4" r="1.02" fill="#35247c"/>
<circle cx="26.2" cy="8.7" r="1.00" fill="#3c2a86"/>
<circle cx="28.8" cy="0.1" r="1.23" fill="#3c2a86"/>
<circle cx="7.6" cy="1.7" r="1.01" fill="#2f2072"/>
<circle cx="7.6" cy="15.1" r="0.91" fill="#3c2a86"/>
<circle cx="3.1" cy="20.8" r="0.91" fill="#2f2072"/>
<circle cx="22.1" cy="21.2" r="0.97" fill="#44308c"/>
<circle cx="10.1" cy="2.0" r="0.95" fill="#35247c"/>
<circle cx="17.6" cy="18.2" r="0.90" fill="#2f2072"/>
<circle cx="17.3" cy="25.4" r="1.14" fill="#2f2072"/>
<circle cx="15.2" cy="14.2" r="0.88" fill="#44308c"/>
<circle cx="0.2" cy="3.5" r="1.16" fill="#2f2072"/>
<circle cx="3.6" cy="18.8" r="1.07" fill="#3c2a86"/>
</g></svg>
<rect x="150.70" y="631.70" width="31.30" height="27.10" fill="#c4507e"/>
<rect x="150.70" y="631.70" width="31.30" height="27.10" fill="#000" filter="url(#rf)" opacity="0.5"/>
<rect x="150.70" y="631.70" width="31.30" height="27.10" fill="#000" filter="url(#kf)" opacity="0.2"/>
<svg x="150.70" y="631.70" width="31.30" height="27.10" viewBox="0 0 31.30 27.10" overflow="hidden"><g filter="url(#bb)" opacity="0.92">
<circle cx="13.6" cy="19.6" r="1.15" fill="#44308c"/>
<circle cx="15.6" cy="22.5" r="0.99" fill="#44308c"/>
<circle cx="30.5" cy="14.0" r="0.93" fill="#7a3a94"/>
<circle cx="23.1" cy="6.2" r="1.36" fill="#5a2a86"/>
<circle cx="10.1" cy="25.8" r="0.88" fill="#3c2a86"/>
<circle cx="9.3" cy="17.0" r="1.02" fill="#44308c"/>
<circle cx="10.5" cy="2.8" r="1.18" fill="#4a2680"/>
<circle cx="26.5" cy="8.3" r="1.21" fill="#44308c"/>
<circle cx="16.7" cy="18.9" r="1.37" fill="#4a2680"/>
<circle cx="16.8" cy="9.9" r="1.12" fill="#5a2a86"/>
<circle cx="22.3" cy="27.1" r="1.37" fill="#7a3a94"/>
<circle cx="6.4" cy="18.5" r="0.95" fill="#3c2a86"/>
<circle cx="11.2" cy="11.5" r="1.28" fill="#44308c"/>
<circle cx="16.2" cy="2.9" r="1.05" fill="#6a3090"/>
<circle cx="7.5" cy="20.5" r="1.20" fill="#2f2072"/>
<circle cx="2.7" cy="13.5" r="1.26" fill="#3c2a86"/>
<circle cx="26.2" cy="19.6" r="1.17" fill="#7a3a94"/>
<circle cx="15.2" cy="25.8" r="1.11" fill="#3c2a86"/>
<circle cx="8.0" cy="8.2" r="1.07" fill="#44308c"/>
<circle cx="12.7" cy="7.4" r="1.07" fill="#4a2680"/>
<circle cx="4.1" cy="6.2" r="0.96" fill="#44308c"/>
<circle cx="30.8" cy="22.6" r="1.29" fill="#5a2a86"/>
<circle cx="0.1" cy="18.2" r="1.24" fill="#35247c"/>
<circle cx="6.2" cy="7.2" r="1.13" fill="#35247c"/>
<circle cx="24.6" cy="20.8" r="1.31" fill="#7a3a94"/>
<circle cx="25.4" cy="5.1" r="1.19" fill="#3c2a86"/>
<circle cx="7.6" cy="14.9" r="1.06" fill="#6a3090"/>
<circle cx="28.8" cy="12.6" r="1.12" fill="#7a3a94"/>
<circle cx="9.2" cy="13.8" r="1.17" fill="#2f2072"/>
<circle cx="3.7" cy="25.9" r="1.13" fill="#4a2680"/>
<circle cx="7.3" cy="22.6" r="0.90" fill="#6a3090"/>
<circle cx="22.1" cy="10.2" r="1.35" fill="#4a2680"/>
<circle cx="2.3" cy="24.3" r="1.19" fill="#6a3090"/>
<circle cx="18.7" cy="7.8" r="1.33" fill="#5a2a86"/>
<circle cx="6.5" cy="13.0" r="0.92" fill="#3c2a86"/>
<circle cx="3.3" cy="1.9" r="1.37" fill="#44308c"/>
<circle cx="14.5" cy="10.6" r="1.23" fill="#7a3a94"/>
<circle cx="6.8" cy="3.0" r="0.92" fill="#44308c"/>
<circle cx="4.5" cy="7.8" r="1.00" fill="#7a3a94"/>
<circle cx="17.4" cy="26.8" r="0.91" fill="#6a3090"/>
<circle cx="1.3" cy="9.5" r="1.02" fill="#44308c"/>
<circle cx="20.5" cy="9.0" r="1.24" fill="#44308c"/>
<circle cx="20.5" cy="5.0" r="1.12" fill="#5a2a86"/>
<circle cx="1.7" cy="15.8" r="1.13" fill="#6a3090"/>
<circle cx="18.4" cy="12.8" r="1.30" fill="#6a3090"/>
<circle cx="0.5" cy="11.2" r="0.96" fill="#35247c"/>
<circle cx="4.7" cy="19.1" r="1.35" fill="#5a2a86"/>
<circle cx="6.1" cy="1.5" r="0.96" fill="#7a3a94"/>
<circle cx="17.8" cy="0.8" r="1.22" fill="#5a2a86"/>
<circle cx="1.2" cy="26.7" r="1.25" fill="#35247c"/>
<circle cx="28.0" cy="17.7" r="1.10" fill="#35247c"/>
<circle cx="19.0" cy="21.7" r="0.91" fill="#5a2a86"/>
<circle cx="1.1" cy="22.6" r="1.10" fill="#2f2072"/>
<circle cx="18.4" cy="17.2" r="1.11" fill="#5a2a86"/>
<circle cx="11.5" cy="22.7" r="1.04" fill="#44308c"/>
<circle cx="15.1" cy="13.1" r="0.99" fill="#5a2a86"/>
<circle cx="19.7" cy="25.4" r="1.02" fill="#5a2a86"/>
<circle cx="26.2" cy="23.7" r="1.25" fill="#5a2a86"/>
<circle cx="7.6" cy="1.6" r="0.91" fill="#3c2a86"/>
<circle cx="5.9" cy="10.9" r="1.05" fill="#2f2072"/>
<circle cx="29.8" cy="8.0" r="1.05" fill="#4a2680"/>
<circle cx="21.4" cy="19.1" r="1.09" fill="#6a3090"/>
<circle cx="15.8" cy="6.5" r="1.05" fill="#35247c"/>
<circle cx="22.1" cy="2.5" r="1.37" fill="#7a3a94"/>
<circle cx="29.4" cy="19.8" r="1.00" fill="#3c2a86"/>
<circle cx="21.0" cy="21.1" r="1.12" fill="#2f2072"/>
<circle cx="1.4" cy="1.1" r="1.16" fill="#4a2680"/>
<circle cx="28.2" cy="25.5" r="1.01" fill="#4a2680"/>
<circle cx="25.1" cy="13.3" r="1.33" fill="#3c2a86"/>
<circle cx="28.8" cy="6.6" r="1.01" fill="#3c2a86"/>
<circle cx="28.7" cy="14.8" r="1.31" fill="#6a3090"/>
<circle cx="3.0" cy="21.5" r="1.15" fill="#5a2a86"/>
<circle cx="24.0" cy="22.7" r="0.88" fill="#44308c"/>
<circle cx="4.6" cy="22.7" r="0.90" fill="#4a2680"/>
<circle cx="12.1" cy="15.5" r="0.88" fill="#6a3090"/>
</g></svg>
<svg x="150.70" y="631.70" width="31.30" height="27.10" viewBox="0 0 31.30 27.10" overflow="hidden"><g filter="url(#bb)">
<ellipse cx="30.36" cy="0.81" rx="4.70" ry="5.42" fill="#f4f4f2"/>
</g></svg>
<rect x="183.30" y="631.70" width="31.00" height="27.10" fill="#dedae6"/>
<rect x="183.30" y="631.70" width="31.00" height="27.10" fill="#000" filter="url(#kf)" opacity="0.3"/>
<svg x="183.30" y="631.70" width="31.00" height="27.10" viewBox="0 0 31.00 27.10" overflow="hidden"><g filter="url(#bb)">
<ellipse cx="2.48" cy="16.26" rx="2.79" ry="8.13" fill="#e6e2ec"/>
<ellipse cx="18.60" cy="13.55" rx="2.48" ry="2.71" fill="#e6e2ec"/>
</g></svg>
<svg x="183.30" y="631.70" width="31.00" height="27.10" viewBox="0 0 31.00 27.10" overflow="hidden"><g filter="url(#bb)" opacity="0.92">
<circle cx="22.8" cy="22.8" r="1.68" fill="#5a2a86"/>
<circle cx="30.1" cy="5.0" r="1.28" fill="#8a3a90"/>
<circle cx="16.3" cy="17.6" r="1.24" fill="#7a3a94"/>
<circle cx="23.0" cy="7.4" r="1.55" fill="#7a3a94"/>
<circle cx="20.0" cy="8.3" r="1.39" fill="#6a3090"/>
<circle cx="21.2" cy="15.0" r="1.31" fill="#7a3a94"/>
<circle cx="29.1" cy="9.4" r="1.32" fill="#8a3a90"/>
<circle cx="21.6" cy="18.0" r="1.44" fill="#8a3a90"/>
<circle cx="5.9" cy="0.4" r="1.47" fill="#6a3090"/>
<circle cx="25.3" cy="26.8" r="1.18" fill="#4a2680"/>
<circle cx="4.8" cy="20.4" r="1.55" fill="#4a2680"/>
<circle cx="25.2" cy="10.5" r="1.23" fill="#5a2a86"/>
<circle cx="9.9" cy="17.8" r="1.56" fill="#6a3090"/>
<circle cx="6.8" cy="4.7" r="1.46" fill="#8a3a90"/>
<circle cx="30.3" cy="26.8" r="1.16" fill="#5a2a86"/>
<circle cx="16.8" cy="12.2" r="1.59" fill="#7a3a94"/>
<circle cx="10.3" cy="22.9" r="1.61" fill="#4a2680"/>
<circle cx="8.9" cy="25.4" r="1.50" fill="#5a2a86"/>
<circle cx="12.3" cy="19.8" r="1.52" fill="#4a2680"/>
<circle cx="14.2" cy="7.7" r="1.54" fill="#8a3a90"/>
<circle cx="6.1" cy="9.5" r="1.23" fill="#4a2680"/>
<circle cx="8.6" cy="8.8" r="1.74" fill="#6a3090"/>
<circle cx="4.6" cy="26.1" r="1.28" fill="#7a3a94"/>
<circle cx="11.5" cy="2.4" r="1.46" fill="#7a3a94"/>
<circle cx="27.8" cy="17.5" r="1.12" fill="#7a3a94"/>
<circle cx="15.7" cy="3.3" r="1.19" fill="#6a3090"/>
<circle cx="5.3" cy="18.1" r="1.25" fill="#5a2a86"/>
<circle cx="25.4" cy="12.9" r="1.23" fill="#6a3090"/>
<circle cx="15.8" cy="22.8" r="1.25" fill="#5a2a86"/>
<circle cx="31.0" cy="17.8" r="1.34" fill="#5a2a86"/>
<circle cx="28.3" cy="25.0" r="1.42" fill="#7a3a94"/>
<circle cx="17.4" cy="25.8" r="1.65" fill="#6a3090"/>
<circle cx="26.9" cy="14.9" r="1.57" fill="#5a2a86"/>
<circle cx="19.4" cy="1.0" r="1.14" fill="#4a2680"/>
<circle cx="22.7" cy="26.0" r="1.60" fill="#6a3090"/>
<circle cx="17.9" cy="22.2" r="1.32" fill="#4a2680"/>
<circle cx="18.1" cy="4.8" r="1.50" fill="#7a3a94"/>
<circle cx="8.2" cy="15.5" r="1.30" fill="#8a3a90"/>
<circle cx="14.3" cy="11.6" r="1.18" fill="#4a2680"/>
<circle cx="22.5" cy="10.6" r="1.52" fill="#7a3a94"/>
<circle cx="6.2" cy="13.3" r="1.18" fill="#5a2a86"/>
<circle cx="12.2" cy="12.4" r="1.53" fill="#6a3090"/>
</g></svg>
<rect x="215.70" y="631.70" width="30.60" height="27.10" fill="#cdbede"/>
<rect x="215.70" y="631.70" width="30.60" height="27.10" fill="#000" filter="url(#pm)" opacity="0.12"/>
<svg x="215.70" y="631.70" width="30.60" height="27.10" viewBox="0 0 30.60 27.10" overflow="hidden"><g filter="url(#bb)" opacity="0.92">
<circle cx="15.5" cy="18.1" r="1.48" fill="#2f2072"/>
<circle cx="6.8" cy="4.3" r="1.38" fill="#2f2072"/>
<circle cx="10.6" cy="18.8" r="1.48" fill="#35247c"/>
<circle cx="1.8" cy="9.9" r="1.10" fill="#2f2072"/>
<circle cx="9.9" cy="25.2" r="1.11" fill="#35247c"/>
<circle cx="12.1" cy="5.2" r="1.08" fill="#3c2a86"/>
<circle cx="3.2" cy="1.2" r="1.44" fill="#2f2072"/>
<circle cx="21.1" cy="9.3" r="1.43" fill="#2f2072"/>
<circle cx="28.3" cy="6.9" r="1.37" fill="#2f2072"/>
<circle cx="3.9" cy="7.9" r="1.21" fill="#44308c"/>
<circle cx="11.2" cy="21.2" r="1.21" fill="#3c2a86"/>
<circle cx="21.2" cy="20.2" r="1.51" fill="#44308c"/>
<circle cx="7.0" cy="6.7" r="1.43" fill="#44308c"/>
<circle cx="8.7" cy="13.7" r="1.18" fill="#3c2a86"/>
<circle cx="27.9" cy="13.5" r="1.11" fill="#44308c"/>
<circle cx="27.7" cy="0.5" r="1.16" fill="#35247c"/>
<circle cx="30.0" cy="14.7" r="1.28" fill="#44308c"/>
<circle cx="29.0" cy="17.5" r="1.39" fill="#2f2072"/>
<circle cx="16.9" cy="21.8" r="1.49" fill="#2f2072"/>
<circle cx="2.1" cy="5.0" r="1.01" fill="#44308c"/>
<circle cx="12.0" cy="15.0" r="1.36" fill="#3c2a86"/>
<circle cx="0.1" cy="4.7" r="1.47" fill="#3c2a86"/>
<circle cx="30.5" cy="2.0" r="1.17" fill="#35247c"/>
<circle cx="17.4" cy="12.8" r="1.08" fill="#2f2072"/>
<circle cx="26.6" cy="16.2" r="1.22" fill="#3c2a86"/>
<circle cx="9.5" cy="3.1" r="1.12" fill="#3c2a86"/>
<circle cx="29.9" cy="25.7" r="1.19" fill="#35247c"/>
<circle cx="16.9" cy="0.3" r="1.51" fill="#3c2a86"/>
<circle cx="5.5" cy="18.5" r="1.48" fill="#3c2a86"/>
<circle cx="15.6" cy="25.3" r="1.12" fill="#44308c"/>
<circle cx="6.0" cy="10.8" r="1.06" fill="#3c2a86"/>
<circle cx="27.8" cy="27.0" r="1.50" fill="#35247c"/>
<circle cx="26.1" cy="9.8" r="1.43" fill="#3c2a86"/>
<circle cx="19.9" cy="6.6" r="1.56" fill="#44308c"/>
<circle cx="22.0" cy="13.5" r="1.06" fill="#35247c"/>
<circle cx="13.5" cy="26.9" r="1.25" fill="#35247c"/>
<circle cx="0.5" cy="15.4" r="1.19" fill="#2f2072"/>
<circle cx="17.9" cy="17.1" r="1.47" fill="#35247c"/>
<circle cx="3.3" cy="3.7" r="1.15" fill="#2f2072"/>
<circle cx="21.8" cy="16.5" r="1.48" fill="#2f2072"/>
<circle cx="7.7" cy="0.5" r="1.39" fill="#35247c"/>
<circle cx="19.9" cy="11.9" r="1.43" fill="#35247c"/>
<circle cx="6.0" cy="14.9" r="1.27" fill="#35247c"/>
<circle cx="14.8" cy="12.3" r="1.15" fill="#35247c"/>
<circle cx="16.0" cy="15.7" r="1.52" fill="#44308c"/>
<circle cx="3.7" cy="23.5" r="1.01" fill="#44308c"/>
<circle cx="0.3" cy="12.7" r="1.18" fill="#44308c"/>
<circle cx="29.1" cy="10.6" r="1.37" fill="#2f2072"/>
<circle cx="22.4" cy="0.3" r="1.34" fill="#2f2072"/>
<circle cx="14.0" cy="20.0" r="1.47" fill="#35247c"/>
<circle cx="24.6" cy="3.9" r="1.48" fill="#35247c"/>
<circle cx="23.7" cy="24.3" r="1.06" fill="#35247c"/>
<circle cx="9.4" cy="6.7" r="1.37" fill="#3c2a86"/>
<circle cx="21.1" cy="22.4" r="1.04" fill="#35247c"/>
<circle cx="29.2" cy="23.7" r="1.19" fill="#35247c"/>
<circle cx="0.2" cy="19.2" r="1.34" fill="#44308c"/>
<circle cx="19.2" cy="22.1" r="1.14" fill="#2f2072"/>
<circle cx="9.1" cy="11.4" r="1.16" fill="#2f2072"/>
<circle cx="21.0" cy="4.2" r="1.13" fill="#44308c"/>
<circle cx="26.5" cy="19.1" r="1.30" fill="#35247c"/>
<circle cx="8.5" cy="22.7" r="1.34" fill="#3c2a86"/>
<circle cx="17.7" cy="25.8" r="1.10" fill="#3c2a86"/>
<circle cx="5.2" cy="25.1" r="1.26" fill="#3c2a86"/>
<circle cx="2.1" cy="26.2" r="1.41" fill="#3c2a86"/>
<circle cx="1.9" cy="17.7" r="1.05" fill="#35247c"/>
<circle cx="14.8" cy="2.0" r="1.27" fill="#2f2072"/>
<circle cx="3.4" cy="20.7" r="1.44" fill="#44308c"/>
<circle cx="25.6" cy="12.8" r="1.24" fill="#3c2a86"/>
<circle cx="11.9" cy="10.4" r="1.23" fill="#35247c"/>
<circle cx="25.5" cy="6.3" r="1.10" fill="#35247c"/>
<circle cx="13.9" cy="10.0" r="1.11" fill="#2f2072"/>
<circle cx="1.1" cy="22.3" r="1.04" fill="#3c2a86"/>
<circle cx="26.3" cy="24.1" r="1.41" fill="#35247c"/>
<circle cx="23.9" cy="8.4" r="1.25" fill="#35247c"/>
<circle cx="6.7" cy="26.8" r="1.08" fill="#2f2072"/>
<circle cx="13.7" cy="25.0" r="1.02" fill="#3c2a86"/>
<circle cx="23.7" cy="11.8" r="1.11" fill="#35247c"/>
<circle cx="18.8" cy="19.3" r="1.36" fill="#3c2a86"/>
<circle cx="22.3" cy="7.2" r="1.28" fill="#2f2072"/>
<circle cx="19.8" cy="24.1" r="1.38" fill="#2f2072"/>
<circle cx="24.6" cy="15.1" r="1.44" fill="#3c2a86"/>
<circle cx="23.9" cy="20.0" r="1.54" fill="#35247c"/>
<circle cx="4.1" cy="13.8" r="1.28" fill="#2f2072"/>
<circle cx="14.3" cy="7.6" r="1.36" fill="#35247c"/>
<circle cx="0.1" cy="0.1" r="1.13" fill="#35247c"/>
</g></svg>
<text x="260.40" y="395.30" font-size="11.3" fill="#000" font-weight="bold" stroke="#000" stroke-width="0.25">L</text>
<text x="271.20" y="432.00" font-size="8.8" fill="#222" text-anchor="middle" transform="rotate(-90 271.20 432.00)" textLength="36.50" lengthAdjust="spacingAndGlyphs" dy="2.8" stroke="#222" stroke-width="0.22">Cell no.*10^ 4</text>
<rect x="290.40" y="450.80" width="4.80" height="17.50" fill="#6aa842"/>
<line x1="292.80" y1="450.80" x2="292.80" y2="448.50" stroke="#222" stroke-width="0.8"/>
<line x1="291.50" y1="448.50" x2="294.10" y2="448.50" stroke="#222" stroke-width="0.9"/>
<rect x="299.40" y="438.30" width="4.80" height="30.00" fill="#a30a34"/>
<line x1="301.80" y1="438.30" x2="301.80" y2="436.30" stroke="#222" stroke-width="0.8"/>
<line x1="300.50" y1="436.30" x2="303.10" y2="436.30" stroke="#222" stroke-width="0.9"/>
<text x="301.80" y="435.80" font-size="6.0" fill="#111" text-anchor="middle" stroke="#111" stroke-width="0.1">*</text>
<rect x="308.30" y="463.30" width="4.80" height="5.00" fill="#2b4b85"/>
<line x1="310.70" y1="463.30" x2="310.70" y2="461.30" stroke="#222" stroke-width="0.8"/>
<line x1="309.40" y1="461.30" x2="312.00" y2="461.30" stroke="#222" stroke-width="0.9"/>
<text x="310.70" y="461.20" font-size="6.0" fill="#111" text-anchor="middle" stroke="#111" stroke-width="0.1">*</text>
<rect x="317.30" y="428.70" width="4.80" height="39.60" fill="#50256a"/>
<line x1="319.70" y1="428.70" x2="319.70" y2="425.40" stroke="#222" stroke-width="0.8"/>
<line x1="318.40" y1="425.40" x2="321.00" y2="425.40" stroke="#222" stroke-width="0.9"/>
<text x="319.70" y="424.60" font-size="6.0" fill="#111" text-anchor="middle" stroke="#111" stroke-width="0.1">**</text>
<rect x="326.30" y="446.20" width="4.90" height="22.10" fill="#e08f1d"/>
<line x1="328.75" y1="446.20" x2="328.75" y2="444.20" stroke="#222" stroke-width="0.8"/>
<line x1="327.45" y1="444.20" x2="330.05" y2="444.20" stroke="#222" stroke-width="0.9"/>
<rect x="335.20" y="452.30" width="4.80" height="16.00" fill="#6aa842"/>
<line x1="337.60" y1="452.30" x2="337.60" y2="451.00" stroke="#222" stroke-width="0.8"/>
<line x1="336.30" y1="451.00" x2="338.90" y2="451.00" stroke="#222" stroke-width="0.9"/>
<rect x="344.30" y="435.80" width="4.80" height="32.50" fill="#a30a34"/>
<line x1="346.70" y1="435.80" x2="346.70" y2="433.80" stroke="#222" stroke-width="0.8"/>
<line x1="345.40" y1="433.80" x2="348.00" y2="433.80" stroke="#222" stroke-width="0.9"/>
<text x="346.70" y="433.70" font-size="6.0" fill="#111" text-anchor="middle" stroke="#111" stroke-width="0.1">*</text>
<rect x="353.50" y="461.30" width="4.80" height="7.00" fill="#2b4b85"/>
<line x1="355.90" y1="461.30" x2="355.90" y2="459.40" stroke="#222" stroke-width="0.8"/>
<line x1="354.60" y1="459.40" x2="357.20" y2="459.40" stroke="#222" stroke-width="0.9"/>
<text x="355.90" y="459.30" font-size="6.0" fill="#111" text-anchor="middle" stroke="#111" stroke-width="0.1">*</text>
<rect x="362.30" y="424.00" width="4.80" height="44.30" fill="#50256a"/>
<line x1="364.70" y1="424.00" x2="364.70" y2="421.50" stroke="#222" stroke-width="0.8"/>
<line x1="363.40" y1="421.50" x2="366.00" y2="421.50" stroke="#222" stroke-width="0.9"/>
<text x="364.70" y="421.20" font-size="6.0" fill="#111" text-anchor="middle" stroke="#111" stroke-width="0.1">**</text>
<rect x="371.30" y="444.60" width="4.90" height="23.70" fill="#e08f1d"/>
<line x1="373.75" y1="444.60" x2="373.75" y2="440.80" stroke="#222" stroke-width="0.8"/>
<line x1="372.45" y1="440.80" x2="375.05" y2="440.80" stroke="#222" stroke-width="0.9"/>
<rect x="380.40" y="441.70" width="4.80" height="26.60" fill="#6aa842"/>
<line x1="382.80" y1="441.70" x2="382.80" y2="439.80" stroke="#222" stroke-width="0.8"/>
<line x1="381.50" y1="439.80" x2="384.10" y2="439.80" stroke="#222" stroke-width="0.9"/>
<rect x="389.20" y="425.00" width="4.80" height="43.30" fill="#a30a34"/>
<line x1="391.60" y1="425.00" x2="391.60" y2="422.50" stroke="#222" stroke-width="0.8"/>
<line x1="390.30" y1="422.50" x2="392.90" y2="422.50" stroke="#222" stroke-width="0.9"/>
<text x="391.60" y="422.10" font-size="6.0" fill="#111" text-anchor="middle" stroke="#111" stroke-width="0.1">**</text>
<rect x="398.30" y="460.00" width="4.80" height="8.30" fill="#2b4b85"/>
<line x1="400.70" y1="460.00" x2="400.70" y2="458.10" stroke="#222" stroke-width="0.8"/>
<line x1="399.40" y1="458.10" x2="402.00" y2="458.10" stroke="#222" stroke-width="0.9"/>
<text x="400.70" y="457.90" font-size="6.0" fill="#111" text-anchor="middle" stroke="#111" stroke-width="0.1">*</text>
<rect x="407.30" y="415.20" width="4.80" height="53.10" fill="#50256a"/>
<line x1="409.70" y1="415.20" x2="409.70" y2="413.50" stroke="#222" stroke-width="0.8"/>
<line x1="408.40" y1="413.50" x2="411.00" y2="413.50" stroke="#222" stroke-width="0.9"/>
<text x="409.70" y="413.10" font-size="6.0" fill="#111" text-anchor="middle" stroke="#111" stroke-width="0.1">**</text>
<rect x="416.20" y="437.90" width="4.80" height="30.40" fill="#e08f1d"/>
<line x1="418.60" y1="437.90" x2="418.60" y2="432.10" stroke="#222" stroke-width="0.8"/>
<line x1="417.30" y1="432.10" x2="419.90" y2="432.10" stroke="#222" stroke-width="0.9"/>
<line x1="288.10" y1="396.20" x2="288.10" y2="469.00" stroke="#222" stroke-width="1.4"/>
<line x1="287.40" y1="468.30" x2="425.60" y2="468.30" stroke="#222" stroke-width="1.4"/>
<line x1="285.70" y1="398.50" x2="288.10" y2="398.50" stroke="#222" stroke-width="1.1"/>
<text x="282.70" y="400.77" font-size="6.3" fill="#222" text-anchor="end" stroke="#222" stroke-width="0.18">9</text>
<line x1="285.70" y1="421.90" x2="288.10" y2="421.90" stroke="#222" stroke-width="1.1"/>
<text x="282.70" y="424.17" font-size="6.3" fill="#222" text-anchor="end" stroke="#222" stroke-width="0.18">6</text>
<line x1="285.70" y1="445.20" x2="288.10" y2="445.20" stroke="#222" stroke-width="1.1"/>
<text x="282.70" y="447.47" font-size="6.3" fill="#222" text-anchor="end" stroke="#222" stroke-width="0.18">3</text>
<line x1="285.70" y1="468.30" x2="288.10" y2="468.30" stroke="#222" stroke-width="1.1"/>
<text x="282.70" y="470.57" font-size="6.3" fill="#222" text-anchor="end" stroke="#222" stroke-width="0.18">0</text>
<line x1="288.10" y1="468.30" x2="288.10" y2="471.20" stroke="#222" stroke-width="1.15"/>
<line x1="297.12" y1="468.30" x2="297.12" y2="471.20" stroke="#222" stroke-width="1.15"/>
<line x1="306.14" y1="468.30" x2="306.14" y2="471.20" stroke="#222" stroke-width="1.15"/>
<line x1="315.16" y1="468.30" x2="315.16" y2="471.20" stroke="#222" stroke-width="1.15"/>
<line x1="324.18" y1="468.30" x2="324.18" y2="471.20" stroke="#222" stroke-width="1.15"/>
<line x1="333.20" y1="468.30" x2="333.20" y2="471.20" stroke="#222" stroke-width="1.15"/>
<line x1="342.22" y1="468.30" x2="342.22" y2="471.20" stroke="#222" stroke-width="1.15"/>
<line x1="351.24" y1="468.30" x2="351.24" y2="471.20" stroke="#222" stroke-width="1.15"/>
<line x1="360.26" y1="468.30" x2="360.26" y2="471.20" stroke="#222" stroke-width="1.15"/>
<line x1="369.28" y1="468.30" x2="369.28" y2="471.20" stroke="#222" stroke-width="1.15"/>
<line x1="378.30" y1="468.30" x2="378.30" y2="471.20" stroke="#222" stroke-width="1.15"/>
<line x1="387.32" y1="468.30" x2="387.32" y2="471.20" stroke="#222" stroke-width="1.15"/>
<line x1="396.34" y1="468.30" x2="396.34" y2="471.20" stroke="#222" stroke-width="1.15"/>
<line x1="405.36" y1="468.30" x2="405.36" y2="471.20" stroke="#222" stroke-width="1.15"/>
<line x1="414.38" y1="468.30" x2="414.38" y2="471.20" stroke="#222" stroke-width="1.15"/>
<line x1="423.40" y1="468.30" x2="423.40" y2="471.20" stroke="#222" stroke-width="1.15"/>
<text x="295.50" y="476.30" font-size="6.0" fill="#222" text-anchor="end" transform="rotate(-45 295.50 476.30)" stroke="#222" stroke-width="0.18">Mock</text>
<text x="304.50" y="476.30" font-size="6.0" fill="#222" text-anchor="end" transform="rotate(-45 304.50 476.30)" stroke="#222" stroke-width="0.18">EGFL7 OE</text>
<text x="313.40" y="476.30" font-size="6.0" fill="#222" text-anchor="end" transform="rotate(-45 313.40 476.30)" stroke="#222" stroke-width="0.18">EGFL7 KD</text>
<text x="322.40" y="476.30" font-size="6.0" fill="#222" text-anchor="end" transform="rotate(-45 322.40 476.30)" stroke="#222" stroke-width="0.18">KLF2 OE</text>
<text x="331.45" y="476.30" font-size="6.0" fill="#222" text-anchor="end" transform="rotate(-45 331.45 476.30)" stroke="#222" stroke-width="0.18">KLF2 OE+EGFL7 KD</text>
<text x="340.30" y="476.30" font-size="6.0" fill="#222" text-anchor="end" transform="rotate(-45 340.30 476.30)" stroke="#222" stroke-width="0.18">Mock</text>
<text x="349.40" y="476.30" font-size="6.0" fill="#222" text-anchor="end" transform="rotate(-45 349.40 476.30)" stroke="#222" stroke-width="0.18">Egfl7 OE</text>
<text x="358.60" y="476.30" font-size="6.0" fill="#222" text-anchor="end" transform="rotate(-45 358.60 476.30)" stroke="#222" stroke-width="0.18">EGFL7 KD</text>
<text x="367.40" y="476.30" font-size="6.0" fill="#222" text-anchor="end" transform="rotate(-45 367.40 476.30)" stroke="#222" stroke-width="0.18">KLF2 OE</text>
<text x="376.45" y="476.30" font-size="6.0" fill="#222" text-anchor="end" transform="rotate(-45 376.45 476.30)" stroke="#222" stroke-width="0.18">KLF2 OE+EGFL7 KD</text>
<text x="385.50" y="476.30" font-size="6.0" fill="#222" text-anchor="end" transform="rotate(-45 385.50 476.30)" stroke="#222" stroke-width="0.18">Mock</text>
<text x="394.30" y="476.30" font-size="6.0" fill="#222" text-anchor="end" transform="rotate(-45 394.30 476.30)" stroke="#222" stroke-width="0.18">EGFL7 OE</text>
<text x="403.40" y="476.30" font-size="6.0" fill="#222" text-anchor="end" transform="rotate(-45 403.40 476.30)" stroke="#222" stroke-width="0.18">EGFL7 KD</text>
<text x="412.40" y="476.30" font-size="6.0" fill="#222" text-anchor="end" transform="rotate(-45 412.40 476.30)" stroke="#222" stroke-width="0.18">KLF2 OE</text>
<text x="421.30" y="476.30" font-size="6.0" fill="#222" text-anchor="end" transform="rotate(-45 421.30 476.30)" stroke="#222" stroke-width="0.18">KLF2 OE+EGFL7 KD</text>
<line x1="285.20" y1="521.90" x2="323.10" y2="521.90" stroke="#333" stroke-width="1.2"/>
<line x1="329.20" y1="521.90" x2="366.90" y2="521.90" stroke="#333" stroke-width="1.2"/>
<line x1="374.20" y1="521.90" x2="411.70" y2="521.90" stroke="#333" stroke-width="1.2"/>
<text x="304.20" y="529.50" font-size="5.5" fill="#3a5893" text-anchor="middle" stroke="#3a5893" stroke-width="0.06">#1</text>
<text x="347.90" y="529.50" font-size="5.5" fill="#3a5893" text-anchor="middle" stroke="#3a5893" stroke-width="0.06">#2</text>
<text x="392.90" y="529.50" font-size="5.5" fill="#3a5893" text-anchor="middle" stroke="#3a5893" stroke-width="0.06">#3</text>
<text x="412.10" y="529.20" font-size="5.35" fill="#c2143f" stroke="#c2143f" stroke-width="0.06">Patient</text>
<text x="412.10" y="535.50" font-size="5.35" fill="#c2143f" stroke="#c2143f" stroke-width="0.06">CD138+</text>
<text x="439.20" y="395.20" font-size="11.3" fill="#000" font-weight="bold" stroke="#000" stroke-width="0.25">M</text>
<text x="492.10" y="405.20" font-size="8.5" fill="#3a5893" text-anchor="middle" font-style="italic" stroke="#3a5893" stroke-width="0.18">ITGB3</text>
<text x="453.30" y="443.50" font-size="8.8" fill="#222" text-anchor="middle" transform="rotate(-90 453.30 443.50)" textLength="30.00" lengthAdjust="spacingAndGlyphs" dy="2.8" stroke="#222" stroke-width="0.22">Fold change</text>
<rect x="472.90" y="459.20" width="6.10" height="9.30" fill="#6aa842"/>
<line x1="475.95" y1="459.20" x2="475.95" y2="456.90" stroke="#222" stroke-width="0.8"/>
<line x1="474.55" y1="456.90" x2="477.35" y2="456.90" stroke="#222" stroke-width="0.9"/>
<rect x="482.90" y="452.50" width="5.90" height="16.00" fill="#6aa842"/>
<line x1="485.85" y1="452.50" x2="485.85" y2="449.60" stroke="#222" stroke-width="0.8"/>
<line x1="484.45" y1="449.60" x2="487.25" y2="449.60" stroke="#222" stroke-width="0.9"/>
<text x="485.85" y="449.10" font-size="6.0" fill="#111" text-anchor="middle" stroke="#111" stroke-width="0.1">**</text>
<rect x="493.10" y="466.00" width="5.70" height="2.50" fill="#6aa842"/>
<line x1="495.95" y1="466.00" x2="495.95" y2="464.00" stroke="#222" stroke-width="0.8"/>
<line x1="494.55" y1="464.00" x2="497.35" y2="464.00" stroke="#222" stroke-width="0.9"/>
<text x="495.95" y="463.90" font-size="6.0" fill="#111" text-anchor="middle" stroke="#111" stroke-width="0.1">*</text>
<rect x="503.10" y="436.70" width="5.90" height="31.80" fill="#6aa842"/>
<line x1="506.05" y1="436.70" x2="506.05" y2="434.20" stroke="#222" stroke-width="0.8"/>
<line x1="504.65" y1="434.20" x2="507.45" y2="434.20" stroke="#222" stroke-width="0.9"/>
<text x="506.05" y="433.70" font-size="6.0" fill="#111" text-anchor="middle" stroke="#111" stroke-width="0.1">***</text>
<line x1="470.40" y1="419.40" x2="470.40" y2="469.20" stroke="#222" stroke-width="1.4"/>
<line x1="469.70" y1="468.50" x2="513.30" y2="468.50" stroke="#222" stroke-width="1.4"/>
<line x1="468.00" y1="421.90" x2="470.40" y2="421.90" stroke="#222" stroke-width="1.1"/>
<text x="465.00" y="424.17" font-size="6.3" fill="#222" text-anchor="end" stroke="#222" stroke-width="0.18">9</text>
<line x1="468.00" y1="437.30" x2="470.40" y2="437.30" stroke="#222" stroke-width="1.1"/>
<text x="465.00" y="439.57" font-size="6.3" fill="#222" text-anchor="end" stroke="#222" stroke-width="0.18">6</text>
<line x1="468.00" y1="452.70" x2="470.40" y2="452.70" stroke="#222" stroke-width="1.1"/>
<text x="465.00" y="454.97" font-size="6.3" fill="#222" text-anchor="end" stroke="#222" stroke-width="0.18">3</text>
<line x1="468.00" y1="468.50" x2="470.40" y2="468.50" stroke="#222" stroke-width="1.1"/>
<text x="465.00" y="470.77" font-size="6.3" fill="#222" text-anchor="end" stroke="#222" stroke-width="0.18">0</text>
<line x1="470.40" y1="468.50" x2="470.40" y2="471.40" stroke="#222" stroke-width="1.15"/>
<line x1="481.20" y1="468.50" x2="481.20" y2="471.40" stroke="#222" stroke-width="1.15"/>
<line x1="491.50" y1="468.50" x2="491.50" y2="471.40" stroke="#222" stroke-width="1.15"/>
<line x1="501.70" y1="468.50" x2="501.70" y2="471.40" stroke="#222" stroke-width="1.15"/>
<line x1="511.90" y1="468.50" x2="511.90" y2="471.40" stroke="#222" stroke-width="1.15"/>
<text x="480.25" y="476.80" font-size="6.5" fill="#222" text-anchor="end" transform="rotate(-45 480.25 476.80)" stroke="#222" stroke-width="0.18">BMMC</text>
<text x="490.15" y="476.80" font-size="6.5" fill="#222" text-anchor="end" transform="rotate(-45 490.15 476.80)" stroke="#222" stroke-width="0.18">#1</text>
<text x="500.25" y="476.80" font-size="6.5" fill="#222" text-anchor="end" transform="rotate(-45 500.25 476.80)" stroke="#222" stroke-width="0.18">#2</text>
<text x="510.35" y="476.80" font-size="6.5" fill="#222" text-anchor="end" transform="rotate(-45 510.35 476.80)" stroke="#222" stroke-width="0.18">#3</text>
<text x="260.40" y="548.80" font-size="11.3" fill="#000" font-weight="bold" stroke="#000" stroke-width="0.25">N</text>
<rect x="269.4" y="555.1" width="210.3" height="91.1" fill="#fff" stroke="#2d4c8c" stroke-width="1.0"/>
<clipPath id="cc1"><ellipse cx="307.30" cy="596.00" rx="29.80" ry="22.90"/></clipPath>
<ellipse cx="307.30" cy="596.00" rx="29.80" ry="22.90" fill="#fbe8d8" stroke="#111" stroke-width="1.3"/>
<g clip-path="url(#cc1)"><ellipse cx="308.50" cy="610.10" rx="21.70" ry="7.00" fill="#a9c6ee" stroke="#111" stroke-width="0.8" stroke-dasharray="1.6 0.9"/></g>
<ellipse cx="307.30" cy="596.00" rx="29.80" ry="22.90" fill="none" stroke="#111" stroke-width="1.3"/>
<text x="302.50" y="561.70" font-size="3.8" fill="#333">Egfl7 normal</text>
<circle cx="305.5" cy="565.1" r="1.8" fill="#1d2c96"/>
<circle cx="310.9" cy="565.4" r="1.8" fill="#1d2c96"/>
<path d="M306.30 567.00 L307.90 569.60 L309.50 567.00" fill="none" stroke="#d9821a" stroke-width="1.2"/>
<line x1="307.90" y1="569.40" x2="307.90" y2="575.60" stroke="#d9821a" stroke-width="2.0"/>
<ellipse cx="303.50" cy="580.30" rx="2.70" ry="5.40" fill="#d42b14" stroke="#5a1008" stroke-width="0.35" transform="rotate(-12 303.50 580.30)"/>
<ellipse cx="298.40" cy="576.30" rx="2.60" ry="1.50" fill="#4d7fd0" stroke="#2a4a90" stroke-width="0.35" transform="rotate(0 298.40 576.30)"/>
<text x="297.00" y="573.00" font-size="2.2" fill="#333">αvβ3</text>
<ellipse cx="297.80" cy="589.20" rx="4.30" ry="2.20" fill="#d42b14" stroke="#5a1008" stroke-width="0.35" transform="rotate(0 297.80 589.20)"/>
<ellipse cx="309.40" cy="591.50" rx="8.50" ry="2.60" fill="#f3e31a" stroke="#6a5a00" stroke-width="0.35" transform="rotate(0 309.40 591.50)"/>
<text x="309.40" y="592.70" font-size="3.2" fill="#333" text-anchor="middle">AKT</text>
<line x1="308.90" y1="596.00" x2="308.90" y2="599.20" stroke="#2a3a9a" stroke-width="0.9"/>
<path d="M307.40 598.50 L308.90 600.40 L310.40 598.50 Z" fill="#2a3a9a"/>
<ellipse cx="298.40" cy="608.20" rx="9.00" ry="2.60" fill="#d42b14" stroke="#5a1008" stroke-width="0.35" transform="rotate(-8 298.40 608.20)"/>
<text x="298.40" y="609.30" font-size="2.8" fill="#6a1008" text-anchor="middle">KLF2</text>
<text x="314.50" y="608.30" font-size="3.6" fill="#333">Egfl7</text>
<circle cx="311.2" cy="605.8" r="0.6" fill="#111"/>
<ellipse cx="300.83" cy="612.60" rx="1.54" ry="1.6" fill="#2a2a2a" stroke="#0a0a0a" stroke-width="0.8"/>
<ellipse cx="304.50" cy="612.60" rx="1.54" ry="1.6" fill="#2a2a2a" stroke="#0a0a0a" stroke-width="0.8"/>
<ellipse cx="308.17" cy="612.60" rx="1.54" ry="1.6" fill="#2a2a2a" stroke="#0a0a0a" stroke-width="0.8"/>
<ellipse cx="311.83" cy="612.60" rx="1.54" ry="1.6" fill="#2a2a2a" stroke="#0a0a0a" stroke-width="0.8"/>
<ellipse cx="315.50" cy="612.60" rx="1.54" ry="1.6" fill="#2a2a2a" stroke="#0a0a0a" stroke-width="0.8"/>
<ellipse cx="319.17" cy="612.60" rx="1.54" ry="1.6" fill="#2a2a2a" stroke="#0a0a0a" stroke-width="0.8"/>
<line x1="297.00" y1="613.80" x2="300.00" y2="611.40" stroke="#111" stroke-width="0.6"/>
<line x1="320.00" y1="614.00" x2="323.50" y2="610.60" stroke="#111" stroke-width="0.6"/>
<text x="305.20" y="625.50" font-size="3.8" fill="#333" text-anchor="middle">M.M</text>
<text x="305.20" y="630.80" font-size="3.8" fill="#333" text-anchor="middle">Growth</text>
<clipPath id="cc2"><ellipse cx="375.00" cy="596.50" rx="29.80" ry="22.70"/></clipPath>
<ellipse cx="375.00" cy="596.50" rx="29.80" ry="22.70" fill="#fbe8d8" stroke="#111" stroke-width="1.3"/>
<g clip-path="url(#cc2)"><ellipse cx="376.70" cy="610.20" rx="21.90" ry="7.10" fill="#a9c6ee" stroke="#111" stroke-width="0.8" stroke-dasharray="1.6 0.9"/></g>
<ellipse cx="375.00" cy="596.50" rx="29.80" ry="22.70" fill="none" stroke="#111" stroke-width="1.3"/>
<text x="382.00" y="562.70" font-size="3.8" fill="#333">Egfl7  overexpression</text>
<circle cx="370.6" cy="562.3" r="1.8" fill="#1d2c96"/>
<circle cx="374.8" cy="561.2" r="1.8" fill="#1d2c96"/>
<circle cx="372.6" cy="564.7" r="1.8" fill="#1d2c96"/>
<circle cx="375.6" cy="566.5" r="1.8" fill="#1d2c96"/>
<circle cx="378.3" cy="564.9" r="1.8" fill="#1d2c96"/>
<path d="M373.20 568.60 L374.80 571.20 L376.40 568.60" fill="none" stroke="#d9821a" stroke-width="1.2"/>
<line x1="374.80" y1="571.00" x2="374.80" y2="575.80" stroke="#d9821a" stroke-width="2.0"/>
<ellipse cx="370.50" cy="580.80" rx="2.80" ry="5.40" fill="#d42b14" stroke="#5a1008" stroke-width="0.35" transform="rotate(-6 370.50 580.80)"/>
<ellipse cx="379.80" cy="580.30" rx="2.80" ry="5.40" fill="#d42b14" stroke="#5a1008" stroke-width="0.35" transform="rotate(-6 379.80 580.30)"/>
<ellipse cx="365.80" cy="576.50" rx="2.60" ry="1.50" fill="#4d7fd0" stroke="#2a4a90" stroke-width="0.35" transform="rotate(0 365.80 576.50)"/>
<ellipse cx="383.50" cy="584.60" rx="2.60" ry="1.50" fill="#4d7fd0" stroke="#2a4a90" stroke-width="0.35" transform="rotate(0 383.50 584.60)"/>
<text x="364.00" y="573.20" font-size="2.2" fill="#333">αvβ3</text>
<ellipse cx="376.30" cy="589.70" rx="4.30" ry="2.20" fill="#d42b14" stroke="#5a1008" stroke-width="0.35" transform="rotate(0 376.30 589.70)"/>
<ellipse cx="370.90" cy="594.90" rx="4.30" ry="2.20" fill="#d42b14" stroke="#5a1008" stroke-width="0.35" transform="rotate(0 370.90 594.90)"/>
<ellipse cx="388.60" cy="591.20" rx="8.30" ry="2.50" fill="#f3e31a" stroke="#6a5a00" stroke-width="0.35" transform="rotate(0 388.60 591.20)"/>
<ellipse cx="360.50" cy="593.80" rx="8.30" ry="2.50" fill="#f3e31a" stroke="#6a5a00" stroke-width="0.35" transform="rotate(0 360.50 593.80)"/>
<text x="388.60" y="592.40" font-size="3.2" fill="#333" text-anchor="middle">AKT</text>
<text x="360.50" y="595.00" font-size="3.2" fill="#333" text-anchor="middle">AKT</text>
<line x1="376.30" y1="597.20" x2="376.30" y2="600.00" stroke="#2a3a9a" stroke-width="0.9"/>
<path d="M374.80 599.30 L376.30 601.20 L377.80 599.30 Z" fill="#2a3a9a"/>
<ellipse cx="367.40" cy="608.20" rx="9.00" ry="2.60" fill="#d42b14" stroke="#5a1008" stroke-width="0.35" transform="rotate(-8 367.40 608.20)"/>
<text x="367.40" y="609.30" font-size="2.8" fill="#6a1008" text-anchor="middle">KLF2</text>
<text x="384.30" y="608.50" font-size="3.6" fill="#333">Egfl7</text>
<circle cx="380.6" cy="605.8" r="0.6" fill="#111"/>
<ellipse cx="367.92" cy="612.60" rx="1.61" ry="1.6" fill="#2a2a2a" stroke="#0a0a0a" stroke-width="0.8"/>
<ellipse cx="371.75" cy="612.60" rx="1.61" ry="1.6" fill="#2a2a2a" stroke="#0a0a0a" stroke-width="0.8"/>
<ellipse cx="375.58" cy="612.60" rx="1.61" ry="1.6" fill="#2a2a2a" stroke="#0a0a0a" stroke-width="0.8"/>
<ellipse cx="379.42" cy="612.60" rx="1.61" ry="1.6" fill="#2a2a2a" stroke="#0a0a0a" stroke-width="0.8"/>
<ellipse cx="383.25" cy="612.60" rx="1.61" ry="1.6" fill="#2a2a2a" stroke="#0a0a0a" stroke-width="0.8"/>
<ellipse cx="387.08" cy="612.60" rx="1.61" ry="1.6" fill="#2a2a2a" stroke="#0a0a0a" stroke-width="0.8"/>
<line x1="364.00" y1="613.80" x2="367.00" y2="611.40" stroke="#111" stroke-width="0.6"/>
<line x1="388.00" y1="614.00" x2="391.50" y2="610.60" stroke="#111" stroke-width="0.6"/>
<text x="374.30" y="625.50" font-size="3.8" fill="#333" text-anchor="middle">M.M</text>
<text x="360.90" y="630.80" font-size="3.8" fill="#333">Drug resistance</text>
<text x="360.90" y="635.60" font-size="3.8" fill="#333">Proliferation</text>
<text x="360.90" y="640.50" font-size="3.8" fill="#333">Survival</text>
<clipPath id="cc3"><ellipse cx="441.50" cy="596.50" rx="30.10" ry="22.70"/></clipPath>
<ellipse cx="441.50" cy="596.50" rx="30.10" ry="22.70" fill="#fbe8d8" stroke="#111" stroke-width="1.3"/>
<g clip-path="url(#cc3)"><ellipse cx="443.20" cy="610.30" rx="22.00" ry="7.20" fill="#a9c6ee" stroke="#111" stroke-width="0.8" stroke-dasharray="1.6 0.9"/></g>
<ellipse cx="441.50" cy="596.50" rx="30.10" ry="22.70" fill="none" stroke="#111" stroke-width="1.3"/>
<text x="444.30" y="562.70" font-size="3.8" fill="#333">Egfl7 blockade</text>
<path d="M439.80 567.50 L441.40 570.10 L443.00 567.50" fill="none" stroke="#d9821a" stroke-width="1.2"/>
<line x1="441.40" y1="569.90" x2="441.40" y2="576.20" stroke="#d9821a" stroke-width="2.0"/>
<text x="441.40" y="568.60" font-size="3.4" fill="#3a1a10" text-anchor="middle" stroke="#3a1a10" stroke-width="0.18">✱</text>
<ellipse cx="437.50" cy="580.80" rx="3.00" ry="5.50" fill="#d42b14" stroke="#222" stroke-width="0.5" stroke-dasharray="0.9 0.6" transform="rotate(-4 437.50 580.80)"/>
<text x="431.50" y="573.00" font-size="2.2" fill="#333">αvβ3</text>
<ellipse cx="444.30" cy="591.80" rx="8.80" ry="2.60" fill="#f3e31a" stroke="#333" stroke-width="0.5" stroke-dasharray="0.9 0.6" transform="rotate(0 444.30 591.80)"/>
<text x="444.30" y="593.00" font-size="3.2" fill="#333" text-anchor="middle">AKT</text>
<line x1="443.70" y1="597.00" x2="443.70" y2="600.20" stroke="#2a3a9a" stroke-width="0.9"/>
<path d="M442.20 599.50 L443.70 601.40 L445.20 599.50 Z" fill="#2a3a9a"/>
<ellipse cx="434.30" cy="608.20" rx="9.00" ry="2.60" fill="#d42b14" stroke="#5a1008" stroke-width="0.35" transform="rotate(-8 434.30 608.20)"/>
<text x="434.30" y="609.30" font-size="2.8" fill="#6a1008" text-anchor="middle">KLF2</text>
<circle cx="449.2" cy="605.8" r="0.6" fill="#111"/>
<text x="454.00" y="609.00" font-size="4.6" fill="#c0141c" text-anchor="middle" stroke="#c0141c" stroke-width="0.18">✖</text>
<ellipse cx="434.46" cy="612.60" rx="1.64" ry="1.6" fill="#2a2a2a" stroke="#0a0a0a" stroke-width="0.8"/>
<ellipse cx="438.38" cy="612.60" rx="1.64" ry="1.6" fill="#2a2a2a" stroke="#0a0a0a" stroke-width="0.8"/>
<ellipse cx="442.29" cy="612.60" rx="1.64" ry="1.6" fill="#2a2a2a" stroke="#0a0a0a" stroke-width="0.8"/>
<ellipse cx="446.21" cy="612.60" rx="1.64" ry="1.6" fill="#2a2a2a" stroke="#0a0a0a" stroke-width="0.8"/>
<ellipse cx="450.12" cy="612.60" rx="1.64" ry="1.6" fill="#2a2a2a" stroke="#0a0a0a" stroke-width="0.8"/>
<ellipse cx="454.04" cy="612.60" rx="1.64" ry="1.6" fill="#2a2a2a" stroke="#0a0a0a" stroke-width="0.8"/>
<line x1="430.50" y1="613.80" x2="433.50" y2="611.40" stroke="#111" stroke-width="0.6"/>
<line x1="455.00" y1="614.00" x2="458.50" y2="610.60" stroke="#111" stroke-width="0.6"/>
<text x="442.50" y="625.50" font-size="3.8" fill="#333" text-anchor="middle">M.M</text>
<text x="427.10" y="630.80" font-size="3.8" fill="#333">Apoptosis</text>
<text x="427.10" y="635.60" font-size="3.8" fill="#333">Growth arrest</text>
<text x="427.10" y="640.50" font-size="3.8" fill="#333">Chemosensitivity</text>
</g>
<rect x="0.00" y="0.00" width="520.00" height="1.20" fill="#000"/>
<rect x="0.00" y="0.00" width="1.00" height="666.00" fill="#000"/>
<rect x="518.70" y="0.00" width="1.30" height="666.00" fill="#000"/>
<rect x="0.00" y="664.70" width="520.00" height="1.30" fill="#000"/>
</svg>
</body></html>
